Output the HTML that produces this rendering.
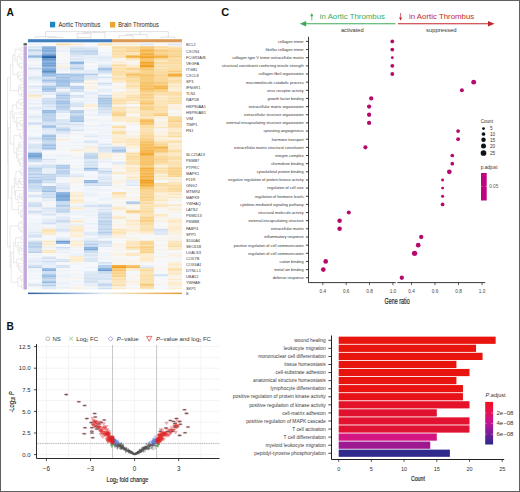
<!DOCTYPE html><html><head><meta charset="utf-8"><style>html,body{margin:0;padding:0;background:#fff;}svg{display:block;}text{font-family:"Liberation Sans",sans-serif;}</style></head><body>
<svg width="520" height="492" viewBox="0 0 520 492">
<rect x="0" y="0" width="520" height="492" fill="#fff"/>
<text x="6.6" y="15.6" font-size="10.2" text-anchor="start" fill="#111" font-weight="bold">A</text>
<rect x="50" y="21.8" width="5.2" height="5.6" fill="#1b87c6"/>
<text x="58.4" y="27.0" font-size="6.5" text-anchor="start" fill="#2a2a2a" textLength="42" lengthAdjust="spacingAndGlyphs">Aortic Thrombus</text>
<rect x="110" y="21.9" width="5.2" height="5.6" fill="#e9a530"/>
<text x="118.2" y="27.0" font-size="6.5" text-anchor="start" fill="#2a2a2a" textLength="40.6" lengthAdjust="spacingAndGlyphs">Brain Thrombus</text>
<path d="M35.0,38.6V36.8H56.3V36.8 M49.0,38.6V37.4H63.0V38.6 M56.3,36.8V37.4 M77.0,38.6V37.6H91.0V38.6 M77.0,37.6V33.4H91.0V37.6 M84.0,33.4V32.4H105.0V38.6 M119.0,38.6V35.6H133.0V38.6 M147.0,38.6V34.4H126.0V35.6 M161.0,38.6V37.1H175.0V38.6 M45.6,36.8V31.6H168.3V37.1 M94.5,32.4V31.6 M140,34.4V31.6" fill="none" stroke="#c4c4c4" stroke-width="0.5"/>
<rect x="28" y="39.2" width="84" height="3.1" fill="#3f7fbe"/>
<rect x="112" y="39.2" width="70" height="3.1" fill="#dc9a58"/>
<defs><filter id="hb" x="-2%" y="-2%" width="104%" height="104%"><feGaussianBlur stdDeviation="0.55"/></filter><clipPath id="hc"><rect x="28" y="43.2" width="154" height="246.3"/></clipPath></defs>
<g clip-path="url(#hc)"><g filter="url(#hb)"><rect x="28.0" y="43.20" width="14.3" height="2.30" fill="#ecf2f9"/><rect x="42.0" y="43.20" width="14.3" height="2.30" fill="#f6f8fc"/><rect x="56.0" y="43.20" width="14.3" height="2.30" fill="#fbe0ac"/><rect x="70.0" y="43.20" width="14.3" height="2.30" fill="#fcedd0"/><rect x="84.0" y="43.20" width="14.3" height="2.30" fill="#f5f7fc"/><rect x="98.0" y="43.20" width="14.3" height="2.30" fill="#fbe0ac"/><rect x="112.0" y="43.20" width="14.3" height="2.30" fill="#fcedd0"/><rect x="126.0" y="43.20" width="14.3" height="2.30" fill="#fcedd0"/><rect x="140.0" y="43.20" width="14.3" height="2.30" fill="#dde8f5"/><rect x="154.0" y="43.20" width="14.3" height="2.30" fill="#f7f5f2"/><rect x="168.0" y="43.20" width="14.3" height="2.30" fill="#dde8f5"/><rect x="28.0" y="46.24" width="14.3" height="1.72" fill="#d4e3f3"/><rect x="28.0" y="47.76" width="14.3" height="1.72" fill="#e6eef7"/><rect x="42.0" y="46.24" width="14.3" height="1.72" fill="#8db4df"/><rect x="42.0" y="47.76" width="14.3" height="1.72" fill="#81acdc"/><rect x="56.0" y="46.24" width="14.3" height="1.72" fill="#eaf0f9"/><rect x="56.0" y="47.76" width="14.3" height="1.72" fill="#f0f4fa"/><rect x="70.0" y="46.24" width="14.3" height="1.72" fill="#e0eaf6"/><rect x="70.0" y="47.76" width="14.3" height="1.72" fill="#d0e0f1"/><rect x="84.0" y="46.24" width="14.3" height="1.72" fill="#e6eef7"/><rect x="84.0" y="47.76" width="14.3" height="1.72" fill="#d5e3f3"/><rect x="98.0" y="46.24" width="14.3" height="1.72" fill="#f7f6f3"/><rect x="98.0" y="47.76" width="14.3" height="1.72" fill="#f6f8fb"/><rect x="112.0" y="46.24" width="14.3" height="1.72" fill="#fada9e"/><rect x="112.0" y="47.76" width="14.3" height="1.72" fill="#fbdea8"/><rect x="126.0" y="46.24" width="14.3" height="1.72" fill="#fada9e"/><rect x="126.0" y="47.76" width="14.3" height="1.72" fill="#f9d693"/><rect x="140.0" y="46.24" width="14.3" height="1.72" fill="#f7c66e"/><rect x="140.0" y="47.76" width="14.3" height="1.72" fill="#f8cc7c"/><rect x="154.0" y="46.24" width="14.3" height="1.72" fill="#fad99b"/><rect x="154.0" y="47.76" width="14.3" height="1.72" fill="#fbe2b2"/><rect x="168.0" y="46.24" width="14.3" height="1.72" fill="#fbe5bb"/><rect x="168.0" y="47.76" width="14.3" height="1.72" fill="#fadba0"/><rect x="28.0" y="49.28" width="14.3" height="1.72" fill="#b5ceea"/><rect x="28.0" y="50.80" width="14.3" height="1.72" fill="#d1e0f2"/><rect x="42.0" y="49.28" width="14.3" height="1.72" fill="#7eaada"/><rect x="42.0" y="50.80" width="14.3" height="1.72" fill="#82addd"/><rect x="56.0" y="49.28" width="14.3" height="1.72" fill="#edf2f9"/><rect x="56.0" y="50.80" width="14.3" height="1.72" fill="#eaf0f9"/><rect x="70.0" y="49.28" width="14.3" height="1.72" fill="#cfdff1"/><rect x="70.0" y="50.80" width="14.3" height="1.72" fill="#b9d1eb"/><rect x="84.0" y="49.28" width="14.3" height="1.72" fill="#ccddf0"/><rect x="84.0" y="50.80" width="14.3" height="1.72" fill="#b8d0eb"/><rect x="98.0" y="49.28" width="14.3" height="1.72" fill="#f6f8fb"/><rect x="98.0" y="50.80" width="14.3" height="1.72" fill="#f6f8fb"/><rect x="112.0" y="49.28" width="14.3" height="1.72" fill="#fbdfa9"/><rect x="112.0" y="50.80" width="14.3" height="1.72" fill="#fadca3"/><rect x="126.0" y="49.28" width="14.3" height="1.72" fill="#fad99b"/><rect x="126.0" y="50.80" width="14.3" height="1.72" fill="#f9d38e"/><rect x="140.0" y="49.28" width="14.3" height="1.72" fill="#f4b141"/><rect x="140.0" y="50.80" width="14.3" height="1.72" fill="#f6bc59"/><rect x="154.0" y="49.28" width="14.3" height="1.72" fill="#f8cc7d"/><rect x="154.0" y="50.80" width="14.3" height="1.72" fill="#f8cd7f"/><rect x="168.0" y="49.28" width="14.3" height="1.72" fill="#f9d490"/><rect x="168.0" y="50.80" width="14.3" height="1.72" fill="#f9d592"/><rect x="28.0" y="52.32" width="14.3" height="1.72" fill="#dce7f5"/><rect x="28.0" y="53.84" width="14.3" height="1.72" fill="#dae6f4"/><rect x="42.0" y="52.32" width="14.3" height="1.72" fill="#94b9e1"/><rect x="42.0" y="53.84" width="14.3" height="1.72" fill="#7aa7d8"/><rect x="56.0" y="52.32" width="14.3" height="1.72" fill="#f6f8fb"/><rect x="56.0" y="53.84" width="14.3" height="1.72" fill="#f7f7f7"/><rect x="70.0" y="52.32" width="14.3" height="1.72" fill="#cbdcf0"/><rect x="70.0" y="53.84" width="14.3" height="1.72" fill="#d3e1f2"/><rect x="84.0" y="52.32" width="14.3" height="1.72" fill="#c4d8ee"/><rect x="84.0" y="53.84" width="14.3" height="1.72" fill="#c4d8ee"/><rect x="98.0" y="52.32" width="14.3" height="1.72" fill="#edf2fa"/><rect x="98.0" y="53.84" width="14.3" height="1.72" fill="#f4f7fb"/><rect x="112.0" y="52.32" width="14.3" height="1.72" fill="#fbdfaa"/><rect x="112.0" y="53.84" width="14.3" height="1.72" fill="#fbdea7"/><rect x="126.0" y="52.32" width="14.3" height="1.72" fill="#fbe5ba"/><rect x="126.0" y="53.84" width="14.3" height="1.72" fill="#fbe5ba"/><rect x="140.0" y="52.32" width="14.3" height="1.72" fill="#f5ba53"/><rect x="140.0" y="53.84" width="14.3" height="1.72" fill="#f4af3d"/><rect x="154.0" y="52.32" width="14.3" height="1.72" fill="#f9d593"/><rect x="154.0" y="53.84" width="14.3" height="1.72" fill="#f9d189"/><rect x="168.0" y="52.32" width="14.3" height="1.72" fill="#f9d694"/><rect x="168.0" y="53.84" width="14.3" height="1.72" fill="#fad99c"/><rect x="28.0" y="55.36" width="14.3" height="1.72" fill="#90b7e0"/><rect x="28.0" y="56.88" width="14.3" height="1.72" fill="#afcae8"/><rect x="42.0" y="55.36" width="14.3" height="1.72" fill="#3770ae"/><rect x="42.0" y="56.88" width="14.3" height="1.72" fill="#2864a5"/><rect x="56.0" y="55.36" width="14.3" height="1.72" fill="#f7f7f6"/><rect x="56.0" y="56.88" width="14.3" height="1.72" fill="#f7f6f4"/><rect x="70.0" y="55.36" width="14.3" height="1.72" fill="#dae6f4"/><rect x="70.0" y="56.88" width="14.3" height="1.72" fill="#ecf1f9"/><rect x="84.0" y="55.36" width="14.3" height="1.72" fill="#ebf1f9"/><rect x="84.0" y="56.88" width="14.3" height="1.72" fill="#e0eaf6"/><rect x="98.0" y="55.36" width="14.3" height="1.72" fill="#e8eff8"/><rect x="98.0" y="56.88" width="14.3" height="1.72" fill="#dde8f5"/><rect x="112.0" y="55.36" width="14.3" height="1.72" fill="#fbe2b1"/><rect x="112.0" y="56.88" width="14.3" height="1.72" fill="#fbe4b7"/><rect x="126.0" y="55.36" width="14.3" height="1.72" fill="#f4b03f"/><rect x="126.0" y="56.88" width="14.3" height="1.72" fill="#f6bd5b"/><rect x="140.0" y="55.36" width="14.3" height="1.72" fill="#f4b03e"/><rect x="140.0" y="56.88" width="14.3" height="1.72" fill="#f2a123"/><rect x="154.0" y="55.36" width="14.3" height="1.72" fill="#f4b243"/><rect x="154.0" y="56.88" width="14.3" height="1.72" fill="#f5b74e"/><rect x="168.0" y="55.36" width="14.3" height="1.72" fill="#f8ce80"/><rect x="168.0" y="56.88" width="14.3" height="1.72" fill="#fada9e"/><rect x="28.0" y="58.40" width="14.3" height="1.72" fill="#f1f5fb"/><rect x="28.0" y="59.92" width="14.3" height="1.72" fill="#ecf2f9"/><rect x="42.0" y="58.40" width="14.3" height="1.72" fill="#6999ce"/><rect x="42.0" y="59.92" width="14.3" height="1.72" fill="#77a5d7"/><rect x="56.0" y="58.40" width="14.3" height="1.72" fill="#f6f8fb"/><rect x="56.0" y="59.92" width="14.3" height="1.72" fill="#f2f5fb"/><rect x="70.0" y="58.40" width="14.3" height="1.72" fill="#d6e3f3"/><rect x="70.0" y="59.92" width="14.3" height="1.72" fill="#ebf1f9"/><rect x="84.0" y="58.40" width="14.3" height="1.72" fill="#eaf0f9"/><rect x="84.0" y="59.92" width="14.3" height="1.72" fill="#edf2fa"/><rect x="98.0" y="58.40" width="14.3" height="1.72" fill="#e7eef8"/><rect x="98.0" y="59.92" width="14.3" height="1.72" fill="#e6eef7"/><rect x="112.0" y="58.40" width="14.3" height="1.72" fill="#f7f6f3"/><rect x="112.0" y="59.92" width="14.3" height="1.72" fill="#f8f5ef"/><rect x="126.0" y="58.40" width="14.3" height="1.72" fill="#fce8c1"/><rect x="126.0" y="59.92" width="14.3" height="1.72" fill="#fbf0da"/><rect x="140.0" y="58.40" width="14.3" height="1.72" fill="#f7c56d"/><rect x="140.0" y="59.92" width="14.3" height="1.72" fill="#f8c976"/><rect x="154.0" y="58.40" width="14.3" height="1.72" fill="#fadca2"/><rect x="154.0" y="59.92" width="14.3" height="1.72" fill="#fce8c1"/><rect x="168.0" y="58.40" width="14.3" height="1.72" fill="#fbdda5"/><rect x="168.0" y="59.92" width="14.3" height="1.72" fill="#fad99b"/><rect x="28.0" y="61.44" width="14.3" height="1.72" fill="#f5f7fc"/><rect x="28.0" y="62.96" width="14.3" height="1.72" fill="#f7f7f8"/><rect x="42.0" y="61.44" width="14.3" height="1.72" fill="#83aedd"/><rect x="42.0" y="62.96" width="14.3" height="1.72" fill="#73a2d4"/><rect x="56.0" y="61.44" width="14.3" height="1.72" fill="#f7f7f6"/><rect x="56.0" y="62.96" width="14.3" height="1.72" fill="#ecf1f9"/><rect x="70.0" y="61.44" width="14.3" height="1.72" fill="#91b7e1"/><rect x="70.0" y="62.96" width="14.3" height="1.72" fill="#91b7e1"/><rect x="84.0" y="61.44" width="14.3" height="1.72" fill="#ecf2f9"/><rect x="84.0" y="62.96" width="14.3" height="1.72" fill="#f7f7f7"/><rect x="98.0" y="61.44" width="14.3" height="1.72" fill="#f3f6fb"/><rect x="98.0" y="62.96" width="14.3" height="1.72" fill="#eff4fa"/><rect x="112.0" y="61.44" width="14.3" height="1.72" fill="#fcedd0"/><rect x="112.0" y="62.96" width="14.3" height="1.72" fill="#faf1df"/><rect x="126.0" y="61.44" width="14.3" height="1.72" fill="#f7f6f5"/><rect x="126.0" y="62.96" width="14.3" height="1.72" fill="#f8f4eb"/><rect x="140.0" y="61.44" width="14.3" height="1.72" fill="#f3a72b"/><rect x="140.0" y="62.96" width="14.3" height="1.72" fill="#f4b03f"/><rect x="154.0" y="61.44" width="14.3" height="1.72" fill="#fadda4"/><rect x="154.0" y="62.96" width="14.3" height="1.72" fill="#fada9e"/><rect x="168.0" y="61.44" width="14.3" height="1.72" fill="#fadca2"/><rect x="168.0" y="62.96" width="14.3" height="1.72" fill="#fadba1"/><rect x="28.0" y="64.48" width="14.3" height="1.72" fill="#ebf1f9"/><rect x="28.0" y="66.00" width="14.3" height="1.72" fill="#f6f8fa"/><rect x="42.0" y="64.48" width="14.3" height="1.72" fill="#6f9ed1"/><rect x="42.0" y="66.00" width="14.3" height="1.72" fill="#89b2de"/><rect x="56.0" y="64.48" width="14.3" height="1.72" fill="#f8f5ef"/><rect x="56.0" y="66.00" width="14.3" height="1.72" fill="#fbefd7"/><rect x="70.0" y="64.48" width="14.3" height="1.72" fill="#d7e4f3"/><rect x="70.0" y="66.00" width="14.3" height="1.72" fill="#cfdff1"/><rect x="84.0" y="64.48" width="14.3" height="1.72" fill="#f7f7f6"/><rect x="84.0" y="66.00" width="14.3" height="1.72" fill="#eff3fa"/><rect x="98.0" y="64.48" width="14.3" height="1.72" fill="#dde8f5"/><rect x="98.0" y="66.00" width="14.3" height="1.72" fill="#dee9f5"/><rect x="112.0" y="64.48" width="14.3" height="1.72" fill="#fad99b"/><rect x="112.0" y="66.00" width="14.3" height="1.72" fill="#fbe6bd"/><rect x="126.0" y="64.48" width="14.3" height="1.72" fill="#fcebcc"/><rect x="126.0" y="66.00" width="14.3" height="1.72" fill="#fcedd0"/><rect x="140.0" y="64.48" width="14.3" height="1.72" fill="#f2a225"/><rect x="140.0" y="66.00" width="14.3" height="1.72" fill="#f19d1e"/><rect x="154.0" y="64.48" width="14.3" height="1.72" fill="#fbe3b4"/><rect x="154.0" y="66.00" width="14.3" height="1.72" fill="#fbdda5"/><rect x="168.0" y="64.48" width="14.3" height="1.72" fill="#fbe0ab"/><rect x="168.0" y="66.00" width="14.3" height="1.72" fill="#fbdfaa"/><rect x="28.0" y="67.52" width="14.3" height="1.72" fill="#d0e0f1"/><rect x="28.0" y="69.04" width="14.3" height="1.72" fill="#e6eef8"/><rect x="42.0" y="67.52" width="14.3" height="1.72" fill="#93b9e1"/><rect x="42.0" y="69.04" width="14.3" height="1.72" fill="#78a6d7"/><rect x="56.0" y="67.52" width="14.3" height="1.72" fill="#ebf1f9"/><rect x="56.0" y="69.04" width="14.3" height="1.72" fill="#ebf1f9"/><rect x="70.0" y="67.52" width="14.3" height="1.72" fill="#b3cde9"/><rect x="70.0" y="69.04" width="14.3" height="1.72" fill="#cddef1"/><rect x="84.0" y="67.52" width="14.3" height="1.72" fill="#f4f7fc"/><rect x="84.0" y="69.04" width="14.3" height="1.72" fill="#eaf0f9"/><rect x="98.0" y="67.52" width="14.3" height="1.72" fill="#a8c6e7"/><rect x="98.0" y="69.04" width="14.3" height="1.72" fill="#a0c0e4"/><rect x="112.0" y="67.52" width="14.3" height="1.72" fill="#fbe0ab"/><rect x="112.0" y="69.04" width="14.3" height="1.72" fill="#fbe2b1"/><rect x="126.0" y="67.52" width="14.3" height="1.72" fill="#f9d591"/><rect x="126.0" y="69.04" width="14.3" height="1.72" fill="#fad797"/><rect x="140.0" y="67.52" width="14.3" height="1.72" fill="#f8cd7f"/><rect x="140.0" y="69.04" width="14.3" height="1.72" fill="#f7c770"/><rect x="154.0" y="67.52" width="14.3" height="1.72" fill="#fbe4b7"/><rect x="154.0" y="69.04" width="14.3" height="1.72" fill="#fbdda4"/><rect x="168.0" y="67.52" width="14.3" height="1.72" fill="#fadba0"/><rect x="168.0" y="69.04" width="14.3" height="1.72" fill="#fadda4"/><rect x="28.0" y="70.56" width="14.3" height="1.72" fill="#f0f4fa"/><rect x="28.0" y="72.08" width="14.3" height="1.72" fill="#f2f5fb"/><rect x="42.0" y="70.56" width="14.3" height="1.72" fill="#5b8ec5"/><rect x="42.0" y="72.08" width="14.3" height="1.72" fill="#6c9cd0"/><rect x="56.0" y="70.56" width="14.3" height="1.72" fill="#f2f6fb"/><rect x="56.0" y="72.08" width="14.3" height="1.72" fill="#f6f8fc"/><rect x="70.0" y="70.56" width="14.3" height="1.72" fill="#e9eff8"/><rect x="70.0" y="72.08" width="14.3" height="1.72" fill="#e5edf7"/><rect x="84.0" y="70.56" width="14.3" height="1.72" fill="#e1eaf6"/><rect x="84.0" y="72.08" width="14.3" height="1.72" fill="#e5edf7"/><rect x="98.0" y="70.56" width="14.3" height="1.72" fill="#c9dbef"/><rect x="98.0" y="72.08" width="14.3" height="1.72" fill="#cfdff1"/><rect x="112.0" y="70.56" width="14.3" height="1.72" fill="#fbdda5"/><rect x="112.0" y="72.08" width="14.3" height="1.72" fill="#fbdda5"/><rect x="126.0" y="70.56" width="14.3" height="1.72" fill="#fbe4b7"/><rect x="126.0" y="72.08" width="14.3" height="1.72" fill="#fad99c"/><rect x="140.0" y="70.56" width="14.3" height="1.72" fill="#f9d591"/><rect x="140.0" y="72.08" width="14.3" height="1.72" fill="#f9d189"/><rect x="154.0" y="70.56" width="14.3" height="1.72" fill="#fadba0"/><rect x="154.0" y="72.08" width="14.3" height="1.72" fill="#fad99b"/><rect x="168.0" y="70.56" width="14.3" height="1.72" fill="#f8cb7b"/><rect x="168.0" y="72.08" width="14.3" height="1.72" fill="#fadb9f"/><rect x="28.0" y="73.60" width="14.3" height="1.72" fill="#f0f4fa"/><rect x="28.0" y="75.12" width="14.3" height="1.72" fill="#ecf2f9"/><rect x="42.0" y="73.60" width="14.3" height="1.72" fill="#a4c3e6"/><rect x="42.0" y="75.12" width="14.3" height="1.72" fill="#91b7e0"/><rect x="56.0" y="73.60" width="14.3" height="1.72" fill="#9abde3"/><rect x="56.0" y="75.12" width="14.3" height="1.72" fill="#b4ceea"/><rect x="70.0" y="73.60" width="14.3" height="1.72" fill="#acc8e8"/><rect x="70.0" y="75.12" width="14.3" height="1.72" fill="#a0c1e5"/><rect x="84.0" y="73.60" width="14.3" height="1.72" fill="#b4ceea"/><rect x="84.0" y="75.12" width="14.3" height="1.72" fill="#d2e1f2"/><rect x="98.0" y="73.60" width="14.3" height="1.72" fill="#eff4fa"/><rect x="98.0" y="75.12" width="14.3" height="1.72" fill="#f5f7fc"/><rect x="112.0" y="73.60" width="14.3" height="1.72" fill="#fbdda5"/><rect x="112.0" y="75.12" width="14.3" height="1.72" fill="#fbe4b6"/><rect x="126.0" y="73.60" width="14.3" height="1.72" fill="#f6be5c"/><rect x="126.0" y="75.12" width="14.3" height="1.72" fill="#f7c975"/><rect x="140.0" y="73.60" width="14.3" height="1.72" fill="#f8ca77"/><rect x="140.0" y="75.12" width="14.3" height="1.72" fill="#f6c061"/><rect x="154.0" y="73.60" width="14.3" height="1.72" fill="#fad89a"/><rect x="154.0" y="75.12" width="14.3" height="1.72" fill="#f9d086"/><rect x="168.0" y="73.60" width="14.3" height="1.72" fill="#f4ad39"/><rect x="168.0" y="75.12" width="14.3" height="1.72" fill="#f3a62a"/><rect x="28.0" y="76.64" width="14.3" height="1.72" fill="#d6e4f3"/><rect x="28.0" y="78.16" width="14.3" height="1.72" fill="#d9e6f4"/><rect x="42.0" y="76.64" width="14.3" height="1.72" fill="#d1e0f2"/><rect x="42.0" y="78.16" width="14.3" height="1.72" fill="#c3d7ee"/><rect x="56.0" y="76.64" width="14.3" height="1.72" fill="#9fc0e4"/><rect x="56.0" y="78.16" width="14.3" height="1.72" fill="#a7c5e6"/><rect x="70.0" y="76.64" width="14.3" height="1.72" fill="#bbd2ec"/><rect x="70.0" y="78.16" width="14.3" height="1.72" fill="#b7cfea"/><rect x="84.0" y="76.64" width="14.3" height="1.72" fill="#dae6f4"/><rect x="84.0" y="78.16" width="14.3" height="1.72" fill="#d6e4f3"/><rect x="98.0" y="76.64" width="14.3" height="1.72" fill="#d4e2f2"/><rect x="98.0" y="78.16" width="14.3" height="1.72" fill="#ebf1f9"/><rect x="112.0" y="76.64" width="14.3" height="1.72" fill="#fce7c0"/><rect x="112.0" y="78.16" width="14.3" height="1.72" fill="#fadba0"/><rect x="126.0" y="76.64" width="14.3" height="1.72" fill="#fad99c"/><rect x="126.0" y="78.16" width="14.3" height="1.72" fill="#fbdda4"/><rect x="140.0" y="76.64" width="14.3" height="1.72" fill="#f8ce80"/><rect x="140.0" y="78.16" width="14.3" height="1.72" fill="#f7c66e"/><rect x="154.0" y="76.64" width="14.3" height="1.72" fill="#fada9e"/><rect x="154.0" y="78.16" width="14.3" height="1.72" fill="#f9d189"/><rect x="168.0" y="76.64" width="14.3" height="1.72" fill="#fbdda5"/><rect x="168.0" y="78.16" width="14.3" height="1.72" fill="#fbe4b7"/><rect x="28.0" y="79.68" width="14.3" height="1.72" fill="#ebf1f9"/><rect x="28.0" y="81.20" width="14.3" height="1.72" fill="#eff3fa"/><rect x="42.0" y="79.68" width="14.3" height="1.72" fill="#a0c1e5"/><rect x="42.0" y="81.20" width="14.3" height="1.72" fill="#b2cce9"/><rect x="56.0" y="79.68" width="14.3" height="1.72" fill="#9dbfe4"/><rect x="56.0" y="81.20" width="14.3" height="1.72" fill="#93b8e1"/><rect x="70.0" y="79.68" width="14.3" height="1.72" fill="#aecae8"/><rect x="70.0" y="81.20" width="14.3" height="1.72" fill="#afcbe8"/><rect x="84.0" y="79.68" width="14.3" height="1.72" fill="#faf1e0"/><rect x="84.0" y="81.20" width="14.3" height="1.72" fill="#f6f7f9"/><rect x="98.0" y="79.68" width="14.3" height="1.72" fill="#f3f6fb"/><rect x="98.0" y="81.20" width="14.3" height="1.72" fill="#edf3fa"/><rect x="112.0" y="79.68" width="14.3" height="1.72" fill="#fce8c3"/><rect x="112.0" y="81.20" width="14.3" height="1.72" fill="#fce8c1"/><rect x="126.0" y="79.68" width="14.3" height="1.72" fill="#fad99c"/><rect x="126.0" y="81.20" width="14.3" height="1.72" fill="#fada9e"/><rect x="140.0" y="79.68" width="14.3" height="1.72" fill="#f8ce80"/><rect x="140.0" y="81.20" width="14.3" height="1.72" fill="#f7c56b"/><rect x="154.0" y="79.68" width="14.3" height="1.72" fill="#fada9d"/><rect x="154.0" y="81.20" width="14.3" height="1.72" fill="#f8cd7e"/><rect x="168.0" y="79.68" width="14.3" height="1.72" fill="#fadca3"/><rect x="168.0" y="81.20" width="14.3" height="1.72" fill="#fadca2"/><rect x="28.0" y="82.72" width="14.3" height="1.72" fill="#f6f7f9"/><rect x="28.0" y="84.24" width="14.3" height="1.72" fill="#f4f7fb"/><rect x="42.0" y="82.72" width="14.3" height="1.72" fill="#e1eaf6"/><rect x="42.0" y="84.24" width="14.3" height="1.72" fill="#dce7f5"/><rect x="56.0" y="82.72" width="14.3" height="1.72" fill="#aecae8"/><rect x="56.0" y="84.24" width="14.3" height="1.72" fill="#9bbee3"/><rect x="70.0" y="82.72" width="14.3" height="1.72" fill="#eff3fa"/><rect x="70.0" y="84.24" width="14.3" height="1.72" fill="#f4f7fc"/><rect x="84.0" y="82.72" width="14.3" height="1.72" fill="#fcecce"/><rect x="84.0" y="84.24" width="14.3" height="1.72" fill="#f7f7f8"/><rect x="98.0" y="82.72" width="14.3" height="1.72" fill="#d0e0f1"/><rect x="98.0" y="84.24" width="14.3" height="1.72" fill="#dde8f5"/><rect x="112.0" y="82.72" width="14.3" height="1.72" fill="#f7f7f8"/><rect x="112.0" y="84.24" width="14.3" height="1.72" fill="#f5f7fc"/><rect x="126.0" y="82.72" width="14.3" height="1.72" fill="#fce7c0"/><rect x="126.0" y="84.24" width="14.3" height="1.72" fill="#fbe0ac"/><rect x="140.0" y="82.72" width="14.3" height="1.72" fill="#f7c367"/><rect x="140.0" y="84.24" width="14.3" height="1.72" fill="#f7c368"/><rect x="154.0" y="82.72" width="14.3" height="1.72" fill="#f8cb7b"/><rect x="154.0" y="84.24" width="14.3" height="1.72" fill="#f8cc7d"/><rect x="168.0" y="82.72" width="14.3" height="1.72" fill="#fbe6bd"/><rect x="168.0" y="84.24" width="14.3" height="1.72" fill="#fcecce"/><rect x="28.0" y="85.76" width="14.3" height="1.72" fill="#dae6f4"/><rect x="28.0" y="87.28" width="14.3" height="1.72" fill="#e3ecf7"/><rect x="42.0" y="85.76" width="14.3" height="1.72" fill="#abc8e7"/><rect x="42.0" y="87.28" width="14.3" height="1.72" fill="#a3c3e5"/><rect x="56.0" y="85.76" width="14.3" height="1.72" fill="#b3cde9"/><rect x="56.0" y="87.28" width="14.3" height="1.72" fill="#cedef1"/><rect x="70.0" y="85.76" width="14.3" height="1.72" fill="#b8d0eb"/><rect x="70.0" y="87.28" width="14.3" height="1.72" fill="#b1cce9"/><rect x="84.0" y="85.76" width="14.3" height="1.72" fill="#f9f3e9"/><rect x="84.0" y="87.28" width="14.3" height="1.72" fill="#faf1e0"/><rect x="98.0" y="85.76" width="14.3" height="1.72" fill="#f6f8fc"/><rect x="98.0" y="87.28" width="14.3" height="1.72" fill="#f2f6fb"/><rect x="112.0" y="85.76" width="14.3" height="1.72" fill="#f9f3e8"/><rect x="112.0" y="87.28" width="14.3" height="1.72" fill="#f9f2e4"/><rect x="126.0" y="85.76" width="14.3" height="1.72" fill="#fbdda5"/><rect x="126.0" y="87.28" width="14.3" height="1.72" fill="#fbe4b8"/><rect x="140.0" y="85.76" width="14.3" height="1.72" fill="#f6c163"/><rect x="140.0" y="87.28" width="14.3" height="1.72" fill="#f6bf5e"/><rect x="154.0" y="85.76" width="14.3" height="1.72" fill="#f5b64c"/><rect x="154.0" y="87.28" width="14.3" height="1.72" fill="#f4b03e"/><rect x="168.0" y="85.76" width="14.3" height="1.72" fill="#fbe6bc"/><rect x="168.0" y="87.28" width="14.3" height="1.72" fill="#fbeed6"/><rect x="28.0" y="88.80" width="14.3" height="1.72" fill="#f6f7fa"/><rect x="28.0" y="90.32" width="14.3" height="1.72" fill="#eaf0f9"/><rect x="42.0" y="88.80" width="14.3" height="1.72" fill="#9cbee3"/><rect x="42.0" y="90.32" width="14.3" height="1.72" fill="#a7c5e6"/><rect x="56.0" y="88.80" width="14.3" height="1.72" fill="#f5f7fc"/><rect x="56.0" y="90.32" width="14.3" height="1.72" fill="#ecf2f9"/><rect x="70.0" y="88.80" width="14.3" height="1.72" fill="#d1e0f2"/><rect x="70.0" y="90.32" width="14.3" height="1.72" fill="#c5d9ee"/><rect x="84.0" y="88.80" width="14.3" height="1.72" fill="#f7f6f3"/><rect x="84.0" y="90.32" width="14.3" height="1.72" fill="#f3f6fb"/><rect x="98.0" y="88.80" width="14.3" height="1.72" fill="#e5edf7"/><rect x="98.0" y="90.32" width="14.3" height="1.72" fill="#e4edf7"/><rect x="112.0" y="88.80" width="14.3" height="1.72" fill="#f5f7fc"/><rect x="112.0" y="90.32" width="14.3" height="1.72" fill="#f7f6f4"/><rect x="126.0" y="88.80" width="14.3" height="1.72" fill="#faf1e1"/><rect x="126.0" y="90.32" width="14.3" height="1.72" fill="#fcecce"/><rect x="140.0" y="88.80" width="14.3" height="1.72" fill="#f6c062"/><rect x="140.0" y="90.32" width="14.3" height="1.72" fill="#f7c873"/><rect x="154.0" y="88.80" width="14.3" height="1.72" fill="#f8cc7c"/><rect x="154.0" y="90.32" width="14.3" height="1.72" fill="#f8cd80"/><rect x="168.0" y="88.80" width="14.3" height="1.72" fill="#fbeed4"/><rect x="168.0" y="90.32" width="14.3" height="1.72" fill="#fceccd"/><rect x="28.0" y="91.84" width="14.3" height="1.72" fill="#edf2fa"/><rect x="28.0" y="93.36" width="14.3" height="1.72" fill="#ebf1f9"/><rect x="42.0" y="91.84" width="14.3" height="1.72" fill="#eaf0f9"/><rect x="42.0" y="93.36" width="14.3" height="1.72" fill="#dee8f5"/><rect x="56.0" y="91.84" width="14.3" height="1.72" fill="#d0e0f1"/><rect x="56.0" y="93.36" width="14.3" height="1.72" fill="#c4d8ee"/><rect x="70.0" y="91.84" width="14.3" height="1.72" fill="#f1f5fb"/><rect x="70.0" y="93.36" width="14.3" height="1.72" fill="#f5f7fc"/><rect x="84.0" y="91.84" width="14.3" height="1.72" fill="#e5edf7"/><rect x="84.0" y="93.36" width="14.3" height="1.72" fill="#e5edf7"/><rect x="98.0" y="91.84" width="14.3" height="1.72" fill="#f1f5fb"/><rect x="98.0" y="93.36" width="14.3" height="1.72" fill="#f0f4fa"/><rect x="112.0" y="91.84" width="14.3" height="1.72" fill="#fcedd1"/><rect x="112.0" y="93.36" width="14.3" height="1.72" fill="#faf0dc"/><rect x="126.0" y="91.84" width="14.3" height="1.72" fill="#fcecce"/><rect x="126.0" y="93.36" width="14.3" height="1.72" fill="#fceed2"/><rect x="140.0" y="91.84" width="14.3" height="1.72" fill="#fada9e"/><rect x="140.0" y="93.36" width="14.3" height="1.72" fill="#f8ce81"/><rect x="154.0" y="91.84" width="14.3" height="1.72" fill="#fbdfa9"/><rect x="154.0" y="93.36" width="14.3" height="1.72" fill="#fadba1"/><rect x="168.0" y="91.84" width="14.3" height="1.72" fill="#fadca3"/><rect x="168.0" y="93.36" width="14.3" height="1.72" fill="#fadca3"/><rect x="28.0" y="94.88" width="14.3" height="1.72" fill="#fbe5bb"/><rect x="28.0" y="96.40" width="14.3" height="1.72" fill="#fbefd7"/><rect x="42.0" y="94.88" width="14.3" height="1.72" fill="#f5f7fc"/><rect x="42.0" y="96.40" width="14.3" height="1.72" fill="#f4f7fb"/><rect x="56.0" y="94.88" width="14.3" height="1.72" fill="#a5c4e6"/><rect x="56.0" y="96.40" width="14.3" height="1.72" fill="#b6cfea"/><rect x="70.0" y="94.88" width="14.3" height="1.72" fill="#d4e2f2"/><rect x="70.0" y="96.40" width="14.3" height="1.72" fill="#d5e3f3"/><rect x="84.0" y="94.88" width="14.3" height="1.72" fill="#f2f5fb"/><rect x="84.0" y="96.40" width="14.3" height="1.72" fill="#eaf1f9"/><rect x="98.0" y="94.88" width="14.3" height="1.72" fill="#bfd5ed"/><rect x="98.0" y="96.40" width="14.3" height="1.72" fill="#cedef1"/><rect x="112.0" y="94.88" width="14.3" height="1.72" fill="#fcedd0"/><rect x="112.0" y="96.40" width="14.3" height="1.72" fill="#fceed2"/><rect x="126.0" y="94.88" width="14.3" height="1.72" fill="#fbe2b1"/><rect x="126.0" y="96.40" width="14.3" height="1.72" fill="#fbdea7"/><rect x="140.0" y="94.88" width="14.3" height="1.72" fill="#f9d189"/><rect x="140.0" y="96.40" width="14.3" height="1.72" fill="#f9d086"/><rect x="154.0" y="94.88" width="14.3" height="1.72" fill="#fce7c0"/><rect x="154.0" y="96.40" width="14.3" height="1.72" fill="#fce9c5"/><rect x="168.0" y="94.88" width="14.3" height="1.72" fill="#fbe2b1"/><rect x="168.0" y="96.40" width="14.3" height="1.72" fill="#fbe4b7"/><rect x="28.0" y="97.92" width="14.3" height="1.72" fill="#f7f6f5"/><rect x="28.0" y="99.44" width="14.3" height="1.72" fill="#edf2f9"/><rect x="42.0" y="97.92" width="14.3" height="1.72" fill="#cedff1"/><rect x="42.0" y="99.44" width="14.3" height="1.72" fill="#d0dff1"/><rect x="56.0" y="97.92" width="14.3" height="1.72" fill="#b3cde9"/><rect x="56.0" y="99.44" width="14.3" height="1.72" fill="#bcd3ec"/><rect x="70.0" y="97.92" width="14.3" height="1.72" fill="#f6f7f8"/><rect x="70.0" y="99.44" width="14.3" height="1.72" fill="#eef3fa"/><rect x="84.0" y="97.92" width="14.3" height="1.72" fill="#edf2fa"/><rect x="84.0" y="99.44" width="14.3" height="1.72" fill="#edf2fa"/><rect x="98.0" y="97.92" width="14.3" height="1.72" fill="#a2c2e5"/><rect x="98.0" y="99.44" width="14.3" height="1.72" fill="#abc8e7"/><rect x="112.0" y="97.92" width="14.3" height="1.72" fill="#fbe4b8"/><rect x="112.0" y="99.44" width="14.3" height="1.72" fill="#fbdda5"/><rect x="126.0" y="97.92" width="14.3" height="1.72" fill="#fbe3b3"/><rect x="126.0" y="99.44" width="14.3" height="1.72" fill="#fbdea6"/><rect x="140.0" y="97.92" width="14.3" height="1.72" fill="#f9d592"/><rect x="140.0" y="99.44" width="14.3" height="1.72" fill="#fad898"/><rect x="154.0" y="97.92" width="14.3" height="1.72" fill="#fbe6bc"/><rect x="154.0" y="99.44" width="14.3" height="1.72" fill="#fce7bf"/><rect x="168.0" y="97.92" width="14.3" height="1.72" fill="#fbdda5"/><rect x="168.0" y="99.44" width="14.3" height="1.72" fill="#fbe1b0"/><rect x="28.0" y="100.96" width="14.3" height="1.72" fill="#f5f7fc"/><rect x="28.0" y="102.48" width="14.3" height="1.72" fill="#eaf0f9"/><rect x="42.0" y="100.96" width="14.3" height="1.72" fill="#cbdcf0"/><rect x="42.0" y="102.48" width="14.3" height="1.72" fill="#c7daef"/><rect x="56.0" y="100.96" width="14.3" height="1.72" fill="#a0c1e4"/><rect x="56.0" y="102.48" width="14.3" height="1.72" fill="#a2c2e5"/><rect x="70.0" y="100.96" width="14.3" height="1.72" fill="#ebf1f9"/><rect x="70.0" y="102.48" width="14.3" height="1.72" fill="#d9e6f4"/><rect x="84.0" y="100.96" width="14.3" height="1.72" fill="#f0f4fa"/><rect x="84.0" y="102.48" width="14.3" height="1.72" fill="#f0f4fa"/><rect x="98.0" y="100.96" width="14.3" height="1.72" fill="#acc9e8"/><rect x="98.0" y="102.48" width="14.3" height="1.72" fill="#a8c6e6"/><rect x="112.0" y="100.96" width="14.3" height="1.72" fill="#fbe1ae"/><rect x="112.0" y="102.48" width="14.3" height="1.72" fill="#fbe0ab"/><rect x="126.0" y="100.96" width="14.3" height="1.72" fill="#faf1df"/><rect x="126.0" y="102.48" width="14.3" height="1.72" fill="#fce8c3"/><rect x="140.0" y="100.96" width="14.3" height="1.72" fill="#f8cd80"/><rect x="140.0" y="102.48" width="14.3" height="1.72" fill="#f7c368"/><rect x="154.0" y="100.96" width="14.3" height="1.72" fill="#fbe1ae"/><rect x="154.0" y="102.48" width="14.3" height="1.72" fill="#fbe4b8"/><rect x="168.0" y="100.96" width="14.3" height="1.72" fill="#fbdfa9"/><rect x="168.0" y="102.48" width="14.3" height="1.72" fill="#fbdfa9"/><rect x="28.0" y="104.00" width="14.3" height="1.72" fill="#ecf2f9"/><rect x="28.0" y="105.52" width="14.3" height="1.72" fill="#f6f7f9"/><rect x="42.0" y="104.00" width="14.3" height="1.72" fill="#d8e5f4"/><rect x="42.0" y="105.52" width="14.3" height="1.72" fill="#d8e5f4"/><rect x="56.0" y="104.00" width="14.3" height="1.72" fill="#b8d0eb"/><rect x="56.0" y="105.52" width="14.3" height="1.72" fill="#b2cce9"/><rect x="70.0" y="104.00" width="14.3" height="1.72" fill="#d4e2f2"/><rect x="70.0" y="105.52" width="14.3" height="1.72" fill="#d3e1f2"/><rect x="84.0" y="104.00" width="14.3" height="1.72" fill="#faf0db"/><rect x="84.0" y="105.52" width="14.3" height="1.72" fill="#fcedcf"/><rect x="98.0" y="104.00" width="14.3" height="1.72" fill="#b9d1eb"/><rect x="98.0" y="105.52" width="14.3" height="1.72" fill="#b4ceea"/><rect x="112.0" y="104.00" width="14.3" height="1.72" fill="#fceccf"/><rect x="112.0" y="105.52" width="14.3" height="1.72" fill="#f9f2e4"/><rect x="126.0" y="104.00" width="14.3" height="1.72" fill="#f6f8fa"/><rect x="126.0" y="105.52" width="14.3" height="1.72" fill="#f8f4eb"/><rect x="140.0" y="104.00" width="14.3" height="1.72" fill="#f9d28c"/><rect x="140.0" y="105.52" width="14.3" height="1.72" fill="#fad99c"/><rect x="154.0" y="104.00" width="14.3" height="1.72" fill="#fbe4b7"/><rect x="154.0" y="105.52" width="14.3" height="1.72" fill="#fbdea8"/><rect x="168.0" y="104.00" width="14.3" height="1.72" fill="#f9f2e5"/><rect x="168.0" y="105.52" width="14.3" height="1.72" fill="#faf1e0"/><rect x="28.0" y="107.04" width="14.3" height="1.72" fill="#dfe9f6"/><rect x="28.0" y="108.56" width="14.3" height="1.72" fill="#e7eef8"/><rect x="42.0" y="107.04" width="14.3" height="1.72" fill="#dee8f5"/><rect x="42.0" y="108.56" width="14.3" height="1.72" fill="#e2ebf6"/><rect x="56.0" y="107.04" width="14.3" height="1.72" fill="#b0cbe9"/><rect x="56.0" y="108.56" width="14.3" height="1.72" fill="#bcd3ec"/><rect x="70.0" y="107.04" width="14.3" height="1.72" fill="#f0f4fa"/><rect x="70.0" y="108.56" width="14.3" height="1.72" fill="#f6f7fa"/><rect x="84.0" y="107.04" width="14.3" height="1.72" fill="#f6f8fa"/><rect x="84.0" y="108.56" width="14.3" height="1.72" fill="#faf1e2"/><rect x="98.0" y="107.04" width="14.3" height="1.72" fill="#d0e0f1"/><rect x="98.0" y="108.56" width="14.3" height="1.72" fill="#ccddf0"/><rect x="112.0" y="107.04" width="14.3" height="1.72" fill="#fbdfa9"/><rect x="112.0" y="108.56" width="14.3" height="1.72" fill="#fbe5ba"/><rect x="126.0" y="107.04" width="14.3" height="1.72" fill="#fbe6be"/><rect x="126.0" y="108.56" width="14.3" height="1.72" fill="#f9f3e6"/><rect x="140.0" y="107.04" width="14.3" height="1.72" fill="#f8cc7c"/><rect x="140.0" y="108.56" width="14.3" height="1.72" fill="#f8cf83"/><rect x="154.0" y="107.04" width="14.3" height="1.72" fill="#fadda4"/><rect x="154.0" y="108.56" width="14.3" height="1.72" fill="#fbe0ab"/><rect x="168.0" y="107.04" width="14.3" height="1.72" fill="#faf1e2"/><rect x="168.0" y="108.56" width="14.3" height="1.72" fill="#fbefd8"/><rect x="28.0" y="110.08" width="14.3" height="1.72" fill="#f0f4fa"/><rect x="28.0" y="111.60" width="14.3" height="1.72" fill="#f6f7f9"/><rect x="42.0" y="110.08" width="14.3" height="1.72" fill="#90b6e0"/><rect x="42.0" y="111.60" width="14.3" height="1.72" fill="#99bce3"/><rect x="56.0" y="110.08" width="14.3" height="1.72" fill="#d1e0f2"/><rect x="56.0" y="111.60" width="14.3" height="1.72" fill="#d8e5f4"/><rect x="70.0" y="110.08" width="14.3" height="1.72" fill="#aecae8"/><rect x="70.0" y="111.60" width="14.3" height="1.72" fill="#acc9e8"/><rect x="84.0" y="110.08" width="14.3" height="1.72" fill="#ebf1f9"/><rect x="84.0" y="111.60" width="14.3" height="1.72" fill="#f5f7fc"/><rect x="98.0" y="110.08" width="14.3" height="1.72" fill="#dbe7f5"/><rect x="98.0" y="111.60" width="14.3" height="1.72" fill="#d5e3f3"/><rect x="112.0" y="110.08" width="14.3" height="1.72" fill="#fbe2b1"/><rect x="112.0" y="111.60" width="14.3" height="1.72" fill="#fada9e"/><rect x="126.0" y="110.08" width="14.3" height="1.72" fill="#fbeed4"/><rect x="126.0" y="111.60" width="14.3" height="1.72" fill="#fceac8"/><rect x="140.0" y="110.08" width="14.3" height="1.72" fill="#fbdea7"/><rect x="140.0" y="111.60" width="14.3" height="1.72" fill="#fbe0ad"/><rect x="154.0" y="110.08" width="14.3" height="1.72" fill="#fbdfaa"/><rect x="154.0" y="111.60" width="14.3" height="1.72" fill="#fbe2b2"/><rect x="168.0" y="110.08" width="14.3" height="1.72" fill="#f7f7f7"/><rect x="168.0" y="111.60" width="14.3" height="1.72" fill="#f7f7f6"/><rect x="28.0" y="113.12" width="14.3" height="1.72" fill="#f1f5fb"/><rect x="28.0" y="114.64" width="14.3" height="1.72" fill="#edf2f9"/><rect x="42.0" y="113.12" width="14.3" height="1.72" fill="#b1cce9"/><rect x="42.0" y="114.64" width="14.3" height="1.72" fill="#b8d0eb"/><rect x="56.0" y="113.12" width="14.3" height="1.72" fill="#f5f7fc"/><rect x="56.0" y="114.64" width="14.3" height="1.72" fill="#eef3fa"/><rect x="70.0" y="113.12" width="14.3" height="1.72" fill="#c9dbef"/><rect x="70.0" y="114.64" width="14.3" height="1.72" fill="#c2d7ed"/><rect x="84.0" y="113.12" width="14.3" height="1.72" fill="#f0f4fa"/><rect x="84.0" y="114.64" width="14.3" height="1.72" fill="#eef3fa"/><rect x="98.0" y="113.12" width="14.3" height="1.72" fill="#e0eaf6"/><rect x="98.0" y="114.64" width="14.3" height="1.72" fill="#e7eef8"/><rect x="112.0" y="113.12" width="14.3" height="1.72" fill="#f9d086"/><rect x="112.0" y="114.64" width="14.3" height="1.72" fill="#f9d38e"/><rect x="126.0" y="113.12" width="14.3" height="1.72" fill="#f9f3e6"/><rect x="126.0" y="114.64" width="14.3" height="1.72" fill="#f6f8fc"/><rect x="140.0" y="113.12" width="14.3" height="1.72" fill="#fbdda5"/><rect x="140.0" y="114.64" width="14.3" height="1.72" fill="#fadca2"/><rect x="154.0" y="113.12" width="14.3" height="1.72" fill="#f9d086"/><rect x="154.0" y="114.64" width="14.3" height="1.72" fill="#f8cc7c"/><rect x="168.0" y="113.12" width="14.3" height="1.72" fill="#faf1e2"/><rect x="168.0" y="114.64" width="14.3" height="1.72" fill="#f7f7f6"/><rect x="28.0" y="116.16" width="14.3" height="1.72" fill="#d9e6f4"/><rect x="28.0" y="117.68" width="14.3" height="1.72" fill="#ebf1f9"/><rect x="42.0" y="116.16" width="14.3" height="1.72" fill="#b6cfea"/><rect x="42.0" y="117.68" width="14.3" height="1.72" fill="#c0d5ed"/><rect x="56.0" y="116.16" width="14.3" height="1.72" fill="#eef3fa"/><rect x="56.0" y="117.68" width="14.3" height="1.72" fill="#f6f7fa"/><rect x="70.0" y="116.16" width="14.3" height="1.72" fill="#a7c5e6"/><rect x="70.0" y="117.68" width="14.3" height="1.72" fill="#acc8e8"/><rect x="84.0" y="116.16" width="14.3" height="1.72" fill="#f7f7f6"/><rect x="84.0" y="117.68" width="14.3" height="1.72" fill="#f6f7f9"/><rect x="98.0" y="116.16" width="14.3" height="1.72" fill="#f6f8fc"/><rect x="98.0" y="117.68" width="14.3" height="1.72" fill="#f2f6fb"/><rect x="112.0" y="116.16" width="14.3" height="1.72" fill="#fbe6bc"/><rect x="112.0" y="117.68" width="14.3" height="1.72" fill="#fcebc9"/><rect x="126.0" y="116.16" width="14.3" height="1.72" fill="#fceed4"/><rect x="126.0" y="117.68" width="14.3" height="1.72" fill="#fceac9"/><rect x="140.0" y="116.16" width="14.3" height="1.72" fill="#fbe3b5"/><rect x="140.0" y="117.68" width="14.3" height="1.72" fill="#fbe6bc"/><rect x="154.0" y="116.16" width="14.3" height="1.72" fill="#fbefd6"/><rect x="154.0" y="117.68" width="14.3" height="1.72" fill="#f9f2e3"/><rect x="168.0" y="116.16" width="14.3" height="1.72" fill="#fadb9f"/><rect x="168.0" y="117.68" width="14.3" height="1.72" fill="#fad99c"/><rect x="28.0" y="119.20" width="14.3" height="1.72" fill="#eaf1f9"/><rect x="28.0" y="120.72" width="14.3" height="1.72" fill="#f5f7fc"/><rect x="42.0" y="119.20" width="14.3" height="1.72" fill="#b4ceea"/><rect x="42.0" y="120.72" width="14.3" height="1.72" fill="#c4d8ee"/><rect x="56.0" y="119.20" width="14.3" height="1.72" fill="#d7e4f3"/><rect x="56.0" y="120.72" width="14.3" height="1.72" fill="#dbe7f5"/><rect x="70.0" y="119.20" width="14.3" height="1.72" fill="#abc8e7"/><rect x="70.0" y="120.72" width="14.3" height="1.72" fill="#9ec0e4"/><rect x="84.0" y="119.20" width="14.3" height="1.72" fill="#ecf1f9"/><rect x="84.0" y="120.72" width="14.3" height="1.72" fill="#f0f4fa"/><rect x="98.0" y="119.20" width="14.3" height="1.72" fill="#f7f6f4"/><rect x="98.0" y="120.72" width="14.3" height="1.72" fill="#eef3fa"/><rect x="112.0" y="119.20" width="14.3" height="1.72" fill="#fcebcb"/><rect x="112.0" y="120.72" width="14.3" height="1.72" fill="#fbefda"/><rect x="126.0" y="119.20" width="14.3" height="1.72" fill="#fceac7"/><rect x="126.0" y="120.72" width="14.3" height="1.72" fill="#fce8c1"/><rect x="140.0" y="119.20" width="14.3" height="1.72" fill="#f6be5c"/><rect x="140.0" y="120.72" width="14.3" height="1.72" fill="#f5ba54"/><rect x="154.0" y="119.20" width="14.3" height="1.72" fill="#f8f4ed"/><rect x="154.0" y="120.72" width="14.3" height="1.72" fill="#f9f3e7"/><rect x="168.0" y="119.20" width="14.3" height="1.72" fill="#fad695"/><rect x="168.0" y="120.72" width="14.3" height="1.72" fill="#f8cf82"/><rect x="28.0" y="122.24" width="14.3" height="1.72" fill="#cedef1"/><rect x="28.0" y="123.76" width="14.3" height="1.72" fill="#d8e5f4"/><rect x="42.0" y="122.24" width="14.3" height="1.72" fill="#d3e2f2"/><rect x="42.0" y="123.76" width="14.3" height="1.72" fill="#d8e5f4"/><rect x="56.0" y="122.24" width="14.3" height="1.72" fill="#d4e2f3"/><rect x="56.0" y="123.76" width="14.3" height="1.72" fill="#cfdff1"/><rect x="70.0" y="122.24" width="14.3" height="1.72" fill="#e6eef8"/><rect x="70.0" y="123.76" width="14.3" height="1.72" fill="#d3e2f2"/><rect x="84.0" y="122.24" width="14.3" height="1.72" fill="#f7f7f8"/><rect x="84.0" y="123.76" width="14.3" height="1.72" fill="#f7f7f8"/><rect x="98.0" y="122.24" width="14.3" height="1.72" fill="#f6f8fb"/><rect x="98.0" y="123.76" width="14.3" height="1.72" fill="#ebf1f9"/><rect x="112.0" y="122.24" width="14.3" height="1.72" fill="#f6f7f9"/><rect x="112.0" y="123.76" width="14.3" height="1.72" fill="#f6f7fa"/><rect x="126.0" y="122.24" width="14.3" height="1.72" fill="#f9f3e6"/><rect x="126.0" y="123.76" width="14.3" height="1.72" fill="#f9f3e9"/><rect x="140.0" y="122.24" width="14.3" height="1.72" fill="#f6c265"/><rect x="140.0" y="123.76" width="14.3" height="1.72" fill="#f8ca78"/><rect x="154.0" y="122.24" width="14.3" height="1.72" fill="#fbefd9"/><rect x="154.0" y="123.76" width="14.3" height="1.72" fill="#fbf0da"/><rect x="168.0" y="122.24" width="14.3" height="1.72" fill="#fbe1af"/><rect x="168.0" y="123.76" width="14.3" height="1.72" fill="#fada9e"/><rect x="28.0" y="125.28" width="14.3" height="1.72" fill="#f7f6f4"/><rect x="28.0" y="126.80" width="14.3" height="1.72" fill="#f7f6f6"/><rect x="42.0" y="125.28" width="14.3" height="1.72" fill="#a0c1e5"/><rect x="42.0" y="126.80" width="14.3" height="1.72" fill="#aac7e7"/><rect x="56.0" y="125.28" width="14.3" height="1.72" fill="#e6edf7"/><rect x="56.0" y="126.80" width="14.3" height="1.72" fill="#d4e2f2"/><rect x="70.0" y="125.28" width="14.3" height="1.72" fill="#e0eaf6"/><rect x="70.0" y="126.80" width="14.3" height="1.72" fill="#ebf1f9"/><rect x="84.0" y="125.28" width="14.3" height="1.72" fill="#ebf1f9"/><rect x="84.0" y="126.80" width="14.3" height="1.72" fill="#f6f8fc"/><rect x="98.0" y="125.28" width="14.3" height="1.72" fill="#ecf2f9"/><rect x="98.0" y="126.80" width="14.3" height="1.72" fill="#f3f6fb"/><rect x="112.0" y="125.28" width="14.3" height="1.72" fill="#fbe6bc"/><rect x="112.0" y="126.80" width="14.3" height="1.72" fill="#fadba1"/><rect x="126.0" y="125.28" width="14.3" height="1.72" fill="#f7f7f7"/><rect x="126.0" y="126.80" width="14.3" height="1.72" fill="#f6f8fc"/><rect x="140.0" y="125.28" width="14.3" height="1.72" fill="#fbdea7"/><rect x="140.0" y="126.80" width="14.3" height="1.72" fill="#fbdea7"/><rect x="154.0" y="125.28" width="14.3" height="1.72" fill="#f9f3e7"/><rect x="154.0" y="126.80" width="14.3" height="1.72" fill="#fbe6bd"/><rect x="168.0" y="125.28" width="14.3" height="1.72" fill="#fad99b"/><rect x="168.0" y="126.80" width="14.3" height="1.72" fill="#fbe1af"/><rect x="28.0" y="128.32" width="14.3" height="1.72" fill="#f4f7fb"/><rect x="28.0" y="129.84" width="14.3" height="1.72" fill="#f0f4fa"/><rect x="42.0" y="128.32" width="14.3" height="1.72" fill="#dbe7f5"/><rect x="42.0" y="129.84" width="14.3" height="1.72" fill="#e4edf7"/><rect x="56.0" y="128.32" width="14.3" height="1.72" fill="#b7d0eb"/><rect x="56.0" y="129.84" width="14.3" height="1.72" fill="#bcd3ec"/><rect x="70.0" y="128.32" width="14.3" height="1.72" fill="#e5edf7"/><rect x="70.0" y="129.84" width="14.3" height="1.72" fill="#d5e3f3"/><rect x="84.0" y="128.32" width="14.3" height="1.72" fill="#ecf2f9"/><rect x="84.0" y="129.84" width="14.3" height="1.72" fill="#f1f5fb"/><rect x="98.0" y="128.32" width="14.3" height="1.72" fill="#f0f4fa"/><rect x="98.0" y="129.84" width="14.3" height="1.72" fill="#f3f6fb"/><rect x="112.0" y="128.32" width="14.3" height="1.72" fill="#f9f2e4"/><rect x="112.0" y="129.84" width="14.3" height="1.72" fill="#fceccf"/><rect x="126.0" y="128.32" width="14.3" height="1.72" fill="#f6f8fa"/><rect x="126.0" y="129.84" width="14.3" height="1.72" fill="#f6f7f9"/><rect x="140.0" y="128.32" width="14.3" height="1.72" fill="#fbe2b3"/><rect x="140.0" y="129.84" width="14.3" height="1.72" fill="#fbe3b5"/><rect x="154.0" y="128.32" width="14.3" height="1.72" fill="#f7f5f2"/><rect x="154.0" y="129.84" width="14.3" height="1.72" fill="#f9f3e9"/><rect x="168.0" y="128.32" width="14.3" height="1.72" fill="#fceac8"/><rect x="168.0" y="129.84" width="14.3" height="1.72" fill="#fbefda"/><rect x="28.0" y="131.36" width="14.3" height="1.72" fill="#f3f6fb"/><rect x="28.0" y="132.88" width="14.3" height="1.72" fill="#f6f8fb"/><rect x="42.0" y="131.36" width="14.3" height="1.72" fill="#e1ebf6"/><rect x="42.0" y="132.88" width="14.3" height="1.72" fill="#eaf0f9"/><rect x="56.0" y="131.36" width="14.3" height="1.72" fill="#d6e3f3"/><rect x="56.0" y="132.88" width="14.3" height="1.72" fill="#e2ebf6"/><rect x="70.0" y="131.36" width="14.3" height="1.72" fill="#f7f7f6"/><rect x="70.0" y="132.88" width="14.3" height="1.72" fill="#ebf1f9"/><rect x="84.0" y="131.36" width="14.3" height="1.72" fill="#f6f8fb"/><rect x="84.0" y="132.88" width="14.3" height="1.72" fill="#f1f5fb"/><rect x="98.0" y="131.36" width="14.3" height="1.72" fill="#eef3fa"/><rect x="98.0" y="132.88" width="14.3" height="1.72" fill="#f7f7f7"/><rect x="112.0" y="131.36" width="14.3" height="1.72" fill="#fbdea7"/><rect x="112.0" y="132.88" width="14.3" height="1.72" fill="#fbdea7"/><rect x="126.0" y="131.36" width="14.3" height="1.72" fill="#f9f2e3"/><rect x="126.0" y="132.88" width="14.3" height="1.72" fill="#f6f8fa"/><rect x="140.0" y="131.36" width="14.3" height="1.72" fill="#fbdfab"/><rect x="140.0" y="132.88" width="14.3" height="1.72" fill="#fbdda5"/><rect x="154.0" y="131.36" width="14.3" height="1.72" fill="#f9f2e3"/><rect x="154.0" y="132.88" width="14.3" height="1.72" fill="#f9f3e8"/><rect x="168.0" y="131.36" width="14.3" height="1.72" fill="#fbe4b7"/><rect x="168.0" y="132.88" width="14.3" height="1.72" fill="#fbe1af"/><rect x="28.0" y="134.40" width="14.3" height="1.72" fill="#f5f8fc"/><rect x="28.0" y="135.92" width="14.3" height="1.72" fill="#eef3fa"/><rect x="42.0" y="134.40" width="14.3" height="1.72" fill="#aac7e7"/><rect x="42.0" y="135.92" width="14.3" height="1.72" fill="#9fc0e4"/><rect x="56.0" y="134.40" width="14.3" height="1.72" fill="#f0f4fa"/><rect x="56.0" y="135.92" width="14.3" height="1.72" fill="#edf2f9"/><rect x="70.0" y="134.40" width="14.3" height="1.72" fill="#f7f6f5"/><rect x="70.0" y="135.92" width="14.3" height="1.72" fill="#f5f7fc"/><rect x="84.0" y="134.40" width="14.3" height="1.72" fill="#e8eff8"/><rect x="84.0" y="135.92" width="14.3" height="1.72" fill="#dde8f5"/><rect x="98.0" y="134.40" width="14.3" height="1.72" fill="#ebf1f9"/><rect x="98.0" y="135.92" width="14.3" height="1.72" fill="#f0f4fa"/><rect x="112.0" y="134.40" width="14.3" height="1.72" fill="#fbefd7"/><rect x="112.0" y="135.92" width="14.3" height="1.72" fill="#fbefd8"/><rect x="126.0" y="134.40" width="14.3" height="1.72" fill="#f8f4eb"/><rect x="126.0" y="135.92" width="14.3" height="1.72" fill="#f9f2e3"/><rect x="140.0" y="134.40" width="14.3" height="1.72" fill="#fad797"/><rect x="140.0" y="135.92" width="14.3" height="1.72" fill="#fad899"/><rect x="154.0" y="134.40" width="14.3" height="1.72" fill="#fbefd9"/><rect x="154.0" y="135.92" width="14.3" height="1.72" fill="#fce8c3"/><rect x="168.0" y="134.40" width="14.3" height="1.72" fill="#fbe4b8"/><rect x="168.0" y="135.92" width="14.3" height="1.72" fill="#fadca2"/><rect x="28.0" y="137.44" width="14.3" height="1.72" fill="#d3e2f2"/><rect x="28.0" y="138.96" width="14.3" height="1.72" fill="#e0eaf6"/><rect x="42.0" y="137.44" width="14.3" height="1.72" fill="#abc8e7"/><rect x="42.0" y="138.96" width="14.3" height="1.72" fill="#a9c7e7"/><rect x="56.0" y="137.44" width="14.3" height="1.72" fill="#f7f7f8"/><rect x="56.0" y="138.96" width="14.3" height="1.72" fill="#fcebcb"/><rect x="70.0" y="137.44" width="14.3" height="1.72" fill="#f7f7f8"/><rect x="70.0" y="138.96" width="14.3" height="1.72" fill="#f4f7fb"/><rect x="84.0" y="137.44" width="14.3" height="1.72" fill="#f6f7f9"/><rect x="84.0" y="138.96" width="14.3" height="1.72" fill="#f2f5fb"/><rect x="98.0" y="137.44" width="14.3" height="1.72" fill="#edf2f9"/><rect x="98.0" y="138.96" width="14.3" height="1.72" fill="#f4f7fb"/><rect x="112.0" y="137.44" width="14.3" height="1.72" fill="#fcebca"/><rect x="112.0" y="138.96" width="14.3" height="1.72" fill="#fceed3"/><rect x="126.0" y="137.44" width="14.3" height="1.72" fill="#fbeed5"/><rect x="126.0" y="138.96" width="14.3" height="1.72" fill="#fbe6bc"/><rect x="140.0" y="137.44" width="14.3" height="1.72" fill="#f9d593"/><rect x="140.0" y="138.96" width="14.3" height="1.72" fill="#f9d087"/><rect x="154.0" y="137.44" width="14.3" height="1.72" fill="#faf1e0"/><rect x="154.0" y="138.96" width="14.3" height="1.72" fill="#fcedcf"/><rect x="168.0" y="137.44" width="14.3" height="1.72" fill="#faf1e1"/><rect x="168.0" y="138.96" width="14.3" height="1.72" fill="#f9f2e4"/><rect x="28.0" y="140.48" width="14.3" height="1.72" fill="#f0f4fa"/><rect x="28.0" y="142.00" width="14.3" height="1.72" fill="#f5f7fc"/><rect x="42.0" y="140.48" width="14.3" height="1.72" fill="#c5d9ee"/><rect x="42.0" y="142.00" width="14.3" height="1.72" fill="#cddef0"/><rect x="56.0" y="140.48" width="14.3" height="1.72" fill="#f6f8fc"/><rect x="56.0" y="142.00" width="14.3" height="1.72" fill="#f1f5fa"/><rect x="70.0" y="140.48" width="14.3" height="1.72" fill="#f3f6fb"/><rect x="70.0" y="142.00" width="14.3" height="1.72" fill="#eef3fa"/><rect x="84.0" y="140.48" width="14.3" height="1.72" fill="#d9e5f4"/><rect x="84.0" y="142.00" width="14.3" height="1.72" fill="#dde8f5"/><rect x="98.0" y="140.48" width="14.3" height="1.72" fill="#f0f4fa"/><rect x="98.0" y="142.00" width="14.3" height="1.72" fill="#f5f7fc"/><rect x="112.0" y="140.48" width="14.3" height="1.72" fill="#fce8c2"/><rect x="112.0" y="142.00" width="14.3" height="1.72" fill="#fce9c5"/><rect x="126.0" y="140.48" width="14.3" height="1.72" fill="#fce7bf"/><rect x="126.0" y="142.00" width="14.3" height="1.72" fill="#fce8c3"/><rect x="140.0" y="140.48" width="14.3" height="1.72" fill="#f7c771"/><rect x="140.0" y="142.00" width="14.3" height="1.72" fill="#f7c368"/><rect x="154.0" y="140.48" width="14.3" height="1.72" fill="#fce7bf"/><rect x="154.0" y="142.00" width="14.3" height="1.72" fill="#fadba1"/><rect x="168.0" y="140.48" width="14.3" height="1.72" fill="#fbdda4"/><rect x="168.0" y="142.00" width="14.3" height="1.72" fill="#fbe4b6"/><rect x="28.0" y="143.52" width="14.3" height="1.72" fill="#dce7f5"/><rect x="28.0" y="145.04" width="14.3" height="1.72" fill="#d6e4f3"/><rect x="42.0" y="143.52" width="14.3" height="1.72" fill="#aecae8"/><rect x="42.0" y="145.04" width="14.3" height="1.72" fill="#9fc0e4"/><rect x="56.0" y="143.52" width="14.3" height="1.72" fill="#f6f8fa"/><rect x="56.0" y="145.04" width="14.3" height="1.72" fill="#f0f4fa"/><rect x="70.0" y="143.52" width="14.3" height="1.72" fill="#f7f7f6"/><rect x="70.0" y="145.04" width="14.3" height="1.72" fill="#edf2f9"/><rect x="84.0" y="143.52" width="14.3" height="1.72" fill="#f6f8fb"/><rect x="84.0" y="145.04" width="14.3" height="1.72" fill="#eef3fa"/><rect x="98.0" y="143.52" width="14.3" height="1.72" fill="#dbe7f5"/><rect x="98.0" y="145.04" width="14.3" height="1.72" fill="#ebf1f9"/><rect x="112.0" y="143.52" width="14.3" height="1.72" fill="#f8f4ec"/><rect x="112.0" y="145.04" width="14.3" height="1.72" fill="#f9f2e4"/><rect x="126.0" y="143.52" width="14.3" height="1.72" fill="#fbe6bd"/><rect x="126.0" y="145.04" width="14.3" height="1.72" fill="#fcedd2"/><rect x="140.0" y="143.52" width="14.3" height="1.72" fill="#f6c163"/><rect x="140.0" y="145.04" width="14.3" height="1.72" fill="#f6bd5c"/><rect x="154.0" y="143.52" width="14.3" height="1.72" fill="#f9d693"/><rect x="154.0" y="145.04" width="14.3" height="1.72" fill="#fad797"/><rect x="168.0" y="143.52" width="14.3" height="1.72" fill="#faf0dd"/><rect x="168.0" y="145.04" width="14.3" height="1.72" fill="#fce9c4"/><rect x="28.0" y="146.56" width="14.3" height="1.72" fill="#d2e1f2"/><rect x="28.0" y="148.08" width="14.3" height="1.72" fill="#dee9f5"/><rect x="42.0" y="146.56" width="14.3" height="1.72" fill="#b4cdea"/><rect x="42.0" y="148.08" width="14.3" height="1.72" fill="#96bae2"/><rect x="56.0" y="146.56" width="14.3" height="1.72" fill="#f7f6f4"/><rect x="56.0" y="148.08" width="14.3" height="1.72" fill="#f2f6fb"/><rect x="70.0" y="146.56" width="14.3" height="1.72" fill="#f6f8fb"/><rect x="70.0" y="148.08" width="14.3" height="1.72" fill="#ecf2f9"/><rect x="84.0" y="146.56" width="14.3" height="1.72" fill="#fcedd2"/><rect x="84.0" y="148.08" width="14.3" height="1.72" fill="#f9f3e7"/><rect x="98.0" y="146.56" width="14.3" height="1.72" fill="#d2e1f2"/><rect x="98.0" y="148.08" width="14.3" height="1.72" fill="#d2e1f2"/><rect x="112.0" y="146.56" width="14.3" height="1.72" fill="#c4d8ee"/><rect x="112.0" y="148.08" width="14.3" height="1.72" fill="#c1d6ed"/><rect x="126.0" y="146.56" width="14.3" height="1.72" fill="#faf1de"/><rect x="126.0" y="148.08" width="14.3" height="1.72" fill="#faf0dc"/><rect x="140.0" y="146.56" width="14.3" height="1.72" fill="#f6bc59"/><rect x="140.0" y="148.08" width="14.3" height="1.72" fill="#f6bd5a"/><rect x="154.0" y="146.56" width="14.3" height="1.72" fill="#f4b345"/><rect x="154.0" y="148.08" width="14.3" height="1.72" fill="#f6bf5f"/><rect x="168.0" y="146.56" width="14.3" height="1.72" fill="#fcebcc"/><rect x="168.0" y="148.08" width="14.3" height="1.72" fill="#fcebcc"/><rect x="28.0" y="149.60" width="14.3" height="1.72" fill="#e4edf7"/><rect x="28.0" y="151.12" width="14.3" height="1.72" fill="#dfe9f6"/><rect x="42.0" y="149.60" width="14.3" height="1.72" fill="#ebf1f9"/><rect x="42.0" y="151.12" width="14.3" height="1.72" fill="#f4f7fb"/><rect x="56.0" y="149.60" width="14.3" height="1.72" fill="#f7f6f6"/><rect x="56.0" y="151.12" width="14.3" height="1.72" fill="#f6f8fc"/><rect x="70.0" y="149.60" width="14.3" height="1.72" fill="#fcedd0"/><rect x="70.0" y="151.12" width="14.3" height="1.72" fill="#f8f5ef"/><rect x="84.0" y="149.60" width="14.3" height="1.72" fill="#f9f2e2"/><rect x="84.0" y="151.12" width="14.3" height="1.72" fill="#f9f3e8"/><rect x="98.0" y="149.60" width="14.3" height="1.72" fill="#d8e5f4"/><rect x="98.0" y="151.12" width="14.3" height="1.72" fill="#d9e6f4"/><rect x="112.0" y="149.60" width="14.3" height="1.72" fill="#a1c1e5"/><rect x="112.0" y="151.12" width="14.3" height="1.72" fill="#a8c6e7"/><rect x="126.0" y="149.60" width="14.3" height="1.72" fill="#f6f8fc"/><rect x="126.0" y="151.12" width="14.3" height="1.72" fill="#f9f2e3"/><rect x="140.0" y="149.60" width="14.3" height="1.72" fill="#f5b64b"/><rect x="140.0" y="151.12" width="14.3" height="1.72" fill="#f5b54a"/><rect x="154.0" y="149.60" width="14.3" height="1.72" fill="#f7c975"/><rect x="154.0" y="151.12" width="14.3" height="1.72" fill="#f7c266"/><rect x="168.0" y="149.60" width="14.3" height="1.72" fill="#fadda4"/><rect x="168.0" y="151.12" width="14.3" height="1.72" fill="#fada9d"/><rect x="28.0" y="152.64" width="14.3" height="1.72" fill="#83aedd"/><rect x="28.0" y="154.16" width="14.3" height="1.72" fill="#74a2d4"/><rect x="42.0" y="152.64" width="14.3" height="1.72" fill="#f6f8fb"/><rect x="42.0" y="154.16" width="14.3" height="1.72" fill="#eff3fa"/><rect x="56.0" y="152.64" width="14.3" height="1.72" fill="#f4f7fb"/><rect x="56.0" y="154.16" width="14.3" height="1.72" fill="#ecf2f9"/><rect x="70.0" y="152.64" width="14.3" height="1.72" fill="#f6f8fa"/><rect x="70.0" y="154.16" width="14.3" height="1.72" fill="#f8f5ee"/><rect x="84.0" y="152.64" width="14.3" height="1.72" fill="#cedff1"/><rect x="84.0" y="154.16" width="14.3" height="1.72" fill="#bfd5ed"/><rect x="98.0" y="152.64" width="14.3" height="1.72" fill="#faf1e0"/><rect x="98.0" y="154.16" width="14.3" height="1.72" fill="#fceed2"/><rect x="112.0" y="152.64" width="14.3" height="1.72" fill="#f8f4eb"/><rect x="112.0" y="154.16" width="14.3" height="1.72" fill="#f9f3e8"/><rect x="126.0" y="152.64" width="14.3" height="1.72" fill="#fadba1"/><rect x="126.0" y="154.16" width="14.3" height="1.72" fill="#fbe2b3"/><rect x="140.0" y="152.64" width="14.3" height="1.72" fill="#f3a82e"/><rect x="140.0" y="154.16" width="14.3" height="1.72" fill="#f2a124"/><rect x="154.0" y="152.64" width="14.3" height="1.72" fill="#fbe4b7"/><rect x="154.0" y="154.16" width="14.3" height="1.72" fill="#fbe0ad"/><rect x="168.0" y="152.64" width="14.3" height="1.72" fill="#fcebca"/><rect x="168.0" y="154.16" width="14.3" height="1.72" fill="#fce8c1"/><rect x="28.0" y="155.68" width="14.3" height="1.72" fill="#72a1d4"/><rect x="28.0" y="157.20" width="14.3" height="1.72" fill="#87b0de"/><rect x="42.0" y="155.68" width="14.3" height="1.72" fill="#f2f5fb"/><rect x="42.0" y="157.20" width="14.3" height="1.72" fill="#f5f7fc"/><rect x="56.0" y="155.68" width="14.3" height="1.72" fill="#ecf2f9"/><rect x="56.0" y="157.20" width="14.3" height="1.72" fill="#f3f6fb"/><rect x="70.0" y="155.68" width="14.3" height="1.72" fill="#f7f6f6"/><rect x="70.0" y="157.20" width="14.3" height="1.72" fill="#ecf2f9"/><rect x="84.0" y="155.68" width="14.3" height="1.72" fill="#bad2eb"/><rect x="84.0" y="157.20" width="14.3" height="1.72" fill="#b1cce9"/><rect x="98.0" y="155.68" width="14.3" height="1.72" fill="#fbf0da"/><rect x="98.0" y="157.20" width="14.3" height="1.72" fill="#fbefd9"/><rect x="112.0" y="155.68" width="14.3" height="1.72" fill="#f8f4ed"/><rect x="112.0" y="157.20" width="14.3" height="1.72" fill="#f6f8fa"/><rect x="126.0" y="155.68" width="14.3" height="1.72" fill="#fad99c"/><rect x="126.0" y="157.20" width="14.3" height="1.72" fill="#fada9f"/><rect x="140.0" y="155.68" width="14.3" height="1.72" fill="#f7c975"/><rect x="140.0" y="157.20" width="14.3" height="1.72" fill="#f6bf60"/><rect x="154.0" y="155.68" width="14.3" height="1.72" fill="#fad99b"/><rect x="154.0" y="157.20" width="14.3" height="1.72" fill="#f9d593"/><rect x="168.0" y="155.68" width="14.3" height="1.72" fill="#fbe1b0"/><rect x="168.0" y="157.20" width="14.3" height="1.72" fill="#fad99b"/><rect x="28.0" y="158.72" width="14.3" height="1.72" fill="#bcd3ec"/><rect x="28.0" y="160.24" width="14.3" height="1.72" fill="#bfd5ed"/><rect x="42.0" y="158.72" width="14.3" height="1.72" fill="#d4e2f3"/><rect x="42.0" y="160.24" width="14.3" height="1.72" fill="#e7eef8"/><rect x="56.0" y="158.72" width="14.3" height="1.72" fill="#eff4fa"/><rect x="56.0" y="160.24" width="14.3" height="1.72" fill="#f3f6fb"/><rect x="70.0" y="158.72" width="14.3" height="1.72" fill="#f3f6fb"/><rect x="70.0" y="160.24" width="14.3" height="1.72" fill="#f5f7fc"/><rect x="84.0" y="158.72" width="14.3" height="1.72" fill="#dfe9f6"/><rect x="84.0" y="160.24" width="14.3" height="1.72" fill="#dae6f4"/><rect x="98.0" y="158.72" width="14.3" height="1.72" fill="#ecf2f9"/><rect x="98.0" y="160.24" width="14.3" height="1.72" fill="#eaf0f9"/><rect x="112.0" y="158.72" width="14.3" height="1.72" fill="#f9f3e8"/><rect x="112.0" y="160.24" width="14.3" height="1.72" fill="#f6f8fc"/><rect x="126.0" y="158.72" width="14.3" height="1.72" fill="#fbdda6"/><rect x="126.0" y="160.24" width="14.3" height="1.72" fill="#fbe1ae"/><rect x="140.0" y="158.72" width="14.3" height="1.72" fill="#f7c66d"/><rect x="140.0" y="160.24" width="14.3" height="1.72" fill="#f6c061"/><rect x="154.0" y="158.72" width="14.3" height="1.72" fill="#f9d38c"/><rect x="154.0" y="160.24" width="14.3" height="1.72" fill="#f9d48f"/><rect x="168.0" y="158.72" width="14.3" height="1.72" fill="#fbdea7"/><rect x="168.0" y="160.24" width="14.3" height="1.72" fill="#fbe5bb"/><rect x="28.0" y="161.76" width="14.3" height="1.72" fill="#eaf0f9"/><rect x="28.0" y="163.28" width="14.3" height="1.72" fill="#f2f5fb"/><rect x="42.0" y="161.76" width="14.3" height="1.72" fill="#eaf1f9"/><rect x="42.0" y="163.28" width="14.3" height="1.72" fill="#ebf1f9"/><rect x="56.0" y="161.76" width="14.3" height="1.72" fill="#f7f6f5"/><rect x="56.0" y="163.28" width="14.3" height="1.72" fill="#eef3fa"/><rect x="70.0" y="161.76" width="14.3" height="1.72" fill="#f2f5fb"/><rect x="70.0" y="163.28" width="14.3" height="1.72" fill="#f5f8fc"/><rect x="84.0" y="161.76" width="14.3" height="1.72" fill="#d0e0f1"/><rect x="84.0" y="163.28" width="14.3" height="1.72" fill="#d8e5f4"/><rect x="98.0" y="161.76" width="14.3" height="1.72" fill="#edf2f9"/><rect x="98.0" y="163.28" width="14.3" height="1.72" fill="#f6f8fc"/><rect x="112.0" y="161.76" width="14.3" height="1.72" fill="#dbe7f4"/><rect x="112.0" y="163.28" width="14.3" height="1.72" fill="#e3ecf7"/><rect x="126.0" y="161.76" width="14.3" height="1.72" fill="#fbe0ad"/><rect x="126.0" y="163.28" width="14.3" height="1.72" fill="#fadba0"/><rect x="140.0" y="161.76" width="14.3" height="1.72" fill="#f7c66e"/><rect x="140.0" y="163.28" width="14.3" height="1.72" fill="#f6bd5b"/><rect x="154.0" y="161.76" width="14.3" height="1.72" fill="#fadba0"/><rect x="154.0" y="163.28" width="14.3" height="1.72" fill="#fadda4"/><rect x="168.0" y="161.76" width="14.3" height="1.72" fill="#fbe0ac"/><rect x="168.0" y="163.28" width="14.3" height="1.72" fill="#fbdea8"/><rect x="28.0" y="164.80" width="14.3" height="1.72" fill="#d9e6f4"/><rect x="28.0" y="166.32" width="14.3" height="1.72" fill="#d0e0f1"/><rect x="42.0" y="164.80" width="14.3" height="1.72" fill="#d0dff1"/><rect x="42.0" y="166.32" width="14.3" height="1.72" fill="#cddef1"/><rect x="56.0" y="164.80" width="14.3" height="1.72" fill="#adc9e8"/><rect x="56.0" y="166.32" width="14.3" height="1.72" fill="#b1cbe9"/><rect x="70.0" y="164.80" width="14.3" height="1.72" fill="#f2f5fb"/><rect x="70.0" y="166.32" width="14.3" height="1.72" fill="#f7f6f4"/><rect x="84.0" y="164.80" width="14.3" height="1.72" fill="#d0e0f1"/><rect x="84.0" y="166.32" width="14.3" height="1.72" fill="#d9e6f4"/><rect x="98.0" y="164.80" width="14.3" height="1.72" fill="#f3f6fb"/><rect x="98.0" y="166.32" width="14.3" height="1.72" fill="#f6f7fa"/><rect x="112.0" y="164.80" width="14.3" height="1.72" fill="#f9f3e8"/><rect x="112.0" y="166.32" width="14.3" height="1.72" fill="#f8f4ee"/><rect x="126.0" y="164.80" width="14.3" height="1.72" fill="#f9f3e9"/><rect x="126.0" y="166.32" width="14.3" height="1.72" fill="#fcebc9"/><rect x="140.0" y="164.80" width="14.3" height="1.72" fill="#f8ce81"/><rect x="140.0" y="166.32" width="14.3" height="1.72" fill="#f7c975"/><rect x="154.0" y="164.80" width="14.3" height="1.72" fill="#f9f2e4"/><rect x="154.0" y="166.32" width="14.3" height="1.72" fill="#fce9c5"/><rect x="168.0" y="164.80" width="14.3" height="1.72" fill="#fbe5ba"/><rect x="168.0" y="166.32" width="14.3" height="1.72" fill="#fadda4"/><rect x="28.0" y="167.84" width="14.3" height="1.72" fill="#b3cde9"/><rect x="28.0" y="169.36" width="14.3" height="1.72" fill="#b8d0eb"/><rect x="42.0" y="167.84" width="14.3" height="1.72" fill="#e3ecf7"/><rect x="42.0" y="169.36" width="14.3" height="1.72" fill="#eaf0f9"/><rect x="56.0" y="167.84" width="14.3" height="1.72" fill="#b3cde9"/><rect x="56.0" y="169.36" width="14.3" height="1.72" fill="#c7daef"/><rect x="70.0" y="167.84" width="14.3" height="1.72" fill="#ebf1f9"/><rect x="70.0" y="169.36" width="14.3" height="1.72" fill="#eaf0f9"/><rect x="84.0" y="167.84" width="14.3" height="1.72" fill="#91b7e0"/><rect x="84.0" y="169.36" width="14.3" height="1.72" fill="#b2cce9"/><rect x="98.0" y="167.84" width="14.3" height="1.72" fill="#dde8f5"/><rect x="98.0" y="169.36" width="14.3" height="1.72" fill="#e0eaf6"/><rect x="112.0" y="167.84" width="14.3" height="1.72" fill="#f9f2e5"/><rect x="112.0" y="169.36" width="14.3" height="1.72" fill="#f6f8fa"/><rect x="126.0" y="167.84" width="14.3" height="1.72" fill="#fce9c4"/><rect x="126.0" y="169.36" width="14.3" height="1.72" fill="#fce8c1"/><rect x="140.0" y="167.84" width="14.3" height="1.72" fill="#f4ae3a"/><rect x="140.0" y="169.36" width="14.3" height="1.72" fill="#f5b64b"/><rect x="154.0" y="167.84" width="14.3" height="1.72" fill="#fbdea7"/><rect x="154.0" y="169.36" width="14.3" height="1.72" fill="#fbe2b3"/><rect x="168.0" y="167.84" width="14.3" height="1.72" fill="#f8cf83"/><rect x="168.0" y="169.36" width="14.3" height="1.72" fill="#f9d694"/><rect x="28.0" y="170.88" width="14.3" height="1.72" fill="#c8daef"/><rect x="28.0" y="172.40" width="14.3" height="1.72" fill="#c8daef"/><rect x="42.0" y="170.88" width="14.3" height="1.72" fill="#ecf1f9"/><rect x="42.0" y="172.40" width="14.3" height="1.72" fill="#e6eef7"/><rect x="56.0" y="170.88" width="14.3" height="1.72" fill="#b4cdea"/><rect x="56.0" y="172.40" width="14.3" height="1.72" fill="#b7cfeb"/><rect x="70.0" y="170.88" width="14.3" height="1.72" fill="#f6f8fc"/><rect x="70.0" y="172.40" width="14.3" height="1.72" fill="#eef3fa"/><rect x="84.0" y="170.88" width="14.3" height="1.72" fill="#eff3fa"/><rect x="84.0" y="172.40" width="14.3" height="1.72" fill="#f5f7fc"/><rect x="98.0" y="170.88" width="14.3" height="1.72" fill="#c1d6ed"/><rect x="98.0" y="172.40" width="14.3" height="1.72" fill="#d2e1f2"/><rect x="112.0" y="170.88" width="14.3" height="1.72" fill="#f9f2e4"/><rect x="112.0" y="172.40" width="14.3" height="1.72" fill="#fce7bf"/><rect x="126.0" y="170.88" width="14.3" height="1.72" fill="#fcebca"/><rect x="126.0" y="172.40" width="14.3" height="1.72" fill="#fceed2"/><rect x="140.0" y="170.88" width="14.3" height="1.72" fill="#f6bf5e"/><rect x="140.0" y="172.40" width="14.3" height="1.72" fill="#f5b448"/><rect x="154.0" y="170.88" width="14.3" height="1.72" fill="#fadba1"/><rect x="154.0" y="172.40" width="14.3" height="1.72" fill="#fbe2b2"/><rect x="168.0" y="170.88" width="14.3" height="1.72" fill="#f8d085"/><rect x="168.0" y="172.40" width="14.3" height="1.72" fill="#f9d38c"/><rect x="28.0" y="173.92" width="14.3" height="1.72" fill="#b3cdea"/><rect x="28.0" y="175.44" width="14.3" height="1.72" fill="#cfdff1"/><rect x="42.0" y="173.92" width="14.3" height="1.72" fill="#bcd3ec"/><rect x="42.0" y="175.44" width="14.3" height="1.72" fill="#c3d7ee"/><rect x="56.0" y="173.92" width="14.3" height="1.72" fill="#ccddf0"/><rect x="56.0" y="175.44" width="14.3" height="1.72" fill="#cfdff1"/><rect x="70.0" y="173.92" width="14.3" height="1.72" fill="#e8eff8"/><rect x="70.0" y="175.44" width="14.3" height="1.72" fill="#d9e5f4"/><rect x="84.0" y="173.92" width="14.3" height="1.72" fill="#f3f6fb"/><rect x="84.0" y="175.44" width="14.3" height="1.72" fill="#f1f5fb"/><rect x="98.0" y="173.92" width="14.3" height="1.72" fill="#e8eff8"/><rect x="98.0" y="175.44" width="14.3" height="1.72" fill="#e4ecf7"/><rect x="112.0" y="173.92" width="14.3" height="1.72" fill="#f7f6f6"/><rect x="112.0" y="175.44" width="14.3" height="1.72" fill="#f7f6f3"/><rect x="126.0" y="173.92" width="14.3" height="1.72" fill="#f9f2e5"/><rect x="126.0" y="175.44" width="14.3" height="1.72" fill="#fbefd8"/><rect x="140.0" y="173.92" width="14.3" height="1.72" fill="#f6bc59"/><rect x="140.0" y="175.44" width="14.3" height="1.72" fill="#f4b344"/><rect x="154.0" y="173.92" width="14.3" height="1.72" fill="#f9f2e4"/><rect x="154.0" y="175.44" width="14.3" height="1.72" fill="#fce7be"/><rect x="168.0" y="173.92" width="14.3" height="1.72" fill="#f9d189"/><rect x="168.0" y="175.44" width="14.3" height="1.72" fill="#f9d48f"/><rect x="28.0" y="176.96" width="14.3" height="1.72" fill="#b4ceea"/><rect x="28.0" y="178.48" width="14.3" height="1.72" fill="#c2d7ed"/><rect x="42.0" y="176.96" width="14.3" height="1.72" fill="#c6d9ef"/><rect x="42.0" y="178.48" width="14.3" height="1.72" fill="#b5cfea"/><rect x="56.0" y="176.96" width="14.3" height="1.72" fill="#f1f5fb"/><rect x="56.0" y="178.48" width="14.3" height="1.72" fill="#eef3fa"/><rect x="70.0" y="176.96" width="14.3" height="1.72" fill="#f9f3e8"/><rect x="70.0" y="178.48" width="14.3" height="1.72" fill="#f8f4ed"/><rect x="84.0" y="176.96" width="14.3" height="1.72" fill="#f0f4fa"/><rect x="84.0" y="178.48" width="14.3" height="1.72" fill="#f4f7fb"/><rect x="98.0" y="176.96" width="14.3" height="1.72" fill="#dce8f5"/><rect x="98.0" y="178.48" width="14.3" height="1.72" fill="#d8e5f4"/><rect x="112.0" y="176.96" width="14.3" height="1.72" fill="#f7f7f7"/><rect x="112.0" y="178.48" width="14.3" height="1.72" fill="#f7f6f3"/><rect x="126.0" y="176.96" width="14.3" height="1.72" fill="#fce9c4"/><rect x="126.0" y="178.48" width="14.3" height="1.72" fill="#fbeed4"/><rect x="140.0" y="176.96" width="14.3" height="1.72" fill="#f5b951"/><rect x="140.0" y="178.48" width="14.3" height="1.72" fill="#f5b447"/><rect x="154.0" y="176.96" width="14.3" height="1.72" fill="#faf0dc"/><rect x="154.0" y="178.48" width="14.3" height="1.72" fill="#fcecce"/><rect x="168.0" y="176.96" width="14.3" height="1.72" fill="#faf1e0"/><rect x="168.0" y="178.48" width="14.3" height="1.72" fill="#fcebcb"/><rect x="28.0" y="180.00" width="14.3" height="1.72" fill="#a4c3e5"/><rect x="28.0" y="181.52" width="14.3" height="1.72" fill="#a8c6e7"/><rect x="42.0" y="180.00" width="14.3" height="1.72" fill="#cfdff1"/><rect x="42.0" y="181.52" width="14.3" height="1.72" fill="#cddef0"/><rect x="56.0" y="180.00" width="14.3" height="1.72" fill="#f7f6f5"/><rect x="56.0" y="181.52" width="14.3" height="1.72" fill="#f1f5fb"/><rect x="70.0" y="180.00" width="14.3" height="1.72" fill="#f9f3e9"/><rect x="70.0" y="181.52" width="14.3" height="1.72" fill="#f9f2e4"/><rect x="84.0" y="180.00" width="14.3" height="1.72" fill="#91b7e1"/><rect x="84.0" y="181.52" width="14.3" height="1.72" fill="#93b8e1"/><rect x="98.0" y="180.00" width="14.3" height="1.72" fill="#e6eef8"/><rect x="98.0" y="181.52" width="14.3" height="1.72" fill="#d7e4f3"/><rect x="112.0" y="180.00" width="14.3" height="1.72" fill="#f9f2e4"/><rect x="112.0" y="181.52" width="14.3" height="1.72" fill="#faf1e0"/><rect x="126.0" y="180.00" width="14.3" height="1.72" fill="#e2ebf6"/><rect x="126.0" y="181.52" width="14.3" height="1.72" fill="#e3ecf7"/><rect x="140.0" y="180.00" width="14.3" height="1.72" fill="#f19e20"/><rect x="140.0" y="181.52" width="14.3" height="1.72" fill="#f1a022"/><rect x="154.0" y="180.00" width="14.3" height="1.72" fill="#f4f7fc"/><rect x="154.0" y="181.52" width="14.3" height="1.72" fill="#f7f6f2"/><rect x="168.0" y="180.00" width="14.3" height="1.72" fill="#f9f2e5"/><rect x="168.0" y="181.52" width="14.3" height="1.72" fill="#fce8c2"/><rect x="28.0" y="183.04" width="14.3" height="1.72" fill="#c5d9ee"/><rect x="28.0" y="184.56" width="14.3" height="1.72" fill="#c7daef"/><rect x="42.0" y="183.04" width="14.3" height="1.72" fill="#edf2fa"/><rect x="42.0" y="184.56" width="14.3" height="1.72" fill="#f6f7fa"/><rect x="56.0" y="183.04" width="14.3" height="1.72" fill="#e0eaf6"/><rect x="56.0" y="184.56" width="14.3" height="1.72" fill="#dbe7f4"/><rect x="70.0" y="183.04" width="14.3" height="1.72" fill="#f7f6f5"/><rect x="70.0" y="184.56" width="14.3" height="1.72" fill="#f7f6f5"/><rect x="84.0" y="183.04" width="14.3" height="1.72" fill="#d1e0f2"/><rect x="84.0" y="184.56" width="14.3" height="1.72" fill="#d2e1f2"/><rect x="98.0" y="183.04" width="14.3" height="1.72" fill="#d2e1f2"/><rect x="98.0" y="184.56" width="14.3" height="1.72" fill="#cfdff1"/><rect x="112.0" y="183.04" width="14.3" height="1.72" fill="#f8f5f0"/><rect x="112.0" y="184.56" width="14.3" height="1.72" fill="#f7f5f2"/><rect x="126.0" y="183.04" width="14.3" height="1.72" fill="#ebf1f9"/><rect x="126.0" y="184.56" width="14.3" height="1.72" fill="#dbe7f5"/><rect x="140.0" y="183.04" width="14.3" height="1.72" fill="#f4af3b"/><rect x="140.0" y="184.56" width="14.3" height="1.72" fill="#f4ad39"/><rect x="154.0" y="183.04" width="14.3" height="1.72" fill="#fada9d"/><rect x="154.0" y="184.56" width="14.3" height="1.72" fill="#fadba0"/><rect x="168.0" y="183.04" width="14.3" height="1.72" fill="#fbe6bc"/><rect x="168.0" y="184.56" width="14.3" height="1.72" fill="#fad99b"/><rect x="28.0" y="186.08" width="14.3" height="1.72" fill="#bfd5ed"/><rect x="28.0" y="187.60" width="14.3" height="1.72" fill="#cbdcf0"/><rect x="42.0" y="186.08" width="14.3" height="1.72" fill="#a5c4e6"/><rect x="42.0" y="187.60" width="14.3" height="1.72" fill="#b1cbe9"/><rect x="56.0" y="186.08" width="14.3" height="1.72" fill="#dde8f5"/><rect x="56.0" y="187.60" width="14.3" height="1.72" fill="#cfdff1"/><rect x="70.0" y="186.08" width="14.3" height="1.72" fill="#f1f5fb"/><rect x="70.0" y="187.60" width="14.3" height="1.72" fill="#f6f7f9"/><rect x="84.0" y="186.08" width="14.3" height="1.72" fill="#f0f4fa"/><rect x="84.0" y="187.60" width="14.3" height="1.72" fill="#edf3fa"/><rect x="98.0" y="186.08" width="14.3" height="1.72" fill="#f4f7fb"/><rect x="98.0" y="187.60" width="14.3" height="1.72" fill="#f6f8fa"/><rect x="112.0" y="186.08" width="14.3" height="1.72" fill="#f8f5ef"/><rect x="112.0" y="187.60" width="14.3" height="1.72" fill="#f7f6f5"/><rect x="126.0" y="186.08" width="14.3" height="1.72" fill="#f6f8fc"/><rect x="126.0" y="187.60" width="14.3" height="1.72" fill="#f8f4ec"/><rect x="140.0" y="186.08" width="14.3" height="1.72" fill="#f6bd5b"/><rect x="140.0" y="187.60" width="14.3" height="1.72" fill="#f8c976"/><rect x="154.0" y="186.08" width="14.3" height="1.72" fill="#fbe4b6"/><rect x="154.0" y="187.60" width="14.3" height="1.72" fill="#fbe3b3"/><rect x="168.0" y="186.08" width="14.3" height="1.72" fill="#fbdfaa"/><rect x="168.0" y="187.60" width="14.3" height="1.72" fill="#fad99a"/><rect x="28.0" y="189.12" width="14.3" height="1.72" fill="#d2e1f2"/><rect x="28.0" y="190.64" width="14.3" height="1.72" fill="#d5e3f3"/><rect x="42.0" y="189.12" width="14.3" height="1.72" fill="#b2cce9"/><rect x="42.0" y="190.64" width="14.3" height="1.72" fill="#99bce3"/><rect x="56.0" y="189.12" width="14.3" height="1.72" fill="#e2ebf6"/><rect x="56.0" y="190.64" width="14.3" height="1.72" fill="#e4ecf7"/><rect x="70.0" y="189.12" width="14.3" height="1.72" fill="#f6f8fb"/><rect x="70.0" y="190.64" width="14.3" height="1.72" fill="#f7f6f6"/><rect x="84.0" y="189.12" width="14.3" height="1.72" fill="#ebf1f9"/><rect x="84.0" y="190.64" width="14.3" height="1.72" fill="#f3f6fb"/><rect x="98.0" y="189.12" width="14.3" height="1.72" fill="#eaf0f9"/><rect x="98.0" y="190.64" width="14.3" height="1.72" fill="#f3f6fb"/><rect x="112.0" y="189.12" width="14.3" height="1.72" fill="#f6f7fa"/><rect x="112.0" y="190.64" width="14.3" height="1.72" fill="#f5f7fc"/><rect x="126.0" y="189.12" width="14.3" height="1.72" fill="#faf2e2"/><rect x="126.0" y="190.64" width="14.3" height="1.72" fill="#f4f7fb"/><rect x="140.0" y="189.12" width="14.3" height="1.72" fill="#f8d085"/><rect x="140.0" y="190.64" width="14.3" height="1.72" fill="#f9d48f"/><rect x="154.0" y="189.12" width="14.3" height="1.72" fill="#fbdfa9"/><rect x="154.0" y="190.64" width="14.3" height="1.72" fill="#fbe3b4"/><rect x="168.0" y="189.12" width="14.3" height="1.72" fill="#fad89a"/><rect x="168.0" y="190.64" width="14.3" height="1.72" fill="#fadba1"/><rect x="28.0" y="192.16" width="14.3" height="1.72" fill="#f7f6f6"/><rect x="28.0" y="193.68" width="14.3" height="1.72" fill="#ecf2f9"/><rect x="42.0" y="192.16" width="14.3" height="1.72" fill="#cfdff1"/><rect x="42.0" y="193.68" width="14.3" height="1.72" fill="#c8daef"/><rect x="56.0" y="192.16" width="14.3" height="1.72" fill="#83aedd"/><rect x="56.0" y="193.68" width="14.3" height="1.72" fill="#81addc"/><rect x="70.0" y="192.16" width="14.3" height="1.72" fill="#fceccc"/><rect x="70.0" y="193.68" width="14.3" height="1.72" fill="#f9f2e6"/><rect x="84.0" y="192.16" width="14.3" height="1.72" fill="#edf2fa"/><rect x="84.0" y="193.68" width="14.3" height="1.72" fill="#ebf1f9"/><rect x="98.0" y="192.16" width="14.3" height="1.72" fill="#f6f8fb"/><rect x="98.0" y="193.68" width="14.3" height="1.72" fill="#f0f4fa"/><rect x="112.0" y="192.16" width="14.3" height="1.72" fill="#fad99c"/><rect x="112.0" y="193.68" width="14.3" height="1.72" fill="#fbe4b7"/><rect x="126.0" y="192.16" width="14.3" height="1.72" fill="#f9f3e8"/><rect x="126.0" y="193.68" width="14.3" height="1.72" fill="#f6f8fc"/><rect x="140.0" y="192.16" width="14.3" height="1.72" fill="#f9d28b"/><rect x="140.0" y="193.68" width="14.3" height="1.72" fill="#f9d48f"/><rect x="154.0" y="192.16" width="14.3" height="1.72" fill="#fcebcb"/><rect x="154.0" y="193.68" width="14.3" height="1.72" fill="#faf1de"/><rect x="168.0" y="192.16" width="14.3" height="1.72" fill="#fcecce"/><rect x="168.0" y="193.68" width="14.3" height="1.72" fill="#fbe5bb"/><rect x="28.0" y="195.20" width="14.3" height="1.72" fill="#d1e0f2"/><rect x="28.0" y="196.72" width="14.3" height="1.72" fill="#ebf1f9"/><rect x="42.0" y="195.20" width="14.3" height="1.72" fill="#d2e1f2"/><rect x="42.0" y="196.72" width="14.3" height="1.72" fill="#c2d7ed"/><rect x="56.0" y="195.20" width="14.3" height="1.72" fill="#6a9ace"/><rect x="56.0" y="196.72" width="14.3" height="1.72" fill="#80acdc"/><rect x="70.0" y="195.20" width="14.3" height="1.72" fill="#fbe6bc"/><rect x="70.0" y="196.72" width="14.3" height="1.72" fill="#f8f4ea"/><rect x="84.0" y="195.20" width="14.3" height="1.72" fill="#ecf1f9"/><rect x="84.0" y="196.72" width="14.3" height="1.72" fill="#f4f7fb"/><rect x="98.0" y="195.20" width="14.3" height="1.72" fill="#f3f6fb"/><rect x="98.0" y="196.72" width="14.3" height="1.72" fill="#eff3fa"/><rect x="112.0" y="195.20" width="14.3" height="1.72" fill="#fcebc9"/><rect x="112.0" y="196.72" width="14.3" height="1.72" fill="#fcedcf"/><rect x="126.0" y="195.20" width="14.3" height="1.72" fill="#f4f6fb"/><rect x="126.0" y="196.72" width="14.3" height="1.72" fill="#f9f3e8"/><rect x="140.0" y="195.20" width="14.3" height="1.72" fill="#fad695"/><rect x="140.0" y="196.72" width="14.3" height="1.72" fill="#f8cd7e"/><rect x="154.0" y="195.20" width="14.3" height="1.72" fill="#fcebcb"/><rect x="154.0" y="196.72" width="14.3" height="1.72" fill="#fceed2"/><rect x="168.0" y="195.20" width="14.3" height="1.72" fill="#faf1df"/><rect x="168.0" y="196.72" width="14.3" height="1.72" fill="#fce7c1"/><rect x="28.0" y="198.24" width="14.3" height="1.72" fill="#f4f7fb"/><rect x="28.0" y="199.76" width="14.3" height="1.72" fill="#f7f6f6"/><rect x="42.0" y="198.24" width="14.3" height="1.72" fill="#e9f0f8"/><rect x="42.0" y="199.76" width="14.3" height="1.72" fill="#e2ebf6"/><rect x="56.0" y="198.24" width="14.3" height="1.72" fill="#77a5d7"/><rect x="56.0" y="199.76" width="14.3" height="1.72" fill="#84afdd"/><rect x="70.0" y="198.24" width="14.3" height="1.72" fill="#fbefd8"/><rect x="70.0" y="199.76" width="14.3" height="1.72" fill="#fce8c2"/><rect x="84.0" y="198.24" width="14.3" height="1.72" fill="#f7f7f7"/><rect x="84.0" y="199.76" width="14.3" height="1.72" fill="#f6f8fb"/><rect x="98.0" y="198.24" width="14.3" height="1.72" fill="#ebf1f9"/><rect x="98.0" y="199.76" width="14.3" height="1.72" fill="#eff4fa"/><rect x="112.0" y="198.24" width="14.3" height="1.72" fill="#f9f3e8"/><rect x="112.0" y="199.76" width="14.3" height="1.72" fill="#f6f8fc"/><rect x="126.0" y="198.24" width="14.3" height="1.72" fill="#f9f3e9"/><rect x="126.0" y="199.76" width="14.3" height="1.72" fill="#f6f7f9"/><rect x="140.0" y="198.24" width="14.3" height="1.72" fill="#fad695"/><rect x="140.0" y="199.76" width="14.3" height="1.72" fill="#f9d48f"/><rect x="154.0" y="198.24" width="14.3" height="1.72" fill="#fcebcb"/><rect x="154.0" y="199.76" width="14.3" height="1.72" fill="#fbe6be"/><rect x="168.0" y="198.24" width="14.3" height="1.72" fill="#f9f3e9"/><rect x="168.0" y="199.76" width="14.3" height="1.72" fill="#f9f2e6"/><rect x="28.0" y="201.28" width="14.3" height="1.72" fill="#e7eef8"/><rect x="28.0" y="202.80" width="14.3" height="1.72" fill="#cfdff1"/><rect x="42.0" y="201.28" width="14.3" height="1.72" fill="#f7f6f4"/><rect x="42.0" y="202.80" width="14.3" height="1.72" fill="#f2f5fb"/><rect x="56.0" y="201.28" width="14.3" height="1.72" fill="#c7daef"/><rect x="56.0" y="202.80" width="14.3" height="1.72" fill="#cedef1"/><rect x="70.0" y="201.28" width="14.3" height="1.72" fill="#fcedd1"/><rect x="70.0" y="202.80" width="14.3" height="1.72" fill="#f9f3e6"/><rect x="84.0" y="201.28" width="14.3" height="1.72" fill="#eef3fa"/><rect x="84.0" y="202.80" width="14.3" height="1.72" fill="#eff3fa"/><rect x="98.0" y="201.28" width="14.3" height="1.72" fill="#f6f7f9"/><rect x="98.0" y="202.80" width="14.3" height="1.72" fill="#f0f4fa"/><rect x="112.0" y="201.28" width="14.3" height="1.72" fill="#f9f3e7"/><rect x="112.0" y="202.80" width="14.3" height="1.72" fill="#f4f7fc"/><rect x="126.0" y="201.28" width="14.3" height="1.72" fill="#b7d0eb"/><rect x="126.0" y="202.80" width="14.3" height="1.72" fill="#b1cbe9"/><rect x="140.0" y="201.28" width="14.3" height="1.72" fill="#fbe1ae"/><rect x="140.0" y="202.80" width="14.3" height="1.72" fill="#fad89a"/><rect x="154.0" y="201.28" width="14.3" height="1.72" fill="#f9f3e7"/><rect x="154.0" y="202.80" width="14.3" height="1.72" fill="#faf0dd"/><rect x="168.0" y="201.28" width="14.3" height="1.72" fill="#f7f6f5"/><rect x="168.0" y="202.80" width="14.3" height="1.72" fill="#f6f8fb"/><rect x="28.0" y="204.32" width="14.3" height="1.72" fill="#cadcf0"/><rect x="28.0" y="205.84" width="14.3" height="1.72" fill="#d0e0f1"/><rect x="42.0" y="204.32" width="14.3" height="1.72" fill="#f1f5fa"/><rect x="42.0" y="205.84" width="14.3" height="1.72" fill="#f7f6f5"/><rect x="56.0" y="204.32" width="14.3" height="1.72" fill="#b2cce9"/><rect x="56.0" y="205.84" width="14.3" height="1.72" fill="#b5ceea"/><rect x="70.0" y="204.32" width="14.3" height="1.72" fill="#f1f5fb"/><rect x="70.0" y="205.84" width="14.3" height="1.72" fill="#eaf1f9"/><rect x="84.0" y="204.32" width="14.3" height="1.72" fill="#dfe9f5"/><rect x="84.0" y="205.84" width="14.3" height="1.72" fill="#d1e0f2"/><rect x="98.0" y="204.32" width="14.3" height="1.72" fill="#d0e0f1"/><rect x="98.0" y="205.84" width="14.3" height="1.72" fill="#d0dff1"/><rect x="112.0" y="204.32" width="14.3" height="1.72" fill="#f7f5f2"/><rect x="112.0" y="205.84" width="14.3" height="1.72" fill="#f9f3e7"/><rect x="126.0" y="204.32" width="14.3" height="1.72" fill="#f9f3e8"/><rect x="126.0" y="205.84" width="14.3" height="1.72" fill="#f8f5ef"/><rect x="140.0" y="204.32" width="14.3" height="1.72" fill="#fbe5b9"/><rect x="140.0" y="205.84" width="14.3" height="1.72" fill="#fbdfab"/><rect x="154.0" y="204.32" width="14.3" height="1.72" fill="#fbe5bb"/><rect x="154.0" y="205.84" width="14.3" height="1.72" fill="#fce8c2"/><rect x="168.0" y="204.32" width="14.3" height="1.72" fill="#fbe6bc"/><rect x="168.0" y="205.84" width="14.3" height="1.72" fill="#f9f3e9"/><rect x="28.0" y="207.36" width="14.3" height="1.72" fill="#eaf0f9"/><rect x="28.0" y="208.88" width="14.3" height="1.72" fill="#f7f6f4"/><rect x="42.0" y="207.36" width="14.3" height="1.72" fill="#d7e4f3"/><rect x="42.0" y="208.88" width="14.3" height="1.72" fill="#dee9f5"/><rect x="56.0" y="207.36" width="14.3" height="1.72" fill="#cfdff1"/><rect x="56.0" y="208.88" width="14.3" height="1.72" fill="#c1d6ed"/><rect x="70.0" y="207.36" width="14.3" height="1.72" fill="#fce9c5"/><rect x="70.0" y="208.88" width="14.3" height="1.72" fill="#faf2e2"/><rect x="84.0" y="207.36" width="14.3" height="1.72" fill="#f2f5fb"/><rect x="84.0" y="208.88" width="14.3" height="1.72" fill="#edf2f9"/><rect x="98.0" y="207.36" width="14.3" height="1.72" fill="#e8eff8"/><rect x="98.0" y="208.88" width="14.3" height="1.72" fill="#d9e5f4"/><rect x="112.0" y="207.36" width="14.3" height="1.72" fill="#fce7be"/><rect x="112.0" y="208.88" width="14.3" height="1.72" fill="#fbefda"/><rect x="126.0" y="207.36" width="14.3" height="1.72" fill="#f8f4ec"/><rect x="126.0" y="208.88" width="14.3" height="1.72" fill="#f9f2e3"/><rect x="140.0" y="207.36" width="14.3" height="1.72" fill="#fbdea7"/><rect x="140.0" y="208.88" width="14.3" height="1.72" fill="#fbe1b0"/><rect x="154.0" y="207.36" width="14.3" height="1.72" fill="#f9f3e7"/><rect x="154.0" y="208.88" width="14.3" height="1.72" fill="#f6f7fa"/><rect x="168.0" y="207.36" width="14.3" height="1.72" fill="#f9f2e6"/><rect x="168.0" y="208.88" width="14.3" height="1.72" fill="#fcebcb"/><rect x="28.0" y="210.40" width="14.3" height="1.72" fill="#d2e1f2"/><rect x="28.0" y="211.92" width="14.3" height="1.72" fill="#d0e0f1"/><rect x="42.0" y="210.40" width="14.3" height="1.72" fill="#dfe9f5"/><rect x="42.0" y="211.92" width="14.3" height="1.72" fill="#eaf1f9"/><rect x="56.0" y="210.40" width="14.3" height="1.72" fill="#bbd2ec"/><rect x="56.0" y="211.92" width="14.3" height="1.72" fill="#cedef1"/><rect x="70.0" y="210.40" width="14.3" height="1.72" fill="#ebf1f9"/><rect x="70.0" y="211.92" width="14.3" height="1.72" fill="#ecf2f9"/><rect x="84.0" y="210.40" width="14.3" height="1.72" fill="#edf2f9"/><rect x="84.0" y="211.92" width="14.3" height="1.72" fill="#edf2f9"/><rect x="98.0" y="210.40" width="14.3" height="1.72" fill="#e3ecf7"/><rect x="98.0" y="211.92" width="14.3" height="1.72" fill="#d1e0f2"/><rect x="112.0" y="210.40" width="14.3" height="1.72" fill="#f8f5ef"/><rect x="112.0" y="211.92" width="14.3" height="1.72" fill="#f7f6f5"/><rect x="126.0" y="210.40" width="14.3" height="1.72" fill="#f8ce80"/><rect x="126.0" y="211.92" width="14.3" height="1.72" fill="#fad89a"/><rect x="140.0" y="210.40" width="14.3" height="1.72" fill="#fada9d"/><rect x="140.0" y="211.92" width="14.3" height="1.72" fill="#fadca1"/><rect x="154.0" y="210.40" width="14.3" height="1.72" fill="#f8f4ec"/><rect x="154.0" y="211.92" width="14.3" height="1.72" fill="#f6f8fc"/><rect x="168.0" y="210.40" width="14.3" height="1.72" fill="#f8f5f1"/><rect x="168.0" y="211.92" width="14.3" height="1.72" fill="#f9f3e6"/><rect x="28.0" y="213.44" width="14.3" height="1.72" fill="#eaf0f9"/><rect x="28.0" y="214.96" width="14.3" height="1.72" fill="#f6f8fb"/><rect x="42.0" y="213.44" width="14.3" height="1.72" fill="#d5e3f3"/><rect x="42.0" y="214.96" width="14.3" height="1.72" fill="#e4ecf7"/><rect x="56.0" y="213.44" width="14.3" height="1.72" fill="#edf2f9"/><rect x="56.0" y="214.96" width="14.3" height="1.72" fill="#f1f5fb"/><rect x="70.0" y="213.44" width="14.3" height="1.72" fill="#edf2f9"/><rect x="70.0" y="214.96" width="14.3" height="1.72" fill="#f5f8fc"/><rect x="84.0" y="213.44" width="14.3" height="1.72" fill="#f0f4fa"/><rect x="84.0" y="214.96" width="14.3" height="1.72" fill="#ecf1f9"/><rect x="98.0" y="213.44" width="14.3" height="1.72" fill="#c0d6ed"/><rect x="98.0" y="214.96" width="14.3" height="1.72" fill="#cedff1"/><rect x="112.0" y="213.44" width="14.3" height="1.72" fill="#f7f6f5"/><rect x="112.0" y="214.96" width="14.3" height="1.72" fill="#f7f5f2"/><rect x="126.0" y="213.44" width="14.3" height="1.72" fill="#f9f3e6"/><rect x="126.0" y="214.96" width="14.3" height="1.72" fill="#f7f6f3"/><rect x="140.0" y="213.44" width="14.3" height="1.72" fill="#fbe1ae"/><rect x="140.0" y="214.96" width="14.3" height="1.72" fill="#fbe6bc"/><rect x="154.0" y="213.44" width="14.3" height="1.72" fill="#fcecce"/><rect x="154.0" y="214.96" width="14.3" height="1.72" fill="#fce8c2"/><rect x="168.0" y="213.44" width="14.3" height="1.72" fill="#f5f7fc"/><rect x="168.0" y="214.96" width="14.3" height="1.72" fill="#f7f6f2"/><rect x="28.0" y="216.48" width="14.3" height="1.72" fill="#f5f8fc"/><rect x="28.0" y="218.00" width="14.3" height="1.72" fill="#f7f6f6"/><rect x="42.0" y="216.48" width="14.3" height="1.72" fill="#f6f8fc"/><rect x="42.0" y="218.00" width="14.3" height="1.72" fill="#ebf1f9"/><rect x="56.0" y="216.48" width="14.3" height="1.72" fill="#dfe9f6"/><rect x="56.0" y="218.00" width="14.3" height="1.72" fill="#e1eaf6"/><rect x="70.0" y="216.48" width="14.3" height="1.72" fill="#f6f7fa"/><rect x="70.0" y="218.00" width="14.3" height="1.72" fill="#ecf2f9"/><rect x="84.0" y="216.48" width="14.3" height="1.72" fill="#f0f4fa"/><rect x="84.0" y="218.00" width="14.3" height="1.72" fill="#f7f7f7"/><rect x="98.0" y="216.48" width="14.3" height="1.72" fill="#c0d5ed"/><rect x="98.0" y="218.00" width="14.3" height="1.72" fill="#cfdff1"/><rect x="112.0" y="216.48" width="14.3" height="1.72" fill="#fce8c2"/><rect x="112.0" y="218.00" width="14.3" height="1.72" fill="#fcecce"/><rect x="126.0" y="216.48" width="14.3" height="1.72" fill="#f9f2e3"/><rect x="126.0" y="218.00" width="14.3" height="1.72" fill="#f7f7f8"/><rect x="140.0" y="216.48" width="14.3" height="1.72" fill="#f9d28a"/><rect x="140.0" y="218.00" width="14.3" height="1.72" fill="#fad898"/><rect x="154.0" y="216.48" width="14.3" height="1.72" fill="#f9f2e5"/><rect x="154.0" y="218.00" width="14.3" height="1.72" fill="#f8f5ee"/><rect x="168.0" y="216.48" width="14.3" height="1.72" fill="#f8f5ef"/><rect x="168.0" y="218.00" width="14.3" height="1.72" fill="#f9f2e3"/><rect x="28.0" y="219.52" width="14.3" height="1.72" fill="#f1f5fb"/><rect x="28.0" y="221.04" width="14.3" height="1.72" fill="#f3f6fb"/><rect x="42.0" y="219.52" width="14.3" height="1.72" fill="#e3ecf7"/><rect x="42.0" y="221.04" width="14.3" height="1.72" fill="#e1ebf6"/><rect x="56.0" y="219.52" width="14.3" height="1.72" fill="#cfdff1"/><rect x="56.0" y="221.04" width="14.3" height="1.72" fill="#c5d9ee"/><rect x="70.0" y="219.52" width="14.3" height="1.72" fill="#faf1e0"/><rect x="70.0" y="221.04" width="14.3" height="1.72" fill="#fce7c0"/><rect x="84.0" y="219.52" width="14.3" height="1.72" fill="#f2f5fb"/><rect x="84.0" y="221.04" width="14.3" height="1.72" fill="#f7f7f8"/><rect x="98.0" y="219.52" width="14.3" height="1.72" fill="#c6d9ef"/><rect x="98.0" y="221.04" width="14.3" height="1.72" fill="#b5ceea"/><rect x="112.0" y="219.52" width="14.3" height="1.72" fill="#f6f8fa"/><rect x="112.0" y="221.04" width="14.3" height="1.72" fill="#f8f4eb"/><rect x="126.0" y="219.52" width="14.3" height="1.72" fill="#fce7c0"/><rect x="126.0" y="221.04" width="14.3" height="1.72" fill="#fceccd"/><rect x="140.0" y="219.52" width="14.3" height="1.72" fill="#f8cc7c"/><rect x="140.0" y="221.04" width="14.3" height="1.72" fill="#f9d28c"/><rect x="154.0" y="219.52" width="14.3" height="1.72" fill="#f9f3e7"/><rect x="154.0" y="221.04" width="14.3" height="1.72" fill="#f9f2e4"/><rect x="168.0" y="219.52" width="14.3" height="1.72" fill="#fce9c5"/><rect x="168.0" y="221.04" width="14.3" height="1.72" fill="#fbe6bd"/><rect x="28.0" y="222.56" width="14.3" height="1.72" fill="#ebf1f9"/><rect x="28.0" y="224.08" width="14.3" height="1.72" fill="#ecf2f9"/><rect x="42.0" y="222.56" width="14.3" height="1.72" fill="#cfdff1"/><rect x="42.0" y="224.08" width="14.3" height="1.72" fill="#eaf0f9"/><rect x="56.0" y="222.56" width="14.3" height="1.72" fill="#e6eef8"/><rect x="56.0" y="224.08" width="14.3" height="1.72" fill="#e9f0f8"/><rect x="70.0" y="222.56" width="14.3" height="1.72" fill="#f3f6fb"/><rect x="70.0" y="224.08" width="14.3" height="1.72" fill="#eaf0f9"/><rect x="84.0" y="222.56" width="14.3" height="1.72" fill="#eaf1f9"/><rect x="84.0" y="224.08" width="14.3" height="1.72" fill="#eff4fa"/><rect x="98.0" y="222.56" width="14.3" height="1.72" fill="#c5d8ee"/><rect x="98.0" y="224.08" width="14.3" height="1.72" fill="#b6cfea"/><rect x="112.0" y="222.56" width="14.3" height="1.72" fill="#f7f6f2"/><rect x="112.0" y="224.08" width="14.3" height="1.72" fill="#f9f3e7"/><rect x="126.0" y="222.56" width="14.3" height="1.72" fill="#fceed3"/><rect x="126.0" y="224.08" width="14.3" height="1.72" fill="#fceac7"/><rect x="140.0" y="222.56" width="14.3" height="1.72" fill="#fadda4"/><rect x="140.0" y="224.08" width="14.3" height="1.72" fill="#fadba1"/><rect x="154.0" y="222.56" width="14.3" height="1.72" fill="#f4f7fc"/><rect x="154.0" y="224.08" width="14.3" height="1.72" fill="#f6f8fb"/><rect x="168.0" y="222.56" width="14.3" height="1.72" fill="#faf0dc"/><rect x="168.0" y="224.08" width="14.3" height="1.72" fill="#fbefd9"/><rect x="28.0" y="225.60" width="14.3" height="1.72" fill="#eff3fa"/><rect x="28.0" y="227.12" width="14.3" height="1.72" fill="#ecf2f9"/><rect x="42.0" y="225.60" width="14.3" height="1.72" fill="#f6f8fc"/><rect x="42.0" y="227.12" width="14.3" height="1.72" fill="#ecf2f9"/><rect x="56.0" y="225.60" width="14.3" height="1.72" fill="#e3ecf7"/><rect x="56.0" y="227.12" width="14.3" height="1.72" fill="#e6eef8"/><rect x="70.0" y="225.60" width="14.3" height="1.72" fill="#fcecce"/><rect x="70.0" y="227.12" width="14.3" height="1.72" fill="#fcebca"/><rect x="84.0" y="225.60" width="14.3" height="1.72" fill="#f6f8fc"/><rect x="84.0" y="227.12" width="14.3" height="1.72" fill="#ecf2f9"/><rect x="98.0" y="225.60" width="14.3" height="1.72" fill="#cedef1"/><rect x="98.0" y="227.12" width="14.3" height="1.72" fill="#c6d9ef"/><rect x="112.0" y="225.60" width="14.3" height="1.72" fill="#f9f3e7"/><rect x="112.0" y="227.12" width="14.3" height="1.72" fill="#f7f6f3"/><rect x="126.0" y="225.60" width="14.3" height="1.72" fill="#faf1e2"/><rect x="126.0" y="227.12" width="14.3" height="1.72" fill="#f9f2e3"/><rect x="140.0" y="225.60" width="14.3" height="1.72" fill="#fbe3b4"/><rect x="140.0" y="227.12" width="14.3" height="1.72" fill="#fbe0ad"/><rect x="154.0" y="225.60" width="14.3" height="1.72" fill="#f8f5f0"/><rect x="154.0" y="227.12" width="14.3" height="1.72" fill="#f7f7f8"/><rect x="168.0" y="225.60" width="14.3" height="1.72" fill="#fcedd1"/><rect x="168.0" y="227.12" width="14.3" height="1.72" fill="#fce8c2"/><rect x="28.0" y="228.64" width="14.3" height="1.72" fill="#edf2f9"/><rect x="28.0" y="230.16" width="14.3" height="1.72" fill="#edf2f9"/><rect x="42.0" y="228.64" width="14.3" height="1.72" fill="#fce7bf"/><rect x="42.0" y="230.16" width="14.3" height="1.72" fill="#fbdda4"/><rect x="56.0" y="228.64" width="14.3" height="1.72" fill="#d7e4f3"/><rect x="56.0" y="230.16" width="14.3" height="1.72" fill="#d5e3f3"/><rect x="70.0" y="228.64" width="14.3" height="1.72" fill="#fcebca"/><rect x="70.0" y="230.16" width="14.3" height="1.72" fill="#fbe5bb"/><rect x="84.0" y="228.64" width="14.3" height="1.72" fill="#f7f6f5"/><rect x="84.0" y="230.16" width="14.3" height="1.72" fill="#f3f6fb"/><rect x="98.0" y="228.64" width="14.3" height="1.72" fill="#b9d1eb"/><rect x="98.0" y="230.16" width="14.3" height="1.72" fill="#ccddf0"/><rect x="112.0" y="228.64" width="14.3" height="1.72" fill="#fbe4b8"/><rect x="112.0" y="230.16" width="14.3" height="1.72" fill="#fce7bf"/><rect x="126.0" y="228.64" width="14.3" height="1.72" fill="#fbefd7"/><rect x="126.0" y="230.16" width="14.3" height="1.72" fill="#fce9c6"/><rect x="140.0" y="228.64" width="14.3" height="1.72" fill="#fbdea7"/><rect x="140.0" y="230.16" width="14.3" height="1.72" fill="#fbe1b0"/><rect x="154.0" y="228.64" width="14.3" height="1.72" fill="#d2e1f2"/><rect x="154.0" y="230.16" width="14.3" height="1.72" fill="#d3e2f2"/><rect x="168.0" y="228.64" width="14.3" height="1.72" fill="#fcebcc"/><rect x="168.0" y="230.16" width="14.3" height="1.72" fill="#fcedd0"/><rect x="28.0" y="231.68" width="14.3" height="1.72" fill="#dee9f5"/><rect x="28.0" y="233.20" width="14.3" height="1.72" fill="#e4edf7"/><rect x="42.0" y="231.68" width="14.3" height="1.72" fill="#fceccd"/><rect x="42.0" y="233.20" width="14.3" height="1.72" fill="#fce7c0"/><rect x="56.0" y="231.68" width="14.3" height="1.72" fill="#f0f4fa"/><rect x="56.0" y="233.20" width="14.3" height="1.72" fill="#f2f6fb"/><rect x="70.0" y="231.68" width="14.3" height="1.72" fill="#faf0dd"/><rect x="70.0" y="233.20" width="14.3" height="1.72" fill="#faf1e1"/><rect x="84.0" y="231.68" width="14.3" height="1.72" fill="#e4ecf7"/><rect x="84.0" y="233.20" width="14.3" height="1.72" fill="#dbe7f5"/><rect x="98.0" y="231.68" width="14.3" height="1.72" fill="#b1cbe9"/><rect x="98.0" y="233.20" width="14.3" height="1.72" fill="#c0d5ed"/><rect x="112.0" y="231.68" width="14.3" height="1.72" fill="#fbe3b4"/><rect x="112.0" y="233.20" width="14.3" height="1.72" fill="#fce7bf"/><rect x="126.0" y="231.68" width="14.3" height="1.72" fill="#f9f3e8"/><rect x="126.0" y="233.20" width="14.3" height="1.72" fill="#f9f3e7"/><rect x="140.0" y="231.68" width="14.3" height="1.72" fill="#fcebcc"/><rect x="140.0" y="233.20" width="14.3" height="1.72" fill="#faf1de"/><rect x="154.0" y="231.68" width="14.3" height="1.72" fill="#e1ebf6"/><rect x="154.0" y="233.20" width="14.3" height="1.72" fill="#d6e4f3"/><rect x="168.0" y="231.68" width="14.3" height="1.72" fill="#faf1de"/><rect x="168.0" y="233.20" width="14.3" height="1.72" fill="#fbefd9"/><rect x="28.0" y="234.72" width="14.3" height="1.72" fill="#d2e1f2"/><rect x="28.0" y="236.24" width="14.3" height="1.72" fill="#d1e1f2"/><rect x="42.0" y="234.72" width="14.3" height="1.72" fill="#f7f6f4"/><rect x="42.0" y="236.24" width="14.3" height="1.72" fill="#f6f8fc"/><rect x="56.0" y="234.72" width="14.3" height="1.72" fill="#f5f8fc"/><rect x="56.0" y="236.24" width="14.3" height="1.72" fill="#edf2f9"/><rect x="70.0" y="234.72" width="14.3" height="1.72" fill="#fcedd0"/><rect x="70.0" y="236.24" width="14.3" height="1.72" fill="#fceed2"/><rect x="84.0" y="234.72" width="14.3" height="1.72" fill="#eaf0f9"/><rect x="84.0" y="236.24" width="14.3" height="1.72" fill="#f4f7fb"/><rect x="98.0" y="234.72" width="14.3" height="1.72" fill="#dee8f5"/><rect x="98.0" y="236.24" width="14.3" height="1.72" fill="#e1ebf6"/><rect x="112.0" y="234.72" width="14.3" height="1.72" fill="#f9f2e6"/><rect x="112.0" y="236.24" width="14.3" height="1.72" fill="#fbefd7"/><rect x="126.0" y="234.72" width="14.3" height="1.72" fill="#f7f7f7"/><rect x="126.0" y="236.24" width="14.3" height="1.72" fill="#f4f6fb"/><rect x="140.0" y="234.72" width="14.3" height="1.72" fill="#f7f7f8"/><rect x="140.0" y="236.24" width="14.3" height="1.72" fill="#f5f7fc"/><rect x="154.0" y="234.72" width="14.3" height="1.72" fill="#f8f5f0"/><rect x="154.0" y="236.24" width="14.3" height="1.72" fill="#f4f7fc"/><rect x="168.0" y="234.72" width="14.3" height="1.72" fill="#f8f5f0"/><rect x="168.0" y="236.24" width="14.3" height="1.72" fill="#f8f5ee"/><rect x="28.0" y="237.76" width="14.3" height="1.72" fill="#f6f8fb"/><rect x="28.0" y="239.28" width="14.3" height="1.72" fill="#eef3fa"/><rect x="42.0" y="237.76" width="14.3" height="1.72" fill="#f2f5fb"/><rect x="42.0" y="239.28" width="14.3" height="1.72" fill="#f7f7f6"/><rect x="56.0" y="237.76" width="14.3" height="1.72" fill="#e2ebf6"/><rect x="56.0" y="239.28" width="14.3" height="1.72" fill="#d6e4f3"/><rect x="70.0" y="237.76" width="14.3" height="1.72" fill="#f6f8fb"/><rect x="70.0" y="239.28" width="14.3" height="1.72" fill="#f0f4fa"/><rect x="84.0" y="237.76" width="14.3" height="1.72" fill="#e7eef8"/><rect x="84.0" y="239.28" width="14.3" height="1.72" fill="#e3ecf7"/><rect x="98.0" y="237.76" width="14.3" height="1.72" fill="#eef3fa"/><rect x="98.0" y="239.28" width="14.3" height="1.72" fill="#f6f8fc"/><rect x="112.0" y="237.76" width="14.3" height="1.72" fill="#f7f6f3"/><rect x="112.0" y="239.28" width="14.3" height="1.72" fill="#f6f8fb"/><rect x="126.0" y="237.76" width="14.3" height="1.72" fill="#f9f2e3"/><rect x="126.0" y="239.28" width="14.3" height="1.72" fill="#f8f4ec"/><rect x="140.0" y="237.76" width="14.3" height="1.72" fill="#f7f6f4"/><rect x="140.0" y="239.28" width="14.3" height="1.72" fill="#f8f5ef"/><rect x="154.0" y="237.76" width="14.3" height="1.72" fill="#f9f3e8"/><rect x="154.0" y="239.28" width="14.3" height="1.72" fill="#f7f6f3"/><rect x="168.0" y="237.76" width="14.3" height="1.72" fill="#f9f3e9"/><rect x="168.0" y="239.28" width="14.3" height="1.72" fill="#f9f3e7"/><rect x="28.0" y="240.80" width="14.3" height="1.72" fill="#d1e0f2"/><rect x="28.0" y="242.32" width="14.3" height="1.72" fill="#b4ceea"/><rect x="42.0" y="240.80" width="14.3" height="1.72" fill="#fce7be"/><rect x="42.0" y="242.32" width="14.3" height="1.72" fill="#faf1df"/><rect x="56.0" y="240.80" width="14.3" height="1.72" fill="#6b9bcf"/><rect x="56.0" y="242.32" width="14.3" height="1.72" fill="#7ba8d9"/><rect x="70.0" y="240.80" width="14.3" height="1.72" fill="#fcebca"/><rect x="70.0" y="242.32" width="14.3" height="1.72" fill="#f9f2e4"/><rect x="84.0" y="240.80" width="14.3" height="1.72" fill="#c8dbef"/><rect x="84.0" y="242.32" width="14.3" height="1.72" fill="#d2e1f2"/><rect x="98.0" y="240.80" width="14.3" height="1.72" fill="#ccddf0"/><rect x="98.0" y="242.32" width="14.3" height="1.72" fill="#cedef1"/><rect x="112.0" y="240.80" width="14.3" height="1.72" fill="#f6f7f9"/><rect x="112.0" y="242.32" width="14.3" height="1.72" fill="#f7f6f5"/><rect x="126.0" y="240.80" width="14.3" height="1.72" fill="#fce7bf"/><rect x="126.0" y="242.32" width="14.3" height="1.72" fill="#fbe5bb"/><rect x="140.0" y="240.80" width="14.3" height="1.72" fill="#fad796"/><rect x="140.0" y="242.32" width="14.3" height="1.72" fill="#f9d28b"/><rect x="154.0" y="240.80" width="14.3" height="1.72" fill="#f7f6f3"/><rect x="154.0" y="242.32" width="14.3" height="1.72" fill="#f6f8fc"/><rect x="168.0" y="240.80" width="14.3" height="1.72" fill="#fbe6bd"/><rect x="168.0" y="242.32" width="14.3" height="1.72" fill="#fbe6bb"/><rect x="28.0" y="243.84" width="14.3" height="1.72" fill="#c3d7ee"/><rect x="28.0" y="245.36" width="14.3" height="1.72" fill="#b3cdea"/><rect x="42.0" y="243.84" width="14.3" height="1.72" fill="#fceac8"/><rect x="42.0" y="245.36" width="14.3" height="1.72" fill="#faf1e0"/><rect x="56.0" y="243.84" width="14.3" height="1.72" fill="#f2f5fb"/><rect x="56.0" y="245.36" width="14.3" height="1.72" fill="#f6f8fb"/><rect x="70.0" y="243.84" width="14.3" height="1.72" fill="#fceccd"/><rect x="70.0" y="245.36" width="14.3" height="1.72" fill="#fbefd6"/><rect x="84.0" y="243.84" width="14.3" height="1.72" fill="#b2cde9"/><rect x="84.0" y="245.36" width="14.3" height="1.72" fill="#cfdff1"/><rect x="98.0" y="243.84" width="14.3" height="1.72" fill="#e2ebf7"/><rect x="98.0" y="245.36" width="14.3" height="1.72" fill="#d6e3f3"/><rect x="112.0" y="243.84" width="14.3" height="1.72" fill="#f9f2e4"/><rect x="112.0" y="245.36" width="14.3" height="1.72" fill="#f9f3ea"/><rect x="126.0" y="243.84" width="14.3" height="1.72" fill="#fbe6be"/><rect x="126.0" y="245.36" width="14.3" height="1.72" fill="#fbe5bb"/><rect x="140.0" y="243.84" width="14.3" height="1.72" fill="#fad99b"/><rect x="140.0" y="245.36" width="14.3" height="1.72" fill="#fad899"/><rect x="154.0" y="243.84" width="14.3" height="1.72" fill="#f7f5f1"/><rect x="154.0" y="245.36" width="14.3" height="1.72" fill="#f9f3e7"/><rect x="168.0" y="243.84" width="14.3" height="1.72" fill="#fbe4b6"/><rect x="168.0" y="245.36" width="14.3" height="1.72" fill="#fadba0"/><rect x="28.0" y="246.88" width="14.3" height="1.72" fill="#bad2eb"/><rect x="28.0" y="248.40" width="14.3" height="1.72" fill="#cddef1"/><rect x="42.0" y="246.88" width="14.3" height="1.72" fill="#eaf1f9"/><rect x="42.0" y="248.40" width="14.3" height="1.72" fill="#f4f6fb"/><rect x="56.0" y="246.88" width="14.3" height="1.72" fill="#cfdff1"/><rect x="56.0" y="248.40" width="14.3" height="1.72" fill="#e3ecf7"/><rect x="70.0" y="246.88" width="14.3" height="1.72" fill="#f0f4fa"/><rect x="70.0" y="248.40" width="14.3" height="1.72" fill="#f7f7f8"/><rect x="84.0" y="246.88" width="14.3" height="1.72" fill="#8ab3df"/><rect x="84.0" y="248.40" width="14.3" height="1.72" fill="#79a7d8"/><rect x="98.0" y="246.88" width="14.3" height="1.72" fill="#f4f7fb"/><rect x="98.0" y="248.40" width="14.3" height="1.72" fill="#f1f5fb"/><rect x="112.0" y="246.88" width="14.3" height="1.72" fill="#f8f5f0"/><rect x="112.0" y="248.40" width="14.3" height="1.72" fill="#f7f6f3"/><rect x="126.0" y="246.88" width="14.3" height="1.72" fill="#fad89a"/><rect x="126.0" y="248.40" width="14.3" height="1.72" fill="#fbe5ba"/><rect x="140.0" y="246.88" width="14.3" height="1.72" fill="#f8cd7e"/><rect x="140.0" y="248.40" width="14.3" height="1.72" fill="#f9d28b"/><rect x="154.0" y="246.88" width="14.3" height="1.72" fill="#f6f8fb"/><rect x="154.0" y="248.40" width="14.3" height="1.72" fill="#f7f5f1"/><rect x="168.0" y="246.88" width="14.3" height="1.72" fill="#fcedd1"/><rect x="168.0" y="248.40" width="14.3" height="1.72" fill="#fce9c4"/><rect x="28.0" y="249.92" width="14.3" height="1.72" fill="#d0e0f1"/><rect x="28.0" y="251.44" width="14.3" height="1.72" fill="#b3cde9"/><rect x="42.0" y="249.92" width="14.3" height="1.72" fill="#fce7c0"/><rect x="42.0" y="251.44" width="14.3" height="1.72" fill="#fbe6bd"/><rect x="56.0" y="249.92" width="14.3" height="1.72" fill="#f2f5fb"/><rect x="56.0" y="251.44" width="14.3" height="1.72" fill="#eaf0f9"/><rect x="70.0" y="249.92" width="14.3" height="1.72" fill="#edf2fa"/><rect x="70.0" y="251.44" width="14.3" height="1.72" fill="#f4f7fb"/><rect x="84.0" y="249.92" width="14.3" height="1.72" fill="#b8d0eb"/><rect x="84.0" y="251.44" width="14.3" height="1.72" fill="#c9dbef"/><rect x="98.0" y="249.92" width="14.3" height="1.72" fill="#f5f8fc"/><rect x="98.0" y="251.44" width="14.3" height="1.72" fill="#f7f6f6"/><rect x="112.0" y="249.92" width="14.3" height="1.72" fill="#f8f4eb"/><rect x="112.0" y="251.44" width="14.3" height="1.72" fill="#f7f7f7"/><rect x="126.0" y="249.92" width="14.3" height="1.72" fill="#f4f7fc"/><rect x="126.0" y="251.44" width="14.3" height="1.72" fill="#f8f4ed"/><rect x="140.0" y="249.92" width="14.3" height="1.72" fill="#fad99b"/><rect x="140.0" y="251.44" width="14.3" height="1.72" fill="#f8cd80"/><rect x="154.0" y="249.92" width="14.3" height="1.72" fill="#f8f5ef"/><rect x="154.0" y="251.44" width="14.3" height="1.72" fill="#f4f7fb"/><rect x="168.0" y="249.92" width="14.3" height="1.72" fill="#f7f6f4"/><rect x="168.0" y="251.44" width="14.3" height="1.72" fill="#f6f8fc"/><rect x="28.0" y="252.96" width="14.3" height="1.72" fill="#f6f7f9"/><rect x="28.0" y="254.48" width="14.3" height="1.72" fill="#ecf2f9"/><rect x="42.0" y="252.96" width="14.3" height="1.72" fill="#f6f7f9"/><rect x="42.0" y="254.48" width="14.3" height="1.72" fill="#f6f8fa"/><rect x="56.0" y="252.96" width="14.3" height="1.72" fill="#f7f6f4"/><rect x="56.0" y="254.48" width="14.3" height="1.72" fill="#f1f5fb"/><rect x="70.0" y="252.96" width="14.3" height="1.72" fill="#ecf2f9"/><rect x="70.0" y="254.48" width="14.3" height="1.72" fill="#eaf1f9"/><rect x="84.0" y="252.96" width="14.3" height="1.72" fill="#e3ecf7"/><rect x="84.0" y="254.48" width="14.3" height="1.72" fill="#d5e3f3"/><rect x="98.0" y="252.96" width="14.3" height="1.72" fill="#edf2f9"/><rect x="98.0" y="254.48" width="14.3" height="1.72" fill="#eef3fa"/><rect x="112.0" y="252.96" width="14.3" height="1.72" fill="#faf1e0"/><rect x="112.0" y="254.48" width="14.3" height="1.72" fill="#f9f2e6"/><rect x="126.0" y="252.96" width="14.3" height="1.72" fill="#fce8c2"/><rect x="126.0" y="254.48" width="14.3" height="1.72" fill="#fce8c1"/><rect x="140.0" y="252.96" width="14.3" height="1.72" fill="#fce9c6"/><rect x="140.0" y="254.48" width="14.3" height="1.72" fill="#fceed3"/><rect x="154.0" y="252.96" width="14.3" height="1.72" fill="#f8f5ef"/><rect x="154.0" y="254.48" width="14.3" height="1.72" fill="#f4f7fb"/><rect x="168.0" y="252.96" width="14.3" height="1.72" fill="#f8f4ec"/><rect x="168.0" y="254.48" width="14.3" height="1.72" fill="#f9f2e3"/><rect x="28.0" y="256.00" width="14.3" height="1.72" fill="#f6f7f8"/><rect x="28.0" y="257.52" width="14.3" height="1.72" fill="#ebf1f9"/><rect x="42.0" y="256.00" width="14.3" height="1.72" fill="#e6eef8"/><rect x="42.0" y="257.52" width="14.3" height="1.72" fill="#cfdff1"/><rect x="56.0" y="256.00" width="14.3" height="1.72" fill="#f7f6f4"/><rect x="56.0" y="257.52" width="14.3" height="1.72" fill="#f2f5fb"/><rect x="70.0" y="256.00" width="14.3" height="1.72" fill="#fcebc9"/><rect x="70.0" y="257.52" width="14.3" height="1.72" fill="#fbeed5"/><rect x="84.0" y="256.00" width="14.3" height="1.72" fill="#e5edf7"/><rect x="84.0" y="257.52" width="14.3" height="1.72" fill="#dee9f5"/><rect x="98.0" y="256.00" width="14.3" height="1.72" fill="#f7f6f5"/><rect x="98.0" y="257.52" width="14.3" height="1.72" fill="#eef3fa"/><rect x="112.0" y="256.00" width="14.3" height="1.72" fill="#f7f7f6"/><rect x="112.0" y="257.52" width="14.3" height="1.72" fill="#f7f6f5"/><rect x="126.0" y="256.00" width="14.3" height="1.72" fill="#f7f6f2"/><rect x="126.0" y="257.52" width="14.3" height="1.72" fill="#f7f7f8"/><rect x="140.0" y="256.00" width="14.3" height="1.72" fill="#fceed3"/><rect x="140.0" y="257.52" width="14.3" height="1.72" fill="#fce8c3"/><rect x="154.0" y="256.00" width="14.3" height="1.72" fill="#f9f2e4"/><rect x="154.0" y="257.52" width="14.3" height="1.72" fill="#f7f7f8"/><rect x="168.0" y="256.00" width="14.3" height="1.72" fill="#f8f4ed"/><rect x="168.0" y="257.52" width="14.3" height="1.72" fill="#f7f5f1"/><rect x="28.0" y="259.04" width="14.3" height="1.72" fill="#eaf0f9"/><rect x="28.0" y="260.56" width="14.3" height="1.72" fill="#dfe9f6"/><rect x="42.0" y="259.04" width="14.3" height="1.72" fill="#eaf0f9"/><rect x="42.0" y="260.56" width="14.3" height="1.72" fill="#d1e0f2"/><rect x="56.0" y="259.04" width="14.3" height="1.72" fill="#d9e5f4"/><rect x="56.0" y="260.56" width="14.3" height="1.72" fill="#d2e1f2"/><rect x="70.0" y="259.04" width="14.3" height="1.72" fill="#fceac6"/><rect x="70.0" y="260.56" width="14.3" height="1.72" fill="#fceed2"/><rect x="84.0" y="259.04" width="14.3" height="1.72" fill="#d8e5f3"/><rect x="84.0" y="260.56" width="14.3" height="1.72" fill="#d8e5f4"/><rect x="98.0" y="259.04" width="14.3" height="1.72" fill="#f2f6fb"/><rect x="98.0" y="260.56" width="14.3" height="1.72" fill="#f4f7fc"/><rect x="112.0" y="259.04" width="14.3" height="1.72" fill="#f8f5f0"/><rect x="112.0" y="260.56" width="14.3" height="1.72" fill="#f8f4ec"/><rect x="126.0" y="259.04" width="14.3" height="1.72" fill="#f7f6f3"/><rect x="126.0" y="260.56" width="14.3" height="1.72" fill="#f9f2e4"/><rect x="140.0" y="259.04" width="14.3" height="1.72" fill="#fce9c4"/><rect x="140.0" y="260.56" width="14.3" height="1.72" fill="#fcedd0"/><rect x="154.0" y="259.04" width="14.3" height="1.72" fill="#f7f7f8"/><rect x="154.0" y="260.56" width="14.3" height="1.72" fill="#f7f7f8"/><rect x="168.0" y="259.04" width="14.3" height="1.72" fill="#f4f7fc"/><rect x="168.0" y="260.56" width="14.3" height="1.72" fill="#f8f5f1"/><rect x="28.0" y="262.08" width="14.3" height="1.72" fill="#eaf0f9"/><rect x="28.0" y="263.60" width="14.3" height="1.72" fill="#e8eff8"/><rect x="42.0" y="262.08" width="14.3" height="1.72" fill="#dee9f5"/><rect x="42.0" y="263.60" width="14.3" height="1.72" fill="#e3ecf7"/><rect x="56.0" y="262.08" width="14.3" height="1.72" fill="#f6f7f9"/><rect x="56.0" y="263.60" width="14.3" height="1.72" fill="#f3f6fb"/><rect x="70.0" y="262.08" width="14.3" height="1.72" fill="#f7f6f4"/><rect x="70.0" y="263.60" width="14.3" height="1.72" fill="#eff3fa"/><rect x="84.0" y="262.08" width="14.3" height="1.72" fill="#f6f8fc"/><rect x="84.0" y="263.60" width="14.3" height="1.72" fill="#f7f6f6"/><rect x="98.0" y="262.08" width="14.3" height="1.72" fill="#cfdff1"/><rect x="98.0" y="263.60" width="14.3" height="1.72" fill="#e6eef7"/><rect x="112.0" y="262.08" width="14.3" height="1.72" fill="#f7f6f6"/><rect x="112.0" y="263.60" width="14.3" height="1.72" fill="#f9f3e8"/><rect x="126.0" y="262.08" width="14.3" height="1.72" fill="#f8f5ef"/><rect x="126.0" y="263.60" width="14.3" height="1.72" fill="#f8f4ec"/><rect x="140.0" y="262.08" width="14.3" height="1.72" fill="#f7f6f2"/><rect x="140.0" y="263.60" width="14.3" height="1.72" fill="#f4f7fc"/><rect x="154.0" y="262.08" width="14.3" height="1.72" fill="#f6f8fc"/><rect x="154.0" y="263.60" width="14.3" height="1.72" fill="#f6f8fb"/><rect x="168.0" y="262.08" width="14.3" height="1.72" fill="#fbefd7"/><rect x="168.0" y="263.60" width="14.3" height="1.72" fill="#fceac9"/><rect x="28.0" y="265.12" width="14.3" height="1.72" fill="#cfdff1"/><rect x="28.0" y="266.64" width="14.3" height="1.72" fill="#bdd3ec"/><rect x="42.0" y="265.12" width="14.3" height="1.72" fill="#e6eef7"/><rect x="42.0" y="266.64" width="14.3" height="1.72" fill="#e3ecf7"/><rect x="56.0" y="265.12" width="14.3" height="1.72" fill="#d1e0f2"/><rect x="56.0" y="266.64" width="14.3" height="1.72" fill="#d4e2f2"/><rect x="70.0" y="265.12" width="14.3" height="1.72" fill="#f4f7fc"/><rect x="70.0" y="266.64" width="14.3" height="1.72" fill="#f4f7fb"/><rect x="84.0" y="265.12" width="14.3" height="1.72" fill="#f6f7f9"/><rect x="84.0" y="266.64" width="14.3" height="1.72" fill="#ecf2f9"/><rect x="98.0" y="265.12" width="14.3" height="1.72" fill="#abc8e7"/><rect x="98.0" y="266.64" width="14.3" height="1.72" fill="#b2cce9"/><rect x="112.0" y="265.12" width="14.3" height="1.72" fill="#f2a428"/><rect x="112.0" y="266.64" width="14.3" height="1.72" fill="#f19d1e"/><rect x="126.0" y="265.12" width="14.3" height="1.72" fill="#f6bf5e"/><rect x="126.0" y="266.64" width="14.3" height="1.72" fill="#f5b84f"/><rect x="140.0" y="265.12" width="14.3" height="1.72" fill="#ebf1f9"/><rect x="140.0" y="266.64" width="14.3" height="1.72" fill="#d7e4f3"/><rect x="154.0" y="265.12" width="14.3" height="1.72" fill="#f7f6f5"/><rect x="154.0" y="266.64" width="14.3" height="1.72" fill="#f7f6f3"/><rect x="168.0" y="265.12" width="14.3" height="1.72" fill="#fcedd0"/><rect x="168.0" y="266.64" width="14.3" height="1.72" fill="#faf0dd"/><rect x="28.0" y="268.16" width="14.3" height="1.72" fill="#f0f4fa"/><rect x="28.0" y="269.68" width="14.3" height="1.72" fill="#eef3fa"/><rect x="42.0" y="268.16" width="14.3" height="1.72" fill="#91b7e1"/><rect x="42.0" y="269.68" width="14.3" height="1.72" fill="#89b2de"/><rect x="56.0" y="268.16" width="14.3" height="1.72" fill="#f7f6f4"/><rect x="56.0" y="269.68" width="14.3" height="1.72" fill="#eff3fa"/><rect x="70.0" y="268.16" width="14.3" height="1.72" fill="#f5f7fc"/><rect x="70.0" y="269.68" width="14.3" height="1.72" fill="#f0f4fa"/><rect x="84.0" y="268.16" width="14.3" height="1.72" fill="#f3f6fb"/><rect x="84.0" y="269.68" width="14.3" height="1.72" fill="#f4f7fc"/><rect x="98.0" y="268.16" width="14.3" height="1.72" fill="#7ca8d9"/><rect x="98.0" y="269.68" width="14.3" height="1.72" fill="#6f9ed2"/><rect x="112.0" y="268.16" width="14.3" height="1.72" fill="#f7c976"/><rect x="112.0" y="269.68" width="14.3" height="1.72" fill="#f6c265"/><rect x="126.0" y="268.16" width="14.3" height="1.72" fill="#fcedd0"/><rect x="126.0" y="269.68" width="14.3" height="1.72" fill="#fcedcf"/><rect x="140.0" y="268.16" width="14.3" height="1.72" fill="#fbdea6"/><rect x="140.0" y="269.68" width="14.3" height="1.72" fill="#fad99c"/><rect x="154.0" y="268.16" width="14.3" height="1.72" fill="#f9f3e9"/><rect x="154.0" y="269.68" width="14.3" height="1.72" fill="#f6f7fa"/><rect x="168.0" y="268.16" width="14.3" height="1.72" fill="#fbdfa9"/><rect x="168.0" y="269.68" width="14.3" height="1.72" fill="#fbe0ac"/><rect x="28.0" y="271.20" width="14.3" height="1.72" fill="#f0f4fa"/><rect x="28.0" y="272.72" width="14.3" height="1.72" fill="#f4f7fb"/><rect x="42.0" y="271.20" width="14.3" height="1.72" fill="#d1e0f2"/><rect x="42.0" y="272.72" width="14.3" height="1.72" fill="#cedff1"/><rect x="56.0" y="271.20" width="14.3" height="1.72" fill="#eff3fa"/><rect x="56.0" y="272.72" width="14.3" height="1.72" fill="#f7f6f6"/><rect x="70.0" y="271.20" width="14.3" height="1.72" fill="#f6f8fa"/><rect x="70.0" y="272.72" width="14.3" height="1.72" fill="#f7f6f6"/><rect x="84.0" y="271.20" width="14.3" height="1.72" fill="#dee9f5"/><rect x="84.0" y="272.72" width="14.3" height="1.72" fill="#dde8f5"/><rect x="98.0" y="271.20" width="14.3" height="1.72" fill="#c7daef"/><rect x="98.0" y="272.72" width="14.3" height="1.72" fill="#ccddf0"/><rect x="112.0" y="271.20" width="14.3" height="1.72" fill="#f9d592"/><rect x="112.0" y="272.72" width="14.3" height="1.72" fill="#f9d188"/><rect x="126.0" y="271.20" width="14.3" height="1.72" fill="#f5f7fc"/><rect x="126.0" y="272.72" width="14.3" height="1.72" fill="#f6f8fb"/><rect x="140.0" y="271.20" width="14.3" height="1.72" fill="#fbe1b0"/><rect x="140.0" y="272.72" width="14.3" height="1.72" fill="#fbe6bc"/><rect x="154.0" y="271.20" width="14.3" height="1.72" fill="#f7f6f5"/><rect x="154.0" y="272.72" width="14.3" height="1.72" fill="#f6f8fb"/><rect x="168.0" y="271.20" width="14.3" height="1.72" fill="#fbeed4"/><rect x="168.0" y="272.72" width="14.3" height="1.72" fill="#fce7c0"/><rect x="28.0" y="274.24" width="14.3" height="1.72" fill="#f0f4fa"/><rect x="28.0" y="275.76" width="14.3" height="1.72" fill="#f7f7f8"/><rect x="42.0" y="274.24" width="14.3" height="1.72" fill="#a2c2e5"/><rect x="42.0" y="275.76" width="14.3" height="1.72" fill="#9bbee3"/><rect x="56.0" y="274.24" width="14.3" height="1.72" fill="#eaf1f9"/><rect x="56.0" y="275.76" width="14.3" height="1.72" fill="#ebf1f9"/><rect x="70.0" y="274.24" width="14.3" height="1.72" fill="#f1f5fb"/><rect x="70.0" y="275.76" width="14.3" height="1.72" fill="#f3f6fb"/><rect x="84.0" y="274.24" width="14.3" height="1.72" fill="#d2e1f2"/><rect x="84.0" y="275.76" width="14.3" height="1.72" fill="#e0eaf6"/><rect x="98.0" y="274.24" width="14.3" height="1.72" fill="#dae6f4"/><rect x="98.0" y="275.76" width="14.3" height="1.72" fill="#d9e5f4"/><rect x="112.0" y="274.24" width="14.3" height="1.72" fill="#fad798"/><rect x="112.0" y="275.76" width="14.3" height="1.72" fill="#f9d28a"/><rect x="126.0" y="274.24" width="14.3" height="1.72" fill="#f8f4ee"/><rect x="126.0" y="275.76" width="14.3" height="1.72" fill="#f8f5ef"/><rect x="140.0" y="274.24" width="14.3" height="1.72" fill="#fadda4"/><rect x="140.0" y="275.76" width="14.3" height="1.72" fill="#fbdda5"/><rect x="154.0" y="274.24" width="14.3" height="1.72" fill="#cedff1"/><rect x="154.0" y="275.76" width="14.3" height="1.72" fill="#ebf1f9"/><rect x="168.0" y="274.24" width="14.3" height="1.72" fill="#fcedd0"/><rect x="168.0" y="275.76" width="14.3" height="1.72" fill="#f9f3e8"/><rect x="28.0" y="277.28" width="14.3" height="1.72" fill="#f0f4fa"/><rect x="28.0" y="278.80" width="14.3" height="1.72" fill="#f4f7fb"/><rect x="42.0" y="277.28" width="14.3" height="1.72" fill="#b1cce9"/><rect x="42.0" y="278.80" width="14.3" height="1.72" fill="#cbddf0"/><rect x="56.0" y="277.28" width="14.3" height="1.72" fill="#f2f5fb"/><rect x="56.0" y="278.80" width="14.3" height="1.72" fill="#f7f6f6"/><rect x="70.0" y="277.28" width="14.3" height="1.72" fill="#f9f3e6"/><rect x="70.0" y="278.80" width="14.3" height="1.72" fill="#f6f8fc"/><rect x="84.0" y="277.28" width="14.3" height="1.72" fill="#d1e0f2"/><rect x="84.0" y="278.80" width="14.3" height="1.72" fill="#d8e5f4"/><rect x="98.0" y="277.28" width="14.3" height="1.72" fill="#d5e3f3"/><rect x="98.0" y="278.80" width="14.3" height="1.72" fill="#d5e3f3"/><rect x="112.0" y="277.28" width="14.3" height="1.72" fill="#fbe6be"/><rect x="112.0" y="278.80" width="14.3" height="1.72" fill="#fbdea6"/><rect x="126.0" y="277.28" width="14.3" height="1.72" fill="#f7f6f6"/><rect x="126.0" y="278.80" width="14.3" height="1.72" fill="#f7f5f1"/><rect x="140.0" y="277.28" width="14.3" height="1.72" fill="#fbe0ab"/><rect x="140.0" y="278.80" width="14.3" height="1.72" fill="#fbdea8"/><rect x="154.0" y="277.28" width="14.3" height="1.72" fill="#f4f7fb"/><rect x="154.0" y="278.80" width="14.3" height="1.72" fill="#f7f7f7"/><rect x="168.0" y="277.28" width="14.3" height="1.72" fill="#f8f3ea"/><rect x="168.0" y="278.80" width="14.3" height="1.72" fill="#fceac8"/><rect x="28.0" y="280.32" width="14.3" height="1.72" fill="#f6f8fc"/><rect x="28.0" y="281.84" width="14.3" height="1.72" fill="#f3f6fb"/><rect x="42.0" y="280.32" width="14.3" height="1.72" fill="#b5ceea"/><rect x="42.0" y="281.84" width="14.3" height="1.72" fill="#94b9e1"/><rect x="56.0" y="280.32" width="14.3" height="1.72" fill="#f2f5fb"/><rect x="56.0" y="281.84" width="14.3" height="1.72" fill="#edf2fa"/><rect x="70.0" y="280.32" width="14.3" height="1.72" fill="#eef3fa"/><rect x="70.0" y="281.84" width="14.3" height="1.72" fill="#f7f7f8"/><rect x="84.0" y="280.32" width="14.3" height="1.72" fill="#cfdff1"/><rect x="84.0" y="281.84" width="14.3" height="1.72" fill="#d4e2f2"/><rect x="98.0" y="280.32" width="14.3" height="1.72" fill="#eaf0f9"/><rect x="98.0" y="281.84" width="14.3" height="1.72" fill="#e2ebf6"/><rect x="112.0" y="280.32" width="14.3" height="1.72" fill="#fbe5b9"/><rect x="112.0" y="281.84" width="14.3" height="1.72" fill="#fbe6bc"/><rect x="126.0" y="280.32" width="14.3" height="1.72" fill="#faf1e2"/><rect x="126.0" y="281.84" width="14.3" height="1.72" fill="#f9f2e3"/><rect x="140.0" y="280.32" width="14.3" height="1.72" fill="#fadca3"/><rect x="140.0" y="281.84" width="14.3" height="1.72" fill="#fbe6be"/><rect x="154.0" y="280.32" width="14.3" height="1.72" fill="#f8f5f0"/><rect x="154.0" y="281.84" width="14.3" height="1.72" fill="#f4f7fb"/><rect x="168.0" y="280.32" width="14.3" height="1.72" fill="#f8f3ea"/><rect x="168.0" y="281.84" width="14.3" height="1.72" fill="#fcedcf"/><rect x="28.0" y="283.36" width="14.3" height="1.72" fill="#e1ebf6"/><rect x="28.0" y="284.88" width="14.3" height="1.72" fill="#d6e4f3"/><rect x="42.0" y="283.36" width="14.3" height="1.72" fill="#d2e1f2"/><rect x="42.0" y="284.88" width="14.3" height="1.72" fill="#b2cde9"/><rect x="56.0" y="283.36" width="14.3" height="1.72" fill="#ebf1f9"/><rect x="56.0" y="284.88" width="14.3" height="1.72" fill="#f6f7f8"/><rect x="70.0" y="283.36" width="14.3" height="1.72" fill="#f1f5fb"/><rect x="70.0" y="284.88" width="14.3" height="1.72" fill="#f3f6fb"/><rect x="84.0" y="283.36" width="14.3" height="1.72" fill="#eaf0f9"/><rect x="84.0" y="284.88" width="14.3" height="1.72" fill="#e5edf7"/><rect x="98.0" y="283.36" width="14.3" height="1.72" fill="#c3d7ee"/><rect x="98.0" y="284.88" width="14.3" height="1.72" fill="#c2d7ee"/><rect x="112.0" y="283.36" width="14.3" height="1.72" fill="#fbe5ba"/><rect x="112.0" y="284.88" width="14.3" height="1.72" fill="#fbdfaa"/><rect x="126.0" y="283.36" width="14.3" height="1.72" fill="#f8f4ee"/><rect x="126.0" y="284.88" width="14.3" height="1.72" fill="#f7f6f2"/><rect x="140.0" y="283.36" width="14.3" height="1.72" fill="#f8cb7b"/><rect x="140.0" y="284.88" width="14.3" height="1.72" fill="#f8ce80"/><rect x="154.0" y="283.36" width="14.3" height="1.72" fill="#f9f3e8"/><rect x="154.0" y="284.88" width="14.3" height="1.72" fill="#f6f7f8"/><rect x="168.0" y="283.36" width="14.3" height="1.72" fill="#fcebca"/><rect x="168.0" y="284.88" width="14.3" height="1.72" fill="#faf0db"/><rect x="28.0" y="286.40" width="14.3" height="1.72" fill="#f7f6f4"/><rect x="28.0" y="287.92" width="14.3" height="1.72" fill="#f6f8fc"/><rect x="42.0" y="286.40" width="14.3" height="1.72" fill="#dee9f5"/><rect x="42.0" y="287.92" width="14.3" height="1.72" fill="#dfe9f6"/><rect x="56.0" y="286.40" width="14.3" height="1.72" fill="#eaf0f9"/><rect x="56.0" y="287.92" width="14.3" height="1.72" fill="#f1f5fb"/><rect x="70.0" y="286.40" width="14.3" height="1.72" fill="#f8f4ec"/><rect x="70.0" y="287.92" width="14.3" height="1.72" fill="#f9f2e3"/><rect x="84.0" y="286.40" width="14.3" height="1.72" fill="#f7f6f4"/><rect x="84.0" y="287.92" width="14.3" height="1.72" fill="#f0f4fa"/><rect x="98.0" y="286.40" width="14.3" height="1.72" fill="#e4edf7"/><rect x="98.0" y="287.92" width="14.3" height="1.72" fill="#d2e1f2"/><rect x="112.0" y="286.40" width="14.3" height="1.72" fill="#f9f2e6"/><rect x="112.0" y="287.92" width="14.3" height="1.72" fill="#fceac8"/><rect x="126.0" y="286.40" width="14.3" height="1.72" fill="#f4f7fb"/><rect x="126.0" y="287.92" width="14.3" height="1.72" fill="#f7f5f1"/><rect x="140.0" y="286.40" width="14.3" height="1.72" fill="#fbdea8"/><rect x="140.0" y="287.92" width="14.3" height="1.72" fill="#fbe4b8"/><rect x="154.0" y="286.40" width="14.3" height="1.72" fill="#f5f8fc"/><rect x="154.0" y="287.92" width="14.3" height="1.72" fill="#f6f8fc"/><rect x="168.0" y="286.40" width="14.3" height="1.72" fill="#f9f3e8"/><rect x="168.0" y="287.92" width="14.3" height="1.72" fill="#fbeed5"/></g></g>
<rect x="23.5" y="43.2" width="3.4" height="2.2" fill="#505a55"/>
<rect x="23.5" y="46.24" width="3.4" height="243.26" fill="#c2a9da"/>
<path d="M23.0,47.8H20.8V50.8H23.0 M23.0,56.9H21.4V59.9H23.0 M23.0,53.8H19.7V58.4H21.4 M23.0,66.0H21.3V69.0H23.0 M23.0,63.0H19.1V67.5H21.3 M19.7,56.1H17.2V65.2H19.1 M20.8,49.3H14.9V60.7H17.2 M23.0,78.2H21.0V81.2H23.0 M23.0,75.1H18.9V79.7H21.0 M23.0,72.1H17.6V77.4H18.9 M14.9,55.0H12.8V74.7H17.6 M23.0,87.3H20.9V90.3H23.0 M23.0,84.2H19.9V88.8H20.9 M23.0,93.4H21.5V96.4H23.0 M19.9,86.5H18.6V94.9H21.5 M12.8,64.9H10.3V90.7H18.6 M23.0,102.5H21.2V105.5H23.0 M23.0,99.4H18.9V104.0H21.2 M18.9,101.7H16.6V108.6H23.0 M23.0,111.6H20.8V114.6H23.0 M23.0,123.8H22.1V126.8H23.0 M23.0,120.7H20.0V125.3H22.1 M20.0,123.0H17.4V129.8H23.0 M23.0,117.7H16.4V126.4H17.4 M20.8,113.1H14.0V122.1H16.4 M16.6,105.1H12.3V117.6H14.0 M23.0,135.9H20.9V139.0H23.0 M23.0,132.9H20.0V137.4H20.9 M23.0,145.0H20.7V148.1H23.0 M23.0,142.0H19.4V146.6H20.7 M19.4,144.3H18.4V151.1H23.0 M23.0,157.2H22.0V160.2H23.0 M23.0,163.3H20.7V166.3H23.0 M22.0,158.7H19.3V164.8H20.7 M23.0,154.2H17.8V161.8H19.3 M18.4,147.7H16.6V158.0H17.8 M20.0,135.2H13.9V152.8H16.6 M12.3,111.4H10.4V144.0H13.9 M23.0,172.4H21.6V175.4H23.0 M23.0,169.4H20.3V173.9H21.6 M23.0,181.5H20.7V184.6H23.0 M23.0,178.5H19.4V183.0H20.7 M19.4,180.8H17.9V187.6H23.0 M20.3,171.6H15.9V184.2H17.9 M23.0,196.7H21.2V199.8H23.0 M23.0,193.7H19.8V198.2H21.2 M19.8,196.0H17.8V202.8H23.0 M23.0,190.6H15.6V199.4H17.8 M15.9,177.9H14.6V195.0H15.6 M23.0,208.9H21.8V211.9H23.0 M23.0,215.0H22.0V218.0H23.0 M21.8,210.4H20.6V216.5H22.0 M23.0,205.8H18.4V213.4H20.6 M14.6,186.5H11.8V209.6H18.4 M10.4,127.7H8.6V198.1H11.8 M10.3,77.8H7.5V162.9H8.6 M23.0,221.0H21.2V224.1H23.0 M23.0,230.2H21.9V233.2H23.0 M23.0,227.1H20.4V231.7H21.9 M21.2,222.6H18.4V229.4H20.4 M23.0,236.2H21.0V239.3H23.0 M23.0,248.4H21.9V251.4H23.0 M23.0,245.4H20.9V249.9H21.9 M20.9,247.6H19.2V254.5H23.0 M23.0,242.3H18.0V251.1H19.2 M21.0,237.8H15.6V246.7H18.0 M23.0,257.5H21.7V260.6H23.0 M23.0,269.7H21.8V272.7H23.0 M23.0,266.6H19.7V271.2H21.8 M23.0,263.6H18.4V268.9H19.7 M21.7,259.0H16.9V266.3H18.4 M15.6,242.2H13.7V262.6H16.9 M23.0,278.8H21.9V281.8H23.0 M23.0,275.8H20.4V280.3H21.9 M23.0,284.9H21.4V287.9H23.0 M20.4,278.0H17.8V286.4H21.4 M13.7,252.4H11.2V282.2H17.8 M18.4,226.0H10.1V267.3H11.2 M7.5,120.3H7.5V246.7H10.1" fill="none" stroke="#cfcfcf" stroke-width="0.45"/>
<text x="185.9" y="46.4" font-size="4.3" text-anchor="start" fill="#3c3c3c" textLength="9.90" lengthAdjust="spacingAndGlyphs">BCL2</text>
<text x="185.9" y="52.5" font-size="4.3" text-anchor="start" fill="#3c3c3c" textLength="13.41" lengthAdjust="spacingAndGlyphs">CXCR4</text>
<text x="185.9" y="58.6" font-size="4.3" text-anchor="start" fill="#3c3c3c" textLength="19.78" lengthAdjust="spacingAndGlyphs">FCGR3A/B</text>
<text x="185.9" y="64.8" font-size="4.3" text-anchor="start" fill="#3c3c3c" textLength="13.19" lengthAdjust="spacingAndGlyphs">VEGFA</text>
<text x="185.9" y="70.8" font-size="4.3" text-anchor="start" fill="#3c3c3c" textLength="11.43" lengthAdjust="spacingAndGlyphs">ITGB1</text>
<text x="185.9" y="77.0" font-size="4.3" text-anchor="start" fill="#3c3c3c" textLength="12.75" lengthAdjust="spacingAndGlyphs">CXCL8</text>
<text x="185.9" y="83.0" font-size="4.3" text-anchor="start" fill="#3c3c3c" textLength="7.48" lengthAdjust="spacingAndGlyphs">SP3</text>
<text x="185.9" y="89.1" font-size="4.3" text-anchor="start" fill="#3c3c3c" textLength="14.51" lengthAdjust="spacingAndGlyphs">IFNGR1</text>
<text x="185.9" y="95.2" font-size="4.3" text-anchor="start" fill="#3c3c3c" textLength="9.67" lengthAdjust="spacingAndGlyphs">TLN1</text>
<text x="185.9" y="101.3" font-size="4.3" text-anchor="start" fill="#3c3c3c" textLength="12.97" lengthAdjust="spacingAndGlyphs">RAP1B</text>
<text x="185.9" y="107.5" font-size="4.3" text-anchor="start" fill="#3c3c3c" textLength="20.01" lengthAdjust="spacingAndGlyphs">HSP90AA1</text>
<text x="185.9" y="113.5" font-size="4.3" text-anchor="start" fill="#3c3c3c" textLength="20.01" lengthAdjust="spacingAndGlyphs">HSP90AB1</text>
<text x="185.9" y="119.6" font-size="4.3" text-anchor="start" fill="#3c3c3c" textLength="7.03" lengthAdjust="spacingAndGlyphs">VIM</text>
<text x="185.9" y="125.7" font-size="4.3" text-anchor="start" fill="#3c3c3c" textLength="11.65" lengthAdjust="spacingAndGlyphs">TIMP1</text>
<text x="185.9" y="131.8" font-size="4.3" text-anchor="start" fill="#3c3c3c" textLength="7.47" lengthAdjust="spacingAndGlyphs">FN1</text>
<text x="185.9" y="156.2" font-size="4.3" text-anchor="start" fill="#3c3c3c" textLength="19.13" lengthAdjust="spacingAndGlyphs">SLC25A13</text>
<text x="185.9" y="162.3" font-size="4.3" text-anchor="start" fill="#3c3c3c" textLength="13.41" lengthAdjust="spacingAndGlyphs">PSMB7</text>
<text x="185.9" y="168.5" font-size="4.3" text-anchor="start" fill="#3c3c3c" textLength="13.41" lengthAdjust="spacingAndGlyphs">PTPRC</text>
<text x="185.9" y="174.6" font-size="4.3" text-anchor="start" fill="#3c3c3c" textLength="13.41" lengthAdjust="spacingAndGlyphs">MAPK1</text>
<text x="185.9" y="180.7" font-size="4.3" text-anchor="start" fill="#3c3c3c" textLength="9.38" lengthAdjust="spacingAndGlyphs">F11R</text>
<text x="185.9" y="186.8" font-size="4.3" text-anchor="start" fill="#3c3c3c" textLength="11.21" lengthAdjust="spacingAndGlyphs">GNG2</text>
<text x="185.9" y="192.8" font-size="4.3" text-anchor="start" fill="#3c3c3c" textLength="14.06" lengthAdjust="spacingAndGlyphs">MTMR4</text>
<text x="185.9" y="199.0" font-size="4.3" text-anchor="start" fill="#3c3c3c" textLength="13.41" lengthAdjust="spacingAndGlyphs">MAPK9</text>
<text x="185.9" y="205.1" font-size="4.3" text-anchor="start" fill="#3c3c3c" textLength="14.95" lengthAdjust="spacingAndGlyphs">YWHAQ</text>
<text x="185.9" y="211.2" font-size="4.3" text-anchor="start" fill="#3c3c3c" textLength="11.80" lengthAdjust="spacingAndGlyphs">LATS2</text>
<text x="185.9" y="217.2" font-size="4.3" text-anchor="start" fill="#3c3c3c" textLength="15.83" lengthAdjust="spacingAndGlyphs">PSMD13</text>
<text x="185.9" y="223.3" font-size="4.3" text-anchor="start" fill="#3c3c3c" textLength="13.41" lengthAdjust="spacingAndGlyphs">PSMB8</text>
<text x="185.9" y="229.5" font-size="4.3" text-anchor="start" fill="#3c3c3c" textLength="12.31" lengthAdjust="spacingAndGlyphs">FABP4</text>
<text x="185.9" y="235.6" font-size="4.3" text-anchor="start" fill="#3c3c3c" textLength="10.12" lengthAdjust="spacingAndGlyphs">SPP1</text>
<text x="185.9" y="241.7" font-size="4.3" text-anchor="start" fill="#3c3c3c" textLength="14.08" lengthAdjust="spacingAndGlyphs">S100A4</text>
<text x="185.9" y="247.8" font-size="4.3" text-anchor="start" fill="#3c3c3c" textLength="15.17" lengthAdjust="spacingAndGlyphs">SEC61B</text>
<text x="185.9" y="253.8" font-size="4.3" text-anchor="start" fill="#3c3c3c" textLength="14.95" lengthAdjust="spacingAndGlyphs">LGALS3</text>
<text x="185.9" y="259.9" font-size="4.3" text-anchor="start" fill="#3c3c3c" textLength="13.41" lengthAdjust="spacingAndGlyphs">COX7B</text>
<text x="185.9" y="266.1" font-size="4.3" text-anchor="start" fill="#3c3c3c" textLength="15.61" lengthAdjust="spacingAndGlyphs">COX6A1</text>
<text x="185.9" y="272.1" font-size="4.3" text-anchor="start" fill="#3c3c3c" textLength="14.95" lengthAdjust="spacingAndGlyphs">DYNLL1</text>
<text x="185.9" y="278.2" font-size="4.3" text-anchor="start" fill="#3c3c3c" textLength="12.53" lengthAdjust="spacingAndGlyphs">UBA52</text>
<text x="185.9" y="284.3" font-size="4.3" text-anchor="start" fill="#3c3c3c" textLength="14.51" lengthAdjust="spacingAndGlyphs">YWHAE</text>
<text x="185.9" y="290.4" font-size="4.3" text-anchor="start" fill="#3c3c3c" textLength="10.12" lengthAdjust="spacingAndGlyphs">SKP1</text>
<defs><linearGradient id="sg" x1="0" x2="1" y1="0" y2="0"><stop offset="0" stop-color="#2a5f98"/><stop offset="0.3" stop-color="#8fb4d8"/><stop offset="0.5" stop-color="#e8ecef"/><stop offset="0.7" stop-color="#f2d29a"/><stop offset="1" stop-color="#e49a2a"/></linearGradient><linearGradient id="pg" x1="0" x2="0" y1="0" y2="1"><stop offset="0" stop-color="#f01020"/><stop offset="0.22" stop-color="#e8104c"/><stop offset="0.45" stop-color="#cc1290"/><stop offset="0.7" stop-color="#861c9e"/><stop offset="1" stop-color="#2a288a"/></linearGradient></defs>
<rect x="28" y="292.6" width="154" height="1.5" fill="url(#sg)"/>
<text x="185.8" y="295.2" font-size="4.4" text-anchor="start" fill="#444">S</text>
<text x="6.6" y="329.6" font-size="10.2" text-anchor="start" fill="#111" font-weight="bold">B</text>
<path d="M46.4,345.0V458.5 M68.5,345.0V458.5 M90.5,345.0V458.5 M112.5,345.0V458.5 M134.6,345.0V458.5 M156.6,345.0V458.5 M178.7,345.0V458.5 M200.8,345.0V458.5 M36.5,454.6H219.5 M36.5,443.8H219.5 M36.5,433.0H219.5 M36.5,422.2H219.5 M36.5,411.4H219.5 M36.5,400.6H219.5 M36.5,389.8H219.5 M36.5,379.0H219.5 M36.5,368.2H219.5 M36.5,357.4H219.5 M36.5,346.6H219.5" stroke="#ececec" stroke-width="0.6" fill="none"/>
<path d="M112.5,345.0V458.5 M156.6,345.0V458.5" stroke="#b0b0b0" stroke-width="0.65" fill="none"/>
<path d="M36.5,443.4H219.5" stroke="#666" stroke-width="0.55" stroke-dasharray="0.9,0.9" fill="none"/>
<circle cx="132.39" cy="454.01" r="0.8" fill="#555" fill-opacity="0.38"/><circle cx="133.00" cy="453.69" r="0.8" fill="#555" fill-opacity="0.38"/><circle cx="134.96" cy="454.21" r="0.8" fill="#555" fill-opacity="0.38"/><circle cx="135.15" cy="454.04" r="0.8" fill="#555" fill-opacity="0.38"/><circle cx="140.63" cy="450.71" r="0.8" fill="#555" fill-opacity="0.38"/><circle cx="125.47" cy="449.55" r="0.8" fill="#555" fill-opacity="0.38"/><path d="M115.59,441.10l1.1,1.1l-1.1,1.1l-1.1,-1.1z" fill="#8aa0e6" fill-opacity="0.25" stroke="#5a78d8" stroke-width="0.45" stroke-opacity="0.75"/><circle cx="113.32" cy="445.54" r="0.8" fill="#555" fill-opacity="0.38"/><circle cx="139.97" cy="451.45" r="0.8" fill="#555" fill-opacity="0.38"/><path d="M118.69,441.83l1.1,1.1l-1.1,1.1l-1.1,-1.1z" fill="#8aa0e6" fill-opacity="0.25" stroke="#5a78d8" stroke-width="0.45" stroke-opacity="0.75"/><path d="M114.14,441.22l1.1,1.1l-1.1,1.1l-1.1,-1.1z" fill="#8aa0e6" fill-opacity="0.25" stroke="#5a78d8" stroke-width="0.45" stroke-opacity="0.75"/><circle cx="120.21" cy="446.03" r="0.8" fill="#555" fill-opacity="0.38"/><circle cx="132.92" cy="453.19" r="0.8" fill="#555" fill-opacity="0.38"/><circle cx="131.84" cy="452.32" r="0.8" fill="#555" fill-opacity="0.38"/><circle cx="141.12" cy="451.46" r="0.8" fill="#555" fill-opacity="0.38"/><circle cx="134.59" cy="454.40" r="0.8" fill="#555" fill-opacity="0.38"/><circle cx="124.30" cy="449.59" r="0.8" fill="#555" fill-opacity="0.38"/><circle cx="144.25" cy="448.81" r="0.8" fill="#555" fill-opacity="0.38"/><circle cx="126.02" cy="449.24" r="0.8" fill="#555" fill-opacity="0.38"/><path d="M114.64,439.93l1.1,1.1l-1.1,1.1l-1.1,-1.1z" fill="#8aa0e6" fill-opacity="0.25" stroke="#5a78d8" stroke-width="0.45" stroke-opacity="0.75"/><circle cx="146.97" cy="449.55" r="0.8" fill="#555" fill-opacity="0.38"/><circle cx="129.33" cy="450.36" r="0.8" fill="#555" fill-opacity="0.38"/><path d="M155.88,440.98l1.1,1.1l-1.1,1.1l-1.1,-1.1z" fill="#8aa0e6" fill-opacity="0.25" stroke="#5a78d8" stroke-width="0.45" stroke-opacity="0.75"/><circle cx="121.12" cy="446.61" r="0.8" fill="#555" fill-opacity="0.38"/><circle cx="153.66" cy="449.35" r="0.8" fill="#555" fill-opacity="0.38"/><circle cx="129.84" cy="451.15" r="0.8" fill="#555" fill-opacity="0.38"/><circle cx="114.77" cy="445.62" r="0.8" fill="#555" fill-opacity="0.38"/><circle cx="123.91" cy="449.83" r="0.8" fill="#555" fill-opacity="0.38"/><circle cx="115.42" cy="446.10" r="0.8" fill="#555" fill-opacity="0.38"/><circle cx="146.59" cy="444.16" r="0.8" fill="#555" fill-opacity="0.38"/><circle cx="116.85" cy="444.12" r="0.8" fill="#555" fill-opacity="0.38"/><path d="M114.16,440.44l1.1,1.1l-1.1,1.1l-1.1,-1.1z" fill="#8aa0e6" fill-opacity="0.25" stroke="#5a78d8" stroke-width="0.45" stroke-opacity="0.75"/><circle cx="148.40" cy="445.47" r="0.8" fill="#555" fill-opacity="0.38"/><circle cx="132.16" cy="452.28" r="0.8" fill="#555" fill-opacity="0.38"/><circle cx="120.23" cy="446.16" r="0.8" fill="#555" fill-opacity="0.38"/><circle cx="141.28" cy="450.94" r="0.8" fill="#555" fill-opacity="0.38"/><circle cx="116.79" cy="445.34" r="0.8" fill="#555" fill-opacity="0.38"/><circle cx="123.91" cy="447.72" r="0.8" fill="#555" fill-opacity="0.38"/><path d="M156.48,440.00l1.1,1.1l-1.1,1.1l-1.1,-1.1z" fill="#8aa0e6" fill-opacity="0.25" stroke="#5a78d8" stroke-width="0.45" stroke-opacity="0.75"/><circle cx="152.48" cy="445.71" r="0.8" fill="#555" fill-opacity="0.38"/><circle cx="121.16" cy="449.07" r="0.8" fill="#555" fill-opacity="0.38"/><circle cx="141.19" cy="449.39" r="0.8" fill="#555" fill-opacity="0.38"/><path d="M116.03,441.11l1.1,1.1l-1.1,1.1l-1.1,-1.1z" fill="#8aa0e6" fill-opacity="0.25" stroke="#5a78d8" stroke-width="0.45" stroke-opacity="0.75"/><circle cx="123.37" cy="447.92" r="0.8" fill="#555" fill-opacity="0.38"/><circle cx="147.27" cy="447.64" r="0.8" fill="#555" fill-opacity="0.38"/><path d="M114.78,440.21l1.1,1.1l-1.1,1.1l-1.1,-1.1z" fill="#8aa0e6" fill-opacity="0.25" stroke="#5a78d8" stroke-width="0.45" stroke-opacity="0.75"/><circle cx="115.56" cy="444.80" r="0.8" fill="#555" fill-opacity="0.38"/><circle cx="139.30" cy="451.84" r="0.8" fill="#555" fill-opacity="0.38"/><circle cx="128.64" cy="452.93" r="0.8" fill="#555" fill-opacity="0.38"/><circle cx="133.84" cy="453.58" r="0.8" fill="#555" fill-opacity="0.38"/><circle cx="138.06" cy="452.02" r="0.8" fill="#555" fill-opacity="0.38"/><circle cx="118.53" cy="445.98" r="0.8" fill="#555" fill-opacity="0.38"/><path d="M153.57,441.66l1.1,1.1l-1.1,1.1l-1.1,-1.1z" fill="#8aa0e6" fill-opacity="0.25" stroke="#5a78d8" stroke-width="0.45" stroke-opacity="0.75"/><circle cx="120.19" cy="447.21" r="0.8" fill="#555" fill-opacity="0.38"/><circle cx="145.72" cy="447.07" r="0.8" fill="#555" fill-opacity="0.38"/><path d="M155.51,441.80l1.1,1.1l-1.1,1.1l-1.1,-1.1z" fill="#8aa0e6" fill-opacity="0.25" stroke="#5a78d8" stroke-width="0.45" stroke-opacity="0.75"/><circle cx="152.35" cy="445.83" r="0.8" fill="#555" fill-opacity="0.38"/><circle cx="116.20" cy="445.09" r="0.8" fill="#555" fill-opacity="0.38"/><path d="M113.17,439.21l1.1,1.1l-1.1,1.1l-1.1,-1.1z" fill="#8aa0e6" fill-opacity="0.25" stroke="#5a78d8" stroke-width="0.45" stroke-opacity="0.75"/><circle cx="144.10" cy="449.04" r="0.8" fill="#555" fill-opacity="0.38"/><circle cx="123.31" cy="446.98" r="0.8" fill="#555" fill-opacity="0.38"/><circle cx="125.00" cy="450.25" r="0.8" fill="#555" fill-opacity="0.38"/><circle cx="119.52" cy="445.78" r="0.8" fill="#555" fill-opacity="0.38"/><circle cx="121.98" cy="447.63" r="0.8" fill="#555" fill-opacity="0.38"/><circle cx="137.36" cy="452.24" r="0.8" fill="#555" fill-opacity="0.38"/><circle cx="124.39" cy="449.85" r="0.8" fill="#555" fill-opacity="0.38"/><path d="M153.99,441.99l1.1,1.1l-1.1,1.1l-1.1,-1.1z" fill="#8aa0e6" fill-opacity="0.25" stroke="#5a78d8" stroke-width="0.45" stroke-opacity="0.75"/><circle cx="123.88" cy="447.91" r="0.8" fill="#555" fill-opacity="0.38"/><circle cx="132.08" cy="452.52" r="0.8" fill="#555" fill-opacity="0.38"/><circle cx="128.50" cy="450.58" r="0.8" fill="#555" fill-opacity="0.38"/><circle cx="137.95" cy="451.96" r="0.8" fill="#555" fill-opacity="0.38"/><path d="M152.76,441.35l1.1,1.1l-1.1,1.1l-1.1,-1.1z" fill="#8aa0e6" fill-opacity="0.25" stroke="#5a78d8" stroke-width="0.45" stroke-opacity="0.75"/><circle cx="156.92" cy="443.64" r="0.8" fill="#555" fill-opacity="0.38"/><circle cx="138.52" cy="452.85" r="0.8" fill="#555" fill-opacity="0.38"/><circle cx="117.89" cy="444.37" r="0.8" fill="#555" fill-opacity="0.38"/><path d="M153.66,442.20l1.1,1.1l-1.1,1.1l-1.1,-1.1z" fill="#8aa0e6" fill-opacity="0.25" stroke="#5a78d8" stroke-width="0.45" stroke-opacity="0.75"/><circle cx="143.94" cy="448.69" r="0.8" fill="#555" fill-opacity="0.38"/><circle cx="140.93" cy="450.69" r="0.8" fill="#555" fill-opacity="0.38"/><circle cx="133.77" cy="453.82" r="0.8" fill="#555" fill-opacity="0.38"/><circle cx="114.87" cy="446.50" r="0.8" fill="#555" fill-opacity="0.38"/><circle cx="153.19" cy="444.64" r="0.8" fill="#555" fill-opacity="0.38"/><circle cx="145.61" cy="448.67" r="0.8" fill="#555" fill-opacity="0.38"/><circle cx="153.88" cy="446.98" r="0.8" fill="#555" fill-opacity="0.38"/><circle cx="127.72" cy="451.14" r="0.8" fill="#555" fill-opacity="0.38"/><circle cx="151.84" cy="448.34" r="0.8" fill="#555" fill-opacity="0.38"/><circle cx="130.75" cy="451.74" r="0.8" fill="#555" fill-opacity="0.38"/><circle cx="137.98" cy="453.48" r="0.8" fill="#555" fill-opacity="0.38"/><circle cx="140.40" cy="451.76" r="0.8" fill="#555" fill-opacity="0.38"/><circle cx="139.66" cy="450.69" r="0.8" fill="#555" fill-opacity="0.38"/><circle cx="115.10" cy="447.61" r="0.8" fill="#555" fill-opacity="0.38"/><circle cx="152.24" cy="449.11" r="0.8" fill="#555" fill-opacity="0.38"/><circle cx="145.20" cy="449.85" r="0.8" fill="#555" fill-opacity="0.38"/><circle cx="138.36" cy="451.44" r="0.8" fill="#555" fill-opacity="0.38"/><circle cx="131.84" cy="452.56" r="0.8" fill="#555" fill-opacity="0.38"/><circle cx="146.22" cy="448.13" r="0.8" fill="#555" fill-opacity="0.38"/><circle cx="112.76" cy="444.05" r="0.8" fill="#555" fill-opacity="0.38"/><circle cx="122.07" cy="448.14" r="0.8" fill="#555" fill-opacity="0.38"/><circle cx="143.81" cy="450.63" r="0.8" fill="#555" fill-opacity="0.38"/><path d="M154.13,441.97l1.1,1.1l-1.1,1.1l-1.1,-1.1z" fill="#8aa0e6" fill-opacity="0.25" stroke="#5a78d8" stroke-width="0.45" stroke-opacity="0.75"/><circle cx="123.26" cy="446.61" r="0.8" fill="#555" fill-opacity="0.38"/><circle cx="142.87" cy="449.47" r="0.8" fill="#555" fill-opacity="0.38"/><circle cx="120.78" cy="444.65" r="0.8" fill="#555" fill-opacity="0.38"/><circle cx="142.03" cy="448.11" r="0.8" fill="#555" fill-opacity="0.38"/><circle cx="131.90" cy="452.35" r="0.8" fill="#555" fill-opacity="0.38"/><circle cx="142.31" cy="450.44" r="0.8" fill="#555" fill-opacity="0.38"/><circle cx="120.59" cy="448.99" r="0.8" fill="#555" fill-opacity="0.38"/><path d="M153.84,440.52l1.1,1.1l-1.1,1.1l-1.1,-1.1z" fill="#8aa0e6" fill-opacity="0.25" stroke="#5a78d8" stroke-width="0.45" stroke-opacity="0.75"/><circle cx="152.26" cy="446.19" r="0.8" fill="#555" fill-opacity="0.38"/><circle cx="126.08" cy="448.42" r="0.8" fill="#555" fill-opacity="0.38"/><circle cx="117.70" cy="448.33" r="0.8" fill="#555" fill-opacity="0.38"/><circle cx="150.80" cy="444.94" r="0.8" fill="#555" fill-opacity="0.38"/><circle cx="144.41" cy="447.71" r="0.8" fill="#555" fill-opacity="0.38"/><circle cx="119.23" cy="445.94" r="0.8" fill="#555" fill-opacity="0.38"/><circle cx="132.31" cy="453.00" r="0.8" fill="#555" fill-opacity="0.38"/><circle cx="130.60" cy="451.53" r="0.8" fill="#555" fill-opacity="0.38"/><circle cx="140.44" cy="451.66" r="0.8" fill="#555" fill-opacity="0.38"/><circle cx="150.35" cy="445.21" r="0.8" fill="#555" fill-opacity="0.38"/><path d="M112.84,440.46l1.1,1.1l-1.1,1.1l-1.1,-1.1z" fill="#8aa0e6" fill-opacity="0.25" stroke="#5a78d8" stroke-width="0.45" stroke-opacity="0.75"/><path d="M151.92,440.26l1.1,1.1l-1.1,1.1l-1.1,-1.1z" fill="#8aa0e6" fill-opacity="0.25" stroke="#5a78d8" stroke-width="0.45" stroke-opacity="0.75"/><circle cx="137.88" cy="452.15" r="0.8" fill="#555" fill-opacity="0.38"/><circle cx="125.73" cy="449.14" r="0.8" fill="#555" fill-opacity="0.38"/><circle cx="117.69" cy="444.98" r="0.8" fill="#555" fill-opacity="0.38"/><circle cx="132.50" cy="452.19" r="0.8" fill="#555" fill-opacity="0.38"/><circle cx="122.40" cy="446.87" r="0.8" fill="#555" fill-opacity="0.38"/><path d="M117.92,441.05l1.1,1.1l-1.1,1.1l-1.1,-1.1z" fill="#8aa0e6" fill-opacity="0.25" stroke="#5a78d8" stroke-width="0.45" stroke-opacity="0.75"/><circle cx="132.11" cy="452.63" r="0.8" fill="#555" fill-opacity="0.38"/><circle cx="140.64" cy="451.69" r="0.8" fill="#555" fill-opacity="0.38"/><circle cx="155.90" cy="445.70" r="0.8" fill="#555" fill-opacity="0.38"/><circle cx="143.17" cy="448.97" r="0.8" fill="#555" fill-opacity="0.38"/><circle cx="119.67" cy="443.86" r="0.8" fill="#555" fill-opacity="0.38"/><circle cx="111.87" cy="445.24" r="0.8" fill="#555" fill-opacity="0.38"/><circle cx="119.69" cy="445.27" r="0.8" fill="#555" fill-opacity="0.38"/><circle cx="124.03" cy="449.38" r="0.8" fill="#555" fill-opacity="0.38"/><circle cx="135.55" cy="453.26" r="0.8" fill="#555" fill-opacity="0.38"/><circle cx="139.92" cy="451.19" r="0.8" fill="#555" fill-opacity="0.38"/><circle cx="148.16" cy="448.14" r="0.8" fill="#555" fill-opacity="0.38"/><path d="M153.47,438.14l1.1,1.1l-1.1,1.1l-1.1,-1.1z" fill="#8aa0e6" fill-opacity="0.25" stroke="#5a78d8" stroke-width="0.45" stroke-opacity="0.75"/><circle cx="144.93" cy="446.80" r="0.8" fill="#555" fill-opacity="0.38"/><circle cx="117.41" cy="447.11" r="0.8" fill="#555" fill-opacity="0.38"/><path d="M153.64,441.42l1.1,1.1l-1.1,1.1l-1.1,-1.1z" fill="#8aa0e6" fill-opacity="0.25" stroke="#5a78d8" stroke-width="0.45" stroke-opacity="0.75"/><circle cx="128.88" cy="452.54" r="0.8" fill="#555" fill-opacity="0.38"/><circle cx="148.39" cy="447.81" r="0.8" fill="#555" fill-opacity="0.38"/><circle cx="155.24" cy="445.77" r="0.8" fill="#555" fill-opacity="0.38"/><circle cx="120.89" cy="445.90" r="0.8" fill="#555" fill-opacity="0.38"/><circle cx="144.91" cy="447.61" r="0.8" fill="#555" fill-opacity="0.38"/><circle cx="144.71" cy="450.14" r="0.8" fill="#555" fill-opacity="0.38"/><path d="M121.28,441.95l1.1,1.1l-1.1,1.1l-1.1,-1.1z" fill="#8aa0e6" fill-opacity="0.25" stroke="#5a78d8" stroke-width="0.45" stroke-opacity="0.75"/><circle cx="156.77" cy="445.69" r="0.8" fill="#555" fill-opacity="0.38"/><circle cx="136.32" cy="453.18" r="0.8" fill="#555" fill-opacity="0.38"/><circle cx="153.64" cy="445.23" r="0.8" fill="#555" fill-opacity="0.38"/><circle cx="151.13" cy="445.29" r="0.8" fill="#555" fill-opacity="0.38"/><circle cx="131.85" cy="452.51" r="0.8" fill="#555" fill-opacity="0.38"/><circle cx="136.94" cy="452.86" r="0.8" fill="#555" fill-opacity="0.38"/><circle cx="112.69" cy="444.58" r="0.8" fill="#555" fill-opacity="0.38"/><path d="M148.96,442.17l1.1,1.1l-1.1,1.1l-1.1,-1.1z" fill="#8aa0e6" fill-opacity="0.25" stroke="#5a78d8" stroke-width="0.45" stroke-opacity="0.75"/><circle cx="119.41" cy="444.34" r="0.8" fill="#555" fill-opacity="0.38"/><circle cx="126.94" cy="449.75" r="0.8" fill="#555" fill-opacity="0.38"/><circle cx="118.28" cy="445.96" r="0.8" fill="#555" fill-opacity="0.38"/><circle cx="135.37" cy="453.92" r="0.8" fill="#555" fill-opacity="0.38"/><circle cx="143.40" cy="451.39" r="0.8" fill="#555" fill-opacity="0.38"/><circle cx="155.31" cy="448.13" r="0.8" fill="#555" fill-opacity="0.38"/><path d="M115.37,441.94l1.1,1.1l-1.1,1.1l-1.1,-1.1z" fill="#8aa0e6" fill-opacity="0.25" stroke="#5a78d8" stroke-width="0.45" stroke-opacity="0.75"/><circle cx="121.66" cy="448.14" r="0.8" fill="#555" fill-opacity="0.38"/><circle cx="145.23" cy="448.38" r="0.8" fill="#555" fill-opacity="0.38"/><circle cx="141.05" cy="452.30" r="0.8" fill="#555" fill-opacity="0.38"/><circle cx="137.39" cy="452.81" r="0.8" fill="#555" fill-opacity="0.38"/><circle cx="125.85" cy="450.87" r="0.8" fill="#555" fill-opacity="0.38"/><path d="M153.21,439.77l1.1,1.1l-1.1,1.1l-1.1,-1.1z" fill="#8aa0e6" fill-opacity="0.25" stroke="#5a78d8" stroke-width="0.45" stroke-opacity="0.75"/><circle cx="121.05" cy="444.02" r="0.8" fill="#555" fill-opacity="0.38"/><circle cx="135.73" cy="454.40" r="0.8" fill="#555" fill-opacity="0.38"/><circle cx="137.99" cy="452.10" r="0.8" fill="#555" fill-opacity="0.38"/><circle cx="134.75" cy="453.85" r="0.8" fill="#555" fill-opacity="0.38"/><circle cx="139.49" cy="449.52" r="0.8" fill="#555" fill-opacity="0.38"/><circle cx="135.34" cy="453.68" r="0.8" fill="#555" fill-opacity="0.38"/><circle cx="129.98" cy="451.33" r="0.8" fill="#555" fill-opacity="0.38"/><circle cx="134.18" cy="454.38" r="0.8" fill="#555" fill-opacity="0.38"/><circle cx="143.47" cy="447.89" r="0.8" fill="#555" fill-opacity="0.38"/><circle cx="130.59" cy="451.64" r="0.8" fill="#555" fill-opacity="0.38"/><path d="M155.82,439.38l1.1,1.1l-1.1,1.1l-1.1,-1.1z" fill="#8aa0e6" fill-opacity="0.25" stroke="#5a78d8" stroke-width="0.45" stroke-opacity="0.75"/><circle cx="133.35" cy="453.68" r="0.8" fill="#555" fill-opacity="0.38"/><circle cx="117.27" cy="447.72" r="0.8" fill="#555" fill-opacity="0.38"/><path d="M153.21,440.97l1.1,1.1l-1.1,1.1l-1.1,-1.1z" fill="#8aa0e6" fill-opacity="0.25" stroke="#5a78d8" stroke-width="0.45" stroke-opacity="0.75"/><circle cx="133.51" cy="453.73" r="0.8" fill="#555" fill-opacity="0.38"/><circle cx="140.08" cy="450.65" r="0.8" fill="#555" fill-opacity="0.38"/><path d="M154.35,439.22l1.1,1.1l-1.1,1.1l-1.1,-1.1z" fill="#8aa0e6" fill-opacity="0.25" stroke="#5a78d8" stroke-width="0.45" stroke-opacity="0.75"/><circle cx="120.39" cy="445.79" r="0.8" fill="#555" fill-opacity="0.38"/><circle cx="126.34" cy="447.91" r="0.8" fill="#555" fill-opacity="0.38"/><circle cx="127.88" cy="450.74" r="0.8" fill="#555" fill-opacity="0.38"/><circle cx="145.33" cy="448.57" r="0.8" fill="#555" fill-opacity="0.38"/><circle cx="117.08" cy="445.79" r="0.8" fill="#555" fill-opacity="0.38"/><circle cx="120.56" cy="446.33" r="0.8" fill="#555" fill-opacity="0.38"/><circle cx="136.01" cy="453.81" r="0.8" fill="#555" fill-opacity="0.38"/><circle cx="130.58" cy="451.71" r="0.8" fill="#555" fill-opacity="0.38"/><circle cx="135.96" cy="453.33" r="0.8" fill="#555" fill-opacity="0.38"/><circle cx="140.70" cy="450.28" r="0.8" fill="#555" fill-opacity="0.38"/><circle cx="141.03" cy="452.32" r="0.8" fill="#555" fill-opacity="0.38"/><circle cx="139.79" cy="451.58" r="0.8" fill="#555" fill-opacity="0.38"/><circle cx="151.17" cy="444.46" r="0.8" fill="#555" fill-opacity="0.38"/><path d="M149.02,442.15l1.1,1.1l-1.1,1.1l-1.1,-1.1z" fill="#8aa0e6" fill-opacity="0.25" stroke="#5a78d8" stroke-width="0.45" stroke-opacity="0.75"/><circle cx="153.31" cy="444.33" r="0.8" fill="#555" fill-opacity="0.38"/><path d="M154.24,440.19l1.1,1.1l-1.1,1.1l-1.1,-1.1z" fill="#8aa0e6" fill-opacity="0.25" stroke="#5a78d8" stroke-width="0.45" stroke-opacity="0.75"/><circle cx="121.51" cy="443.51" r="0.8" fill="#555" fill-opacity="0.38"/><circle cx="117.60" cy="444.60" r="0.8" fill="#555" fill-opacity="0.38"/><circle cx="122.49" cy="447.52" r="0.8" fill="#555" fill-opacity="0.38"/><circle cx="115.88" cy="445.21" r="0.8" fill="#555" fill-opacity="0.38"/><circle cx="150.03" cy="448.26" r="0.8" fill="#555" fill-opacity="0.38"/><path d="M117.23,441.58l1.1,1.1l-1.1,1.1l-1.1,-1.1z" fill="#8aa0e6" fill-opacity="0.25" stroke="#5a78d8" stroke-width="0.45" stroke-opacity="0.75"/><circle cx="130.08" cy="451.73" r="0.8" fill="#555" fill-opacity="0.38"/><circle cx="120.71" cy="446.62" r="0.8" fill="#555" fill-opacity="0.38"/><circle cx="143.07" cy="446.96" r="0.8" fill="#555" fill-opacity="0.38"/><circle cx="116.74" cy="446.91" r="0.8" fill="#555" fill-opacity="0.38"/><circle cx="134.86" cy="454.09" r="0.8" fill="#555" fill-opacity="0.38"/><circle cx="143.23" cy="450.66" r="0.8" fill="#555" fill-opacity="0.38"/><circle cx="120.15" cy="445.29" r="0.8" fill="#555" fill-opacity="0.38"/><path d="M113.11,440.42l1.1,1.1l-1.1,1.1l-1.1,-1.1z" fill="#8aa0e6" fill-opacity="0.25" stroke="#5a78d8" stroke-width="0.45" stroke-opacity="0.75"/><circle cx="137.00" cy="453.53" r="0.8" fill="#555" fill-opacity="0.38"/><circle cx="118.18" cy="445.12" r="0.8" fill="#555" fill-opacity="0.38"/><circle cx="119.95" cy="444.96" r="0.8" fill="#555" fill-opacity="0.38"/><path d="M154.43,441.19l1.1,1.1l-1.1,1.1l-1.1,-1.1z" fill="#8aa0e6" fill-opacity="0.25" stroke="#5a78d8" stroke-width="0.45" stroke-opacity="0.75"/><path d="M155.57,440.72l1.1,1.1l-1.1,1.1l-1.1,-1.1z" fill="#8aa0e6" fill-opacity="0.25" stroke="#5a78d8" stroke-width="0.45" stroke-opacity="0.75"/><circle cx="132.84" cy="453.21" r="0.8" fill="#555" fill-opacity="0.38"/><circle cx="133.07" cy="453.74" r="0.8" fill="#555" fill-opacity="0.38"/><circle cx="135.31" cy="454.25" r="0.8" fill="#555" fill-opacity="0.38"/><circle cx="143.94" cy="448.51" r="0.8" fill="#555" fill-opacity="0.38"/><circle cx="132.46" cy="453.28" r="0.8" fill="#555" fill-opacity="0.38"/><circle cx="145.72" cy="448.66" r="0.8" fill="#555" fill-opacity="0.38"/><circle cx="119.04" cy="444.71" r="0.8" fill="#555" fill-opacity="0.38"/><circle cx="135.18" cy="453.25" r="0.8" fill="#555" fill-opacity="0.38"/><circle cx="148.61" cy="445.92" r="0.8" fill="#555" fill-opacity="0.38"/><circle cx="144.11" cy="447.74" r="0.8" fill="#555" fill-opacity="0.38"/><circle cx="130.16" cy="452.49" r="0.8" fill="#555" fill-opacity="0.38"/><circle cx="139.23" cy="453.67" r="0.8" fill="#555" fill-opacity="0.38"/><circle cx="148.76" cy="446.31" r="0.8" fill="#555" fill-opacity="0.38"/><circle cx="123.37" cy="445.92" r="0.8" fill="#555" fill-opacity="0.38"/><circle cx="147.51" cy="448.25" r="0.8" fill="#555" fill-opacity="0.38"/><circle cx="149.22" cy="448.96" r="0.8" fill="#555" fill-opacity="0.38"/><path d="M152.24,440.69l1.1,1.1l-1.1,1.1l-1.1,-1.1z" fill="#8aa0e6" fill-opacity="0.25" stroke="#5a78d8" stroke-width="0.45" stroke-opacity="0.75"/><circle cx="143.65" cy="448.88" r="0.8" fill="#555" fill-opacity="0.38"/><circle cx="130.22" cy="452.94" r="0.8" fill="#555" fill-opacity="0.38"/><circle cx="144.94" cy="447.29" r="0.8" fill="#555" fill-opacity="0.38"/><circle cx="133.15" cy="453.27" r="0.8" fill="#555" fill-opacity="0.38"/><circle cx="111.87" cy="443.52" r="0.8" fill="#555" fill-opacity="0.38"/><circle cx="140.36" cy="450.03" r="0.8" fill="#555" fill-opacity="0.38"/><circle cx="122.16" cy="445.07" r="0.8" fill="#555" fill-opacity="0.38"/><circle cx="127.07" cy="450.47" r="0.8" fill="#555" fill-opacity="0.38"/><circle cx="142.02" cy="451.14" r="0.8" fill="#555" fill-opacity="0.38"/><circle cx="129.47" cy="451.73" r="0.8" fill="#555" fill-opacity="0.38"/><circle cx="157.82" cy="443.53" r="0.8" fill="#555" fill-opacity="0.38"/><circle cx="146.76" cy="449.11" r="0.8" fill="#555" fill-opacity="0.38"/><circle cx="145.69" cy="447.66" r="0.8" fill="#555" fill-opacity="0.38"/><circle cx="123.30" cy="448.17" r="0.8" fill="#555" fill-opacity="0.38"/><circle cx="120.45" cy="445.88" r="0.8" fill="#555" fill-opacity="0.38"/><circle cx="128.82" cy="450.44" r="0.8" fill="#555" fill-opacity="0.38"/><path d="M153.44,441.47l1.1,1.1l-1.1,1.1l-1.1,-1.1z" fill="#8aa0e6" fill-opacity="0.25" stroke="#5a78d8" stroke-width="0.45" stroke-opacity="0.75"/><circle cx="136.93" cy="454.21" r="0.8" fill="#555" fill-opacity="0.38"/><circle cx="137.76" cy="452.53" r="0.8" fill="#555" fill-opacity="0.38"/><circle cx="157.60" cy="444.16" r="0.8" fill="#555" fill-opacity="0.38"/><circle cx="114.91" cy="446.12" r="0.8" fill="#555" fill-opacity="0.38"/><circle cx="139.13" cy="451.66" r="0.8" fill="#555" fill-opacity="0.38"/><circle cx="154.58" cy="443.55" r="0.8" fill="#555" fill-opacity="0.38"/><circle cx="118.80" cy="446.35" r="0.8" fill="#555" fill-opacity="0.38"/><circle cx="134.39" cy="454.11" r="0.8" fill="#555" fill-opacity="0.38"/><circle cx="139.76" cy="449.57" r="0.8" fill="#555" fill-opacity="0.38"/><circle cx="130.92" cy="451.61" r="0.8" fill="#555" fill-opacity="0.38"/><circle cx="135.84" cy="453.84" r="0.8" fill="#555" fill-opacity="0.38"/><circle cx="124.65" cy="449.27" r="0.8" fill="#555" fill-opacity="0.38"/><circle cx="141.81" cy="450.89" r="0.8" fill="#555" fill-opacity="0.38"/><circle cx="144.66" cy="448.90" r="0.8" fill="#555" fill-opacity="0.38"/><circle cx="125.13" cy="447.95" r="0.8" fill="#555" fill-opacity="0.38"/><path d="M113.36,440.89l1.1,1.1l-1.1,1.1l-1.1,-1.1z" fill="#8aa0e6" fill-opacity="0.25" stroke="#5a78d8" stroke-width="0.45" stroke-opacity="0.75"/><circle cx="118.65" cy="445.11" r="0.8" fill="#555" fill-opacity="0.38"/><circle cx="153.07" cy="445.82" r="0.8" fill="#555" fill-opacity="0.38"/><circle cx="146.14" cy="443.65" r="0.8" fill="#555" fill-opacity="0.38"/><path d="M155.25,439.23l1.1,1.1l-1.1,1.1l-1.1,-1.1z" fill="#8aa0e6" fill-opacity="0.25" stroke="#5a78d8" stroke-width="0.45" stroke-opacity="0.75"/><path d="M114.79,439.89l1.1,1.1l-1.1,1.1l-1.1,-1.1z" fill="#8aa0e6" fill-opacity="0.25" stroke="#5a78d8" stroke-width="0.45" stroke-opacity="0.75"/><circle cx="133.56" cy="453.88" r="0.8" fill="#555" fill-opacity="0.38"/><path d="M156.58,440.51l1.1,1.1l-1.1,1.1l-1.1,-1.1z" fill="#8aa0e6" fill-opacity="0.25" stroke="#5a78d8" stroke-width="0.45" stroke-opacity="0.75"/><path d="M154.91,438.79l1.1,1.1l-1.1,1.1l-1.1,-1.1z" fill="#8aa0e6" fill-opacity="0.25" stroke="#5a78d8" stroke-width="0.45" stroke-opacity="0.75"/><circle cx="144.95" cy="451.87" r="0.8" fill="#555" fill-opacity="0.38"/><circle cx="149.31" cy="444.92" r="0.8" fill="#555" fill-opacity="0.38"/><circle cx="139.41" cy="450.73" r="0.8" fill="#555" fill-opacity="0.38"/><circle cx="132.54" cy="452.65" r="0.8" fill="#555" fill-opacity="0.38"/><circle cx="120.83" cy="444.51" r="0.8" fill="#555" fill-opacity="0.38"/><circle cx="117.15" cy="443.52" r="0.8" fill="#555" fill-opacity="0.38"/><circle cx="131.95" cy="453.03" r="0.8" fill="#555" fill-opacity="0.38"/><circle cx="123.55" cy="449.26" r="0.8" fill="#555" fill-opacity="0.38"/><circle cx="138.42" cy="453.05" r="0.8" fill="#555" fill-opacity="0.38"/><circle cx="136.03" cy="453.10" r="0.8" fill="#555" fill-opacity="0.38"/><circle cx="122.45" cy="448.03" r="0.8" fill="#555" fill-opacity="0.38"/><path d="M116.66,440.12l1.1,1.1l-1.1,1.1l-1.1,-1.1z" fill="#8aa0e6" fill-opacity="0.25" stroke="#5a78d8" stroke-width="0.45" stroke-opacity="0.75"/><circle cx="140.41" cy="451.86" r="0.8" fill="#555" fill-opacity="0.38"/><circle cx="128.06" cy="450.71" r="0.8" fill="#555" fill-opacity="0.38"/><circle cx="137.61" cy="451.69" r="0.8" fill="#555" fill-opacity="0.38"/><circle cx="138.86" cy="452.59" r="0.8" fill="#555" fill-opacity="0.38"/><circle cx="120.19" cy="448.15" r="0.8" fill="#555" fill-opacity="0.38"/><circle cx="122.94" cy="444.46" r="0.8" fill="#555" fill-opacity="0.38"/><circle cx="152.19" cy="444.79" r="0.8" fill="#555" fill-opacity="0.38"/><path d="M113.21,439.19l1.1,1.1l-1.1,1.1l-1.1,-1.1z" fill="#8aa0e6" fill-opacity="0.25" stroke="#5a78d8" stroke-width="0.45" stroke-opacity="0.75"/><circle cx="131.13" cy="452.09" r="0.8" fill="#555" fill-opacity="0.38"/><circle cx="140.33" cy="450.16" r="0.8" fill="#555" fill-opacity="0.38"/><path d="M114.74,440.15l1.1,1.1l-1.1,1.1l-1.1,-1.1z" fill="#8aa0e6" fill-opacity="0.25" stroke="#5a78d8" stroke-width="0.45" stroke-opacity="0.75"/><circle cx="115.39" cy="444.53" r="0.8" fill="#555" fill-opacity="0.38"/><circle cx="140.69" cy="451.76" r="0.8" fill="#555" fill-opacity="0.38"/><circle cx="128.71" cy="451.47" r="0.8" fill="#555" fill-opacity="0.38"/><circle cx="127.34" cy="450.02" r="0.8" fill="#555" fill-opacity="0.38"/><circle cx="145.97" cy="447.48" r="0.8" fill="#555" fill-opacity="0.38"/><circle cx="116.94" cy="444.86" r="0.8" fill="#555" fill-opacity="0.38"/><circle cx="148.96" cy="448.13" r="0.8" fill="#555" fill-opacity="0.38"/><circle cx="121.28" cy="448.57" r="0.8" fill="#555" fill-opacity="0.38"/><circle cx="131.09" cy="452.31" r="0.8" fill="#555" fill-opacity="0.38"/><circle cx="128.51" cy="449.21" r="0.8" fill="#555" fill-opacity="0.38"/><circle cx="141.74" cy="449.32" r="0.8" fill="#555" fill-opacity="0.38"/><circle cx="136.86" cy="453.00" r="0.8" fill="#555" fill-opacity="0.38"/><circle cx="146.03" cy="446.44" r="0.8" fill="#555" fill-opacity="0.38"/><circle cx="128.53" cy="451.23" r="0.8" fill="#555" fill-opacity="0.38"/><path d="M115.88,441.87l1.1,1.1l-1.1,1.1l-1.1,-1.1z" fill="#8aa0e6" fill-opacity="0.25" stroke="#5a78d8" stroke-width="0.45" stroke-opacity="0.75"/><circle cx="115.23" cy="443.84" r="0.8" fill="#555" fill-opacity="0.38"/><circle cx="137.58" cy="453.40" r="0.8" fill="#555" fill-opacity="0.38"/><circle cx="125.26" cy="448.76" r="0.8" fill="#555" fill-opacity="0.38"/><circle cx="147.40" cy="446.01" r="0.8" fill="#555" fill-opacity="0.38"/><circle cx="142.13" cy="449.64" r="0.8" fill="#555" fill-opacity="0.38"/><circle cx="115.17" cy="444.35" r="0.8" fill="#555" fill-opacity="0.38"/><circle cx="143.61" cy="447.36" r="0.8" fill="#555" fill-opacity="0.38"/><circle cx="124.52" cy="447.76" r="0.8" fill="#555" fill-opacity="0.38"/><circle cx="145.10" cy="447.31" r="0.8" fill="#555" fill-opacity="0.38"/><circle cx="128.39" cy="449.69" r="0.8" fill="#555" fill-opacity="0.38"/><circle cx="137.82" cy="451.81" r="0.8" fill="#555" fill-opacity="0.38"/><path d="M154.04,437.54l1.1,1.1l-1.1,1.1l-1.1,-1.1z" fill="#8aa0e6" fill-opacity="0.25" stroke="#5a78d8" stroke-width="0.45" stroke-opacity="0.75"/><circle cx="131.72" cy="453.06" r="0.8" fill="#555" fill-opacity="0.38"/><circle cx="148.68" cy="446.72" r="0.8" fill="#555" fill-opacity="0.38"/><circle cx="129.94" cy="451.00" r="0.8" fill="#555" fill-opacity="0.38"/><path d="M154.79,440.29l1.1,1.1l-1.1,1.1l-1.1,-1.1z" fill="#8aa0e6" fill-opacity="0.25" stroke="#5a78d8" stroke-width="0.45" stroke-opacity="0.75"/><circle cx="128.18" cy="451.01" r="0.8" fill="#555" fill-opacity="0.38"/><circle cx="128.36" cy="451.27" r="0.8" fill="#555" fill-opacity="0.38"/><circle cx="129.38" cy="450.68" r="0.8" fill="#555" fill-opacity="0.38"/><circle cx="120.43" cy="448.93" r="0.8" fill="#555" fill-opacity="0.38"/><circle cx="136.48" cy="453.49" r="0.8" fill="#555" fill-opacity="0.38"/><circle cx="150.23" cy="446.39" r="0.8" fill="#555" fill-opacity="0.38"/><circle cx="146.63" cy="447.75" r="0.8" fill="#555" fill-opacity="0.38"/><circle cx="152.29" cy="444.25" r="0.8" fill="#555" fill-opacity="0.38"/><circle cx="135.33" cy="453.77" r="0.8" fill="#555" fill-opacity="0.38"/><circle cx="136.65" cy="454.19" r="0.8" fill="#555" fill-opacity="0.38"/><circle cx="141.62" cy="451.28" r="0.8" fill="#555" fill-opacity="0.38"/><circle cx="148.74" cy="444.26" r="0.8" fill="#555" fill-opacity="0.38"/><circle cx="147.98" cy="445.84" r="0.8" fill="#555" fill-opacity="0.38"/><path d="M115.28,439.02l1.1,1.1l-1.1,1.1l-1.1,-1.1z" fill="#8aa0e6" fill-opacity="0.25" stroke="#5a78d8" stroke-width="0.45" stroke-opacity="0.75"/><path d="M153.14,440.89l1.1,1.1l-1.1,1.1l-1.1,-1.1z" fill="#8aa0e6" fill-opacity="0.25" stroke="#5a78d8" stroke-width="0.45" stroke-opacity="0.75"/><circle cx="115.31" cy="444.07" r="0.8" fill="#555" fill-opacity="0.38"/><circle cx="146.02" cy="448.33" r="0.8" fill="#555" fill-opacity="0.38"/><circle cx="141.52" cy="450.29" r="0.8" fill="#555" fill-opacity="0.38"/><circle cx="146.93" cy="446.18" r="0.8" fill="#555" fill-opacity="0.38"/><circle cx="135.60" cy="453.65" r="0.8" fill="#555" fill-opacity="0.38"/><circle cx="127.07" cy="450.97" r="0.8" fill="#555" fill-opacity="0.38"/><path d="M156.35,442.08l1.1,1.1l-1.1,1.1l-1.1,-1.1z" fill="#8aa0e6" fill-opacity="0.25" stroke="#5a78d8" stroke-width="0.45" stroke-opacity="0.75"/><circle cx="136.33" cy="453.71" r="0.8" fill="#555" fill-opacity="0.38"/><circle cx="144.86" cy="449.14" r="0.8" fill="#555" fill-opacity="0.38"/><circle cx="130.45" cy="453.33" r="0.8" fill="#555" fill-opacity="0.38"/><circle cx="149.75" cy="447.35" r="0.8" fill="#555" fill-opacity="0.38"/><circle cx="148.81" cy="449.00" r="0.8" fill="#555" fill-opacity="0.38"/><path d="M150.11,440.83l1.1,1.1l-1.1,1.1l-1.1,-1.1z" fill="#8aa0e6" fill-opacity="0.25" stroke="#5a78d8" stroke-width="0.45" stroke-opacity="0.75"/><circle cx="141.12" cy="452.01" r="0.8" fill="#555" fill-opacity="0.38"/><circle cx="135.71" cy="453.79" r="0.8" fill="#555" fill-opacity="0.38"/><circle cx="130.96" cy="453.27" r="0.8" fill="#555" fill-opacity="0.38"/><circle cx="130.91" cy="451.52" r="0.8" fill="#555" fill-opacity="0.38"/><circle cx="128.82" cy="450.68" r="0.8" fill="#555" fill-opacity="0.38"/><circle cx="131.11" cy="451.91" r="0.8" fill="#555" fill-opacity="0.38"/><circle cx="124.94" cy="448.33" r="0.8" fill="#555" fill-opacity="0.38"/><circle cx="125.70" cy="449.26" r="0.8" fill="#555" fill-opacity="0.38"/><circle cx="116.71" cy="446.17" r="0.8" fill="#555" fill-opacity="0.38"/><circle cx="119.71" cy="448.19" r="0.8" fill="#555" fill-opacity="0.38"/><circle cx="114.27" cy="445.60" r="0.8" fill="#555" fill-opacity="0.38"/><path d="M153.61,441.58l1.1,1.1l-1.1,1.1l-1.1,-1.1z" fill="#8aa0e6" fill-opacity="0.25" stroke="#5a78d8" stroke-width="0.45" stroke-opacity="0.75"/><path d="M113.06,439.68l1.1,1.1l-1.1,1.1l-1.1,-1.1z" fill="#8aa0e6" fill-opacity="0.25" stroke="#5a78d8" stroke-width="0.45" stroke-opacity="0.75"/><circle cx="121.47" cy="446.14" r="0.8" fill="#555" fill-opacity="0.38"/><circle cx="122.31" cy="447.66" r="0.8" fill="#555" fill-opacity="0.38"/><circle cx="121.78" cy="448.97" r="0.8" fill="#555" fill-opacity="0.38"/><circle cx="119.97" cy="446.12" r="0.8" fill="#555" fill-opacity="0.38"/><circle cx="146.56" cy="446.56" r="0.8" fill="#555" fill-opacity="0.38"/><circle cx="125.85" cy="451.26" r="0.8" fill="#555" fill-opacity="0.38"/><circle cx="133.65" cy="453.91" r="0.8" fill="#555" fill-opacity="0.38"/><circle cx="123.47" cy="445.60" r="0.8" fill="#555" fill-opacity="0.38"/><circle cx="127.26" cy="451.50" r="0.8" fill="#555" fill-opacity="0.38"/><circle cx="136.80" cy="452.47" r="0.8" fill="#555" fill-opacity="0.38"/><circle cx="121.64" cy="447.34" r="0.8" fill="#555" fill-opacity="0.38"/><path d="M113.68,437.23l1.1,1.1l-1.1,1.1l-1.1,-1.1z" fill="#8aa0e6" fill-opacity="0.25" stroke="#5a78d8" stroke-width="0.45" stroke-opacity="0.75"/><circle cx="129.26" cy="451.67" r="0.8" fill="#555" fill-opacity="0.38"/><circle cx="135.88" cy="453.83" r="0.8" fill="#555" fill-opacity="0.38"/><circle cx="141.92" cy="450.07" r="0.8" fill="#555" fill-opacity="0.38"/><circle cx="133.33" cy="453.47" r="0.8" fill="#555" fill-opacity="0.38"/><circle cx="128.63" cy="450.46" r="0.8" fill="#555" fill-opacity="0.38"/><circle cx="139.53" cy="452.58" r="0.8" fill="#555" fill-opacity="0.38"/><circle cx="118.68" cy="444.28" r="0.8" fill="#555" fill-opacity="0.38"/><circle cx="123.42" cy="446.87" r="0.8" fill="#555" fill-opacity="0.38"/><circle cx="151.75" cy="447.27" r="0.8" fill="#555" fill-opacity="0.38"/><circle cx="123.75" cy="448.82" r="0.8" fill="#555" fill-opacity="0.38"/><circle cx="147.16" cy="447.28" r="0.8" fill="#555" fill-opacity="0.38"/><circle cx="149.56" cy="448.78" r="0.8" fill="#555" fill-opacity="0.38"/><circle cx="115.20" cy="443.63" r="0.8" fill="#555" fill-opacity="0.38"/><path d="M115.89,439.13l1.1,1.1l-1.1,1.1l-1.1,-1.1z" fill="#8aa0e6" fill-opacity="0.25" stroke="#5a78d8" stroke-width="0.45" stroke-opacity="0.75"/><circle cx="133.68" cy="454.59" r="0.8" fill="#555" fill-opacity="0.38"/><circle cx="138.62" cy="451.64" r="0.8" fill="#555" fill-opacity="0.38"/><circle cx="151.20" cy="445.91" r="0.8" fill="#555" fill-opacity="0.38"/><circle cx="130.74" cy="450.98" r="0.8" fill="#555" fill-opacity="0.38"/><path d="M153.96,438.66l1.1,1.1l-1.1,1.1l-1.1,-1.1z" fill="#8aa0e6" fill-opacity="0.25" stroke="#5a78d8" stroke-width="0.45" stroke-opacity="0.75"/><circle cx="121.05" cy="444.90" r="0.8" fill="#555" fill-opacity="0.38"/><circle cx="136.61" cy="453.37" r="0.8" fill="#555" fill-opacity="0.38"/><circle cx="150.02" cy="445.63" r="0.8" fill="#555" fill-opacity="0.38"/><circle cx="125.84" cy="449.43" r="0.8" fill="#555" fill-opacity="0.38"/><circle cx="125.57" cy="448.68" r="0.8" fill="#555" fill-opacity="0.38"/><circle cx="133.08" cy="453.47" r="0.8" fill="#555" fill-opacity="0.38"/><circle cx="143.29" cy="450.34" r="0.8" fill="#555" fill-opacity="0.38"/><circle cx="116.29" cy="445.64" r="0.8" fill="#555" fill-opacity="0.38"/><path d="M156.29,439.12l1.1,1.1l-1.1,1.1l-1.1,-1.1z" fill="#8aa0e6" fill-opacity="0.25" stroke="#5a78d8" stroke-width="0.45" stroke-opacity="0.75"/><circle cx="149.92" cy="445.68" r="0.8" fill="#555" fill-opacity="0.38"/><circle cx="128.89" cy="451.11" r="0.8" fill="#555" fill-opacity="0.38"/><circle cx="144.36" cy="448.57" r="0.8" fill="#555" fill-opacity="0.38"/><circle cx="132.65" cy="452.56" r="0.8" fill="#555" fill-opacity="0.38"/><circle cx="120.98" cy="446.64" r="0.8" fill="#555" fill-opacity="0.38"/><circle cx="139.99" cy="451.38" r="0.8" fill="#555" fill-opacity="0.38"/><circle cx="136.45" cy="452.78" r="0.8" fill="#555" fill-opacity="0.38"/><circle cx="125.23" cy="449.53" r="0.8" fill="#555" fill-opacity="0.38"/><circle cx="142.34" cy="448.96" r="0.8" fill="#555" fill-opacity="0.38"/><circle cx="123.29" cy="447.11" r="0.8" fill="#555" fill-opacity="0.38"/><circle cx="126.68" cy="448.12" r="0.8" fill="#555" fill-opacity="0.38"/><circle cx="155.27" cy="445.91" r="0.8" fill="#555" fill-opacity="0.38"/><circle cx="126.78" cy="450.44" r="0.8" fill="#555" fill-opacity="0.38"/><circle cx="149.78" cy="444.78" r="0.8" fill="#555" fill-opacity="0.38"/><path d="M115.76,441.77l1.1,1.1l-1.1,1.1l-1.1,-1.1z" fill="#8aa0e6" fill-opacity="0.25" stroke="#5a78d8" stroke-width="0.45" stroke-opacity="0.75"/><circle cx="142.85" cy="449.73" r="0.8" fill="#555" fill-opacity="0.38"/><circle cx="130.06" cy="452.10" r="0.8" fill="#555" fill-opacity="0.38"/><circle cx="150.25" cy="445.99" r="0.8" fill="#555" fill-opacity="0.38"/><circle cx="121.90" cy="447.38" r="0.8" fill="#555" fill-opacity="0.38"/><circle cx="118.67" cy="443.83" r="0.8" fill="#555" fill-opacity="0.38"/><path d="M114.75,440.23l1.1,1.1l-1.1,1.1l-1.1,-1.1z" fill="#8aa0e6" fill-opacity="0.25" stroke="#5a78d8" stroke-width="0.45" stroke-opacity="0.75"/><circle cx="154.14" cy="445.49" r="0.8" fill="#555" fill-opacity="0.38"/><circle cx="141.44" cy="449.86" r="0.8" fill="#555" fill-opacity="0.38"/><circle cx="147.00" cy="446.55" r="0.8" fill="#555" fill-opacity="0.38"/><circle cx="126.77" cy="450.72" r="0.8" fill="#555" fill-opacity="0.38"/><circle cx="130.52" cy="451.26" r="0.8" fill="#555" fill-opacity="0.38"/><circle cx="143.88" cy="448.84" r="0.8" fill="#555" fill-opacity="0.38"/><circle cx="139.64" cy="452.47" r="0.8" fill="#555" fill-opacity="0.38"/><circle cx="141.60" cy="449.50" r="0.8" fill="#555" fill-opacity="0.38"/><circle cx="116.31" cy="445.62" r="0.8" fill="#555" fill-opacity="0.38"/><circle cx="148.00" cy="445.29" r="0.8" fill="#555" fill-opacity="0.38"/><circle cx="149.71" cy="446.44" r="0.8" fill="#555" fill-opacity="0.38"/><circle cx="146.98" cy="447.76" r="0.8" fill="#555" fill-opacity="0.38"/><circle cx="153.32" cy="445.48" r="0.8" fill="#555" fill-opacity="0.38"/><circle cx="134.62" cy="454.32" r="0.8" fill="#555" fill-opacity="0.38"/><circle cx="117.96" cy="446.05" r="0.8" fill="#555" fill-opacity="0.38"/><circle cx="135.34" cy="454.60" r="0.8" fill="#555" fill-opacity="0.38"/><circle cx="144.61" cy="448.12" r="0.8" fill="#555" fill-opacity="0.38"/><circle cx="155.27" cy="443.80" r="0.8" fill="#555" fill-opacity="0.38"/><circle cx="140.50" cy="450.77" r="0.8" fill="#555" fill-opacity="0.38"/><circle cx="122.74" cy="446.92" r="0.8" fill="#555" fill-opacity="0.38"/><circle cx="138.15" cy="452.41" r="0.8" fill="#555" fill-opacity="0.38"/><circle cx="154.53" cy="444.79" r="0.8" fill="#555" fill-opacity="0.38"/><circle cx="128.15" cy="451.03" r="0.8" fill="#555" fill-opacity="0.38"/><path d="M156.60,440.32l1.1,1.1l-1.1,1.1l-1.1,-1.1z" fill="#8aa0e6" fill-opacity="0.25" stroke="#5a78d8" stroke-width="0.45" stroke-opacity="0.75"/><path d="M117.67,441.49l1.1,1.1l-1.1,1.1l-1.1,-1.1z" fill="#8aa0e6" fill-opacity="0.25" stroke="#5a78d8" stroke-width="0.45" stroke-opacity="0.75"/><circle cx="137.42" cy="453.03" r="0.8" fill="#555" fill-opacity="0.38"/><circle cx="137.40" cy="452.76" r="0.8" fill="#555" fill-opacity="0.38"/><circle cx="149.35" cy="446.56" r="0.8" fill="#555" fill-opacity="0.38"/><circle cx="149.68" cy="446.19" r="0.8" fill="#555" fill-opacity="0.38"/><circle cx="124.78" cy="447.92" r="0.8" fill="#555" fill-opacity="0.38"/><circle cx="138.02" cy="452.57" r="0.8" fill="#555" fill-opacity="0.38"/><circle cx="149.96" cy="444.60" r="0.8" fill="#555" fill-opacity="0.38"/><path d="M114.92,439.35l1.1,1.1l-1.1,1.1l-1.1,-1.1z" fill="#8aa0e6" fill-opacity="0.25" stroke="#5a78d8" stroke-width="0.45" stroke-opacity="0.75"/><path d="M112.86,437.71l1.1,1.1l-1.1,1.1l-1.1,-1.1z" fill="#8aa0e6" fill-opacity="0.25" stroke="#5a78d8" stroke-width="0.45" stroke-opacity="0.75"/><path d="M155.01,435.38l1.1,1.1l-1.1,1.1l-1.1,-1.1z" fill="#8aa0e6" fill-opacity="0.25" stroke="#5a78d8" stroke-width="0.45" stroke-opacity="0.75"/><circle cx="141.96" cy="450.59" r="0.8" fill="#555" fill-opacity="0.38"/><circle cx="145.64" cy="446.06" r="0.8" fill="#555" fill-opacity="0.38"/><circle cx="129.10" cy="452.34" r="0.8" fill="#555" fill-opacity="0.38"/><circle cx="112.13" cy="443.91" r="0.8" fill="#555" fill-opacity="0.38"/><circle cx="120.64" cy="447.20" r="0.8" fill="#555" fill-opacity="0.38"/><circle cx="129.32" cy="451.16" r="0.8" fill="#555" fill-opacity="0.38"/><circle cx="137.83" cy="452.09" r="0.8" fill="#555" fill-opacity="0.38"/><circle cx="123.62" cy="446.54" r="0.8" fill="#555" fill-opacity="0.38"/><circle cx="137.76" cy="452.86" r="0.8" fill="#555" fill-opacity="0.38"/><path d="M113.13,437.92l1.1,1.1l-1.1,1.1l-1.1,-1.1z" fill="#8aa0e6" fill-opacity="0.25" stroke="#5a78d8" stroke-width="0.45" stroke-opacity="0.75"/><circle cx="142.54" cy="448.09" r="0.8" fill="#555" fill-opacity="0.38"/><circle cx="139.25" cy="450.16" r="0.8" fill="#555" fill-opacity="0.38"/><circle cx="133.20" cy="453.93" r="0.8" fill="#555" fill-opacity="0.38"/><circle cx="143.39" cy="448.40" r="0.8" fill="#555" fill-opacity="0.38"/><circle cx="146.59" cy="447.40" r="0.8" fill="#555" fill-opacity="0.38"/><circle cx="157.58" cy="444.10" r="0.8" fill="#555" fill-opacity="0.38"/><circle cx="150.31" cy="444.15" r="0.8" fill="#555" fill-opacity="0.38"/><circle cx="131.53" cy="452.96" r="0.8" fill="#555" fill-opacity="0.38"/><circle cx="137.66" cy="451.94" r="0.8" fill="#555" fill-opacity="0.38"/><circle cx="135.76" cy="453.85" r="0.8" fill="#555" fill-opacity="0.38"/><circle cx="131.45" cy="452.04" r="0.8" fill="#555" fill-opacity="0.38"/><circle cx="113.91" cy="443.62" r="0.8" fill="#555" fill-opacity="0.38"/><circle cx="145.08" cy="446.56" r="0.8" fill="#555" fill-opacity="0.38"/><circle cx="139.13" cy="452.35" r="0.8" fill="#555" fill-opacity="0.38"/><circle cx="146.30" cy="448.23" r="0.8" fill="#555" fill-opacity="0.38"/><path d="M114.62,438.91l1.1,1.1l-1.1,1.1l-1.1,-1.1z" fill="#8aa0e6" fill-opacity="0.25" stroke="#5a78d8" stroke-width="0.45" stroke-opacity="0.75"/><circle cx="117.15" cy="446.54" r="0.8" fill="#555" fill-opacity="0.38"/><circle cx="129.80" cy="451.23" r="0.8" fill="#555" fill-opacity="0.38"/><path d="M113.79,442.26l1.1,1.1l-1.1,1.1l-1.1,-1.1z" fill="#8aa0e6" fill-opacity="0.25" stroke="#5a78d8" stroke-width="0.45" stroke-opacity="0.75"/><circle cx="122.48" cy="449.04" r="0.8" fill="#555" fill-opacity="0.38"/><circle cx="125.60" cy="449.80" r="0.8" fill="#555" fill-opacity="0.38"/><path d="M114.55,440.71l1.1,1.1l-1.1,1.1l-1.1,-1.1z" fill="#8aa0e6" fill-opacity="0.25" stroke="#5a78d8" stroke-width="0.45" stroke-opacity="0.75"/><path d="M153.71,439.12l1.1,1.1l-1.1,1.1l-1.1,-1.1z" fill="#8aa0e6" fill-opacity="0.25" stroke="#5a78d8" stroke-width="0.45" stroke-opacity="0.75"/><circle cx="151.62" cy="445.16" r="0.8" fill="#555" fill-opacity="0.38"/><circle cx="130.95" cy="452.02" r="0.8" fill="#555" fill-opacity="0.38"/><circle cx="146.06" cy="448.66" r="0.8" fill="#555" fill-opacity="0.38"/><circle cx="137.70" cy="452.27" r="0.8" fill="#555" fill-opacity="0.38"/><circle cx="148.18" cy="446.93" r="0.8" fill="#555" fill-opacity="0.38"/><circle cx="117.12" cy="449.08" r="0.8" fill="#555" fill-opacity="0.38"/><circle cx="122.71" cy="447.86" r="0.8" fill="#555" fill-opacity="0.38"/><path d="M114.28,439.64l1.1,1.1l-1.1,1.1l-1.1,-1.1z" fill="#8aa0e6" fill-opacity="0.25" stroke="#5a78d8" stroke-width="0.45" stroke-opacity="0.75"/><path d="M152.95,441.85l1.1,1.1l-1.1,1.1l-1.1,-1.1z" fill="#8aa0e6" fill-opacity="0.25" stroke="#5a78d8" stroke-width="0.45" stroke-opacity="0.75"/><circle cx="127.93" cy="451.31" r="0.8" fill="#555" fill-opacity="0.38"/><circle cx="138.57" cy="451.83" r="0.8" fill="#555" fill-opacity="0.38"/><circle cx="153.11" cy="443.55" r="0.8" fill="#555" fill-opacity="0.38"/><circle cx="125.67" cy="451.85" r="0.8" fill="#555" fill-opacity="0.38"/><circle cx="133.33" cy="453.44" r="0.8" fill="#555" fill-opacity="0.38"/><path d="M154.23,440.17l1.1,1.1l-1.1,1.1l-1.1,-1.1z" fill="#8aa0e6" fill-opacity="0.25" stroke="#5a78d8" stroke-width="0.45" stroke-opacity="0.75"/><path d="M153.03,441.30l1.1,1.1l-1.1,1.1l-1.1,-1.1z" fill="#8aa0e6" fill-opacity="0.25" stroke="#5a78d8" stroke-width="0.45" stroke-opacity="0.75"/><circle cx="127.83" cy="448.71" r="0.8" fill="#555" fill-opacity="0.38"/><circle cx="133.32" cy="453.15" r="0.8" fill="#555" fill-opacity="0.38"/><circle cx="120.76" cy="447.08" r="0.8" fill="#555" fill-opacity="0.38"/><circle cx="152.26" cy="445.16" r="0.8" fill="#555" fill-opacity="0.38"/><path d="M113.70,438.27l1.1,1.1l-1.1,1.1l-1.1,-1.1z" fill="#8aa0e6" fill-opacity="0.25" stroke="#5a78d8" stroke-width="0.45" stroke-opacity="0.75"/><circle cx="125.91" cy="448.18" r="0.8" fill="#555" fill-opacity="0.38"/><path d="M153.20,440.27l1.1,1.1l-1.1,1.1l-1.1,-1.1z" fill="#8aa0e6" fill-opacity="0.25" stroke="#5a78d8" stroke-width="0.45" stroke-opacity="0.75"/><circle cx="117.64" cy="446.84" r="0.8" fill="#555" fill-opacity="0.38"/><circle cx="143.70" cy="447.89" r="0.8" fill="#555" fill-opacity="0.38"/><circle cx="115.04" cy="444.02" r="0.8" fill="#555" fill-opacity="0.38"/><circle cx="121.74" cy="447.78" r="0.8" fill="#555" fill-opacity="0.38"/><circle cx="120.50" cy="443.76" r="0.8" fill="#555" fill-opacity="0.38"/><circle cx="119.78" cy="445.57" r="0.8" fill="#555" fill-opacity="0.38"/><circle cx="148.09" cy="444.20" r="0.8" fill="#555" fill-opacity="0.38"/><circle cx="128.68" cy="451.81" r="0.8" fill="#555" fill-opacity="0.38"/><circle cx="138.78" cy="453.07" r="0.8" fill="#555" fill-opacity="0.38"/><circle cx="122.01" cy="448.17" r="0.8" fill="#555" fill-opacity="0.38"/><circle cx="142.36" cy="447.59" r="0.8" fill="#555" fill-opacity="0.38"/><circle cx="124.23" cy="448.70" r="0.8" fill="#555" fill-opacity="0.38"/><circle cx="131.83" cy="453.32" r="0.8" fill="#555" fill-opacity="0.38"/><path d="M113.48,441.63l1.1,1.1l-1.1,1.1l-1.1,-1.1z" fill="#8aa0e6" fill-opacity="0.25" stroke="#5a78d8" stroke-width="0.45" stroke-opacity="0.75"/><circle cx="139.23" cy="451.73" r="0.8" fill="#555" fill-opacity="0.38"/><circle cx="148.69" cy="444.99" r="0.8" fill="#555" fill-opacity="0.38"/><circle cx="115.42" cy="444.12" r="0.8" fill="#555" fill-opacity="0.38"/><circle cx="122.80" cy="445.17" r="0.8" fill="#555" fill-opacity="0.38"/><circle cx="124.34" cy="449.19" r="0.8" fill="#555" fill-opacity="0.38"/><circle cx="153.04" cy="444.14" r="0.8" fill="#555" fill-opacity="0.38"/><circle cx="146.24" cy="447.29" r="0.8" fill="#555" fill-opacity="0.38"/><circle cx="129.24" cy="450.36" r="0.8" fill="#555" fill-opacity="0.38"/><circle cx="119.73" cy="446.66" r="0.8" fill="#555" fill-opacity="0.38"/><circle cx="137.20" cy="453.07" r="0.8" fill="#555" fill-opacity="0.38"/><circle cx="141.95" cy="450.80" r="0.8" fill="#555" fill-opacity="0.38"/><circle cx="147.75" cy="448.62" r="0.8" fill="#555" fill-opacity="0.38"/><circle cx="150.64" cy="445.34" r="0.8" fill="#555" fill-opacity="0.38"/><circle cx="143.16" cy="452.09" r="0.8" fill="#555" fill-opacity="0.38"/><circle cx="119.45" cy="446.18" r="0.8" fill="#555" fill-opacity="0.38"/><circle cx="147.59" cy="445.77" r="0.8" fill="#555" fill-opacity="0.38"/><circle cx="122.31" cy="445.49" r="0.8" fill="#555" fill-opacity="0.38"/><circle cx="131.83" cy="452.54" r="0.8" fill="#555" fill-opacity="0.38"/><circle cx="148.12" cy="449.35" r="0.8" fill="#555" fill-opacity="0.38"/><circle cx="122.33" cy="448.31" r="0.8" fill="#555" fill-opacity="0.38"/><circle cx="138.32" cy="452.10" r="0.8" fill="#555" fill-opacity="0.38"/><circle cx="134.55" cy="453.88" r="0.8" fill="#555" fill-opacity="0.38"/><circle cx="144.57" cy="448.20" r="0.8" fill="#555" fill-opacity="0.38"/><circle cx="137.97" cy="452.07" r="0.8" fill="#555" fill-opacity="0.38"/><circle cx="118.43" cy="445.88" r="0.8" fill="#555" fill-opacity="0.38"/><circle cx="112.20" cy="444.15" r="0.8" fill="#555" fill-opacity="0.38"/><circle cx="131.89" cy="452.70" r="0.8" fill="#555" fill-opacity="0.38"/><circle cx="123.59" cy="447.82" r="0.8" fill="#555" fill-opacity="0.38"/><circle cx="153.52" cy="444.26" r="0.8" fill="#555" fill-opacity="0.38"/><circle cx="137.80" cy="453.42" r="0.8" fill="#555" fill-opacity="0.38"/><circle cx="122.43" cy="448.02" r="0.8" fill="#555" fill-opacity="0.38"/><circle cx="118.17" cy="445.09" r="0.8" fill="#555" fill-opacity="0.38"/><circle cx="125.98" cy="449.03" r="0.8" fill="#555" fill-opacity="0.38"/><circle cx="140.23" cy="451.68" r="0.8" fill="#555" fill-opacity="0.38"/><circle cx="138.72" cy="451.99" r="0.8" fill="#555" fill-opacity="0.38"/><path d="M115.48,441.68l1.1,1.1l-1.1,1.1l-1.1,-1.1z" fill="#8aa0e6" fill-opacity="0.25" stroke="#5a78d8" stroke-width="0.45" stroke-opacity="0.75"/><circle cx="123.21" cy="448.54" r="0.8" fill="#555" fill-opacity="0.38"/><circle cx="118.80" cy="446.51" r="0.8" fill="#555" fill-opacity="0.38"/><circle cx="147.92" cy="449.45" r="0.8" fill="#555" fill-opacity="0.38"/><circle cx="114.21" cy="444.48" r="0.8" fill="#555" fill-opacity="0.38"/><circle cx="121.42" cy="445.94" r="0.8" fill="#555" fill-opacity="0.38"/><path d="M156.46,437.96l1.1,1.1l-1.1,1.1l-1.1,-1.1z" fill="#8aa0e6" fill-opacity="0.25" stroke="#5a78d8" stroke-width="0.45" stroke-opacity="0.75"/><circle cx="146.74" cy="446.89" r="0.8" fill="#555" fill-opacity="0.38"/><circle cx="145.98" cy="446.55" r="0.8" fill="#555" fill-opacity="0.38"/><path d="M113.20,440.65l1.1,1.1l-1.1,1.1l-1.1,-1.1z" fill="#8aa0e6" fill-opacity="0.25" stroke="#5a78d8" stroke-width="0.45" stroke-opacity="0.75"/><path d="M117.95,439.63l1.1,1.1l-1.1,1.1l-1.1,-1.1z" fill="#8aa0e6" fill-opacity="0.25" stroke="#5a78d8" stroke-width="0.45" stroke-opacity="0.75"/><circle cx="129.63" cy="451.66" r="0.8" fill="#555" fill-opacity="0.38"/><path d="M114.93,439.71l1.1,1.1l-1.1,1.1l-1.1,-1.1z" fill="#8aa0e6" fill-opacity="0.25" stroke="#5a78d8" stroke-width="0.45" stroke-opacity="0.75"/><path d="M112.97,436.71l1.1,1.1l-1.1,1.1l-1.1,-1.1z" fill="#8aa0e6" fill-opacity="0.25" stroke="#5a78d8" stroke-width="0.45" stroke-opacity="0.75"/><circle cx="145.47" cy="448.11" r="0.8" fill="#555" fill-opacity="0.38"/><circle cx="122.05" cy="447.14" r="0.8" fill="#555" fill-opacity="0.38"/><circle cx="122.60" cy="445.57" r="0.8" fill="#555" fill-opacity="0.38"/><circle cx="132.81" cy="452.86" r="0.8" fill="#555" fill-opacity="0.38"/><circle cx="127.03" cy="450.34" r="0.8" fill="#555" fill-opacity="0.38"/><circle cx="130.10" cy="451.82" r="0.8" fill="#555" fill-opacity="0.38"/><circle cx="141.56" cy="449.47" r="0.8" fill="#555" fill-opacity="0.38"/><circle cx="143.64" cy="448.72" r="0.8" fill="#555" fill-opacity="0.38"/><circle cx="151.53" cy="448.03" r="0.8" fill="#555" fill-opacity="0.38"/><circle cx="132.86" cy="453.75" r="0.8" fill="#555" fill-opacity="0.38"/><circle cx="129.63" cy="451.01" r="0.8" fill="#555" fill-opacity="0.38"/><circle cx="147.67" cy="448.08" r="0.8" fill="#555" fill-opacity="0.38"/><circle cx="121.38" cy="447.30" r="0.8" fill="#555" fill-opacity="0.38"/><circle cx="136.90" cy="452.69" r="0.8" fill="#555" fill-opacity="0.38"/><circle cx="118.99" cy="444.99" r="0.8" fill="#555" fill-opacity="0.38"/><circle cx="133.10" cy="453.13" r="0.8" fill="#555" fill-opacity="0.38"/><circle cx="125.71" cy="452.62" r="0.8" fill="#555" fill-opacity="0.38"/><circle cx="142.92" cy="448.38" r="0.8" fill="#555" fill-opacity="0.38"/><circle cx="151.45" cy="444.11" r="0.8" fill="#555" fill-opacity="0.38"/><path d="M114.75,439.73l1.1,1.1l-1.1,1.1l-1.1,-1.1z" fill="#8aa0e6" fill-opacity="0.25" stroke="#5a78d8" stroke-width="0.45" stroke-opacity="0.75"/><circle cx="143.49" cy="449.79" r="0.8" fill="#555" fill-opacity="0.38"/><circle cx="119.83" cy="445.97" r="0.8" fill="#555" fill-opacity="0.38"/><path d="M154.28,439.72l1.1,1.1l-1.1,1.1l-1.1,-1.1z" fill="#8aa0e6" fill-opacity="0.25" stroke="#5a78d8" stroke-width="0.45" stroke-opacity="0.75"/><circle cx="144.60" cy="448.69" r="0.8" fill="#555" fill-opacity="0.38"/><path d="M118.51,442.22l1.1,1.1l-1.1,1.1l-1.1,-1.1z" fill="#8aa0e6" fill-opacity="0.25" stroke="#5a78d8" stroke-width="0.45" stroke-opacity="0.75"/><circle cx="154.88" cy="445.17" r="0.8" fill="#555" fill-opacity="0.38"/><circle cx="144.98" cy="446.63" r="0.8" fill="#555" fill-opacity="0.38"/><path d="M153.51,440.49l1.1,1.1l-1.1,1.1l-1.1,-1.1z" fill="#8aa0e6" fill-opacity="0.25" stroke="#5a78d8" stroke-width="0.45" stroke-opacity="0.75"/><circle cx="129.23" cy="451.10" r="0.8" fill="#555" fill-opacity="0.38"/><path d="M115.24,440.68l1.1,1.1l-1.1,1.1l-1.1,-1.1z" fill="#8aa0e6" fill-opacity="0.25" stroke="#5a78d8" stroke-width="0.45" stroke-opacity="0.75"/><circle cx="147.18" cy="447.99" r="0.8" fill="#555" fill-opacity="0.38"/><circle cx="135.50" cy="453.41" r="0.8" fill="#555" fill-opacity="0.38"/><circle cx="122.44" cy="446.82" r="0.8" fill="#555" fill-opacity="0.38"/><path d="M113.27,439.12l1.1,1.1l-1.1,1.1l-1.1,-1.1z" fill="#8aa0e6" fill-opacity="0.25" stroke="#5a78d8" stroke-width="0.45" stroke-opacity="0.75"/><path d="M112.85,438.10l1.1,1.1l-1.1,1.1l-1.1,-1.1z" fill="#8aa0e6" fill-opacity="0.25" stroke="#5a78d8" stroke-width="0.45" stroke-opacity="0.75"/><circle cx="125.88" cy="450.54" r="0.8" fill="#555" fill-opacity="0.38"/><circle cx="117.69" cy="443.49" r="0.8" fill="#555" fill-opacity="0.38"/><circle cx="144.20" cy="448.91" r="0.8" fill="#555" fill-opacity="0.38"/><circle cx="142.32" cy="448.20" r="0.8" fill="#555" fill-opacity="0.38"/><circle cx="118.21" cy="444.48" r="0.8" fill="#555" fill-opacity="0.38"/><circle cx="144.48" cy="447.65" r="0.8" fill="#555" fill-opacity="0.38"/><circle cx="130.20" cy="452.81" r="0.8" fill="#555" fill-opacity="0.38"/><circle cx="121.87" cy="444.99" r="0.8" fill="#555" fill-opacity="0.38"/><circle cx="124.94" cy="449.23" r="0.8" fill="#555" fill-opacity="0.38"/><path d="M113.26,439.61l1.1,1.1l-1.1,1.1l-1.1,-1.1z" fill="#8aa0e6" fill-opacity="0.25" stroke="#5a78d8" stroke-width="0.45" stroke-opacity="0.75"/><circle cx="112.51" cy="443.84" r="0.8" fill="#555" fill-opacity="0.38"/><circle cx="148.94" cy="447.67" r="0.8" fill="#555" fill-opacity="0.38"/><path d="M154.07,438.92l1.1,1.1l-1.1,1.1l-1.1,-1.1z" fill="#8aa0e6" fill-opacity="0.25" stroke="#5a78d8" stroke-width="0.45" stroke-opacity="0.75"/><circle cx="121.42" cy="447.61" r="0.8" fill="#555" fill-opacity="0.38"/><circle cx="155.74" cy="445.46" r="0.8" fill="#555" fill-opacity="0.38"/><circle cx="151.71" cy="444.23" r="0.8" fill="#555" fill-opacity="0.38"/><path d="M115.55,439.25l1.1,1.1l-1.1,1.1l-1.1,-1.1z" fill="#8aa0e6" fill-opacity="0.25" stroke="#5a78d8" stroke-width="0.45" stroke-opacity="0.75"/><circle cx="131.24" cy="452.50" r="0.8" fill="#555" fill-opacity="0.38"/><circle cx="129.18" cy="450.99" r="0.8" fill="#555" fill-opacity="0.38"/><circle cx="126.62" cy="450.56" r="0.8" fill="#555" fill-opacity="0.38"/><circle cx="118.74" cy="445.19" r="0.8" fill="#555" fill-opacity="0.38"/><circle cx="130.07" cy="452.10" r="0.8" fill="#555" fill-opacity="0.38"/><circle cx="142.27" cy="449.78" r="0.8" fill="#555" fill-opacity="0.38"/><circle cx="122.51" cy="446.24" r="0.8" fill="#555" fill-opacity="0.38"/><circle cx="130.99" cy="451.88" r="0.8" fill="#555" fill-opacity="0.38"/><circle cx="118.38" cy="447.54" r="0.8" fill="#555" fill-opacity="0.38"/><circle cx="137.07" cy="453.24" r="0.8" fill="#555" fill-opacity="0.38"/><circle cx="143.90" cy="447.78" r="0.8" fill="#555" fill-opacity="0.38"/><circle cx="128.30" cy="450.53" r="0.8" fill="#555" fill-opacity="0.38"/><path d="M114.30,442.21l1.1,1.1l-1.1,1.1l-1.1,-1.1z" fill="#8aa0e6" fill-opacity="0.25" stroke="#5a78d8" stroke-width="0.45" stroke-opacity="0.75"/><circle cx="134.39" cy="454.08" r="0.8" fill="#555" fill-opacity="0.38"/><circle cx="138.59" cy="452.55" r="0.8" fill="#555" fill-opacity="0.38"/><circle cx="123.14" cy="447.48" r="0.8" fill="#555" fill-opacity="0.38"/><circle cx="112.47" cy="444.62" r="0.8" fill="#555" fill-opacity="0.38"/><circle cx="137.65" cy="451.54" r="0.8" fill="#555" fill-opacity="0.38"/><circle cx="123.54" cy="448.38" r="0.8" fill="#555" fill-opacity="0.38"/><circle cx="133.17" cy="453.66" r="0.8" fill="#555" fill-opacity="0.38"/><circle cx="139.95" cy="450.48" r="0.8" fill="#555" fill-opacity="0.38"/><circle cx="138.14" cy="452.40" r="0.8" fill="#555" fill-opacity="0.38"/><path d="M155.15,441.00l1.1,1.1l-1.1,1.1l-1.1,-1.1z" fill="#8aa0e6" fill-opacity="0.25" stroke="#5a78d8" stroke-width="0.45" stroke-opacity="0.75"/><circle cx="140.21" cy="452.20" r="0.8" fill="#555" fill-opacity="0.38"/><circle cx="130.46" cy="452.36" r="0.8" fill="#555" fill-opacity="0.38"/><circle cx="149.91" cy="444.80" r="0.8" fill="#555" fill-opacity="0.38"/><circle cx="152.24" cy="447.46" r="0.8" fill="#555" fill-opacity="0.38"/><path d="M113.15,437.36l1.1,1.1l-1.1,1.1l-1.1,-1.1z" fill="#8aa0e6" fill-opacity="0.25" stroke="#5a78d8" stroke-width="0.45" stroke-opacity="0.75"/><circle cx="117.68" cy="446.28" r="0.8" fill="#555" fill-opacity="0.38"/><circle cx="128.12" cy="450.59" r="0.8" fill="#555" fill-opacity="0.38"/><circle cx="121.99" cy="446.26" r="0.8" fill="#555" fill-opacity="0.38"/><circle cx="142.97" cy="449.48" r="0.8" fill="#555" fill-opacity="0.38"/><circle cx="136.64" cy="453.07" r="0.8" fill="#555" fill-opacity="0.38"/><circle cx="111.81" cy="446.82" r="0.9" fill="#3cb03c" fill-opacity="0.8"/><circle cx="111.08" cy="445.10" r="0.9" fill="#3cb03c" fill-opacity="0.8"/><circle cx="112.26" cy="444.23" r="0.9" fill="#3cb03c" fill-opacity="0.8"/><circle cx="157.38" cy="445.96" r="0.9" fill="#3cb03c" fill-opacity="0.8"/><circle cx="158.41" cy="444.66" r="0.9" fill="#3cb03c" fill-opacity="0.8"/><circle cx="157.83" cy="446.39" r="0.9" fill="#3cb03c" fill-opacity="0.8"/><circle cx="158.85" cy="444.23" r="0.9" fill="#3cb03c" fill-opacity="0.8"/><path d="M106.70,438.13h3.4l-1.7,2.6z" fill="#e83030" fill-opacity="0.3" stroke="#d81c1c" stroke-width="0.35" stroke-opacity="0.6"/><path d="M99.19,428.21h3.4l-1.7,2.6z" fill="#e83030" fill-opacity="0.3" stroke="#d81c1c" stroke-width="0.35" stroke-opacity="0.6"/><path d="M104.52,425.50h3.4l-1.7,2.6z" fill="#e83030" fill-opacity="0.3" stroke="#d81c1c" stroke-width="0.35" stroke-opacity="0.6"/><path d="M106.33,440.71h3.4l-1.7,2.6z" fill="#e83030" fill-opacity="0.3" stroke="#d81c1c" stroke-width="0.35" stroke-opacity="0.6"/><path d="M107.72,432.70h3.4l-1.7,2.6z" fill="#e83030" fill-opacity="0.3" stroke="#d81c1c" stroke-width="0.35" stroke-opacity="0.6"/><path d="M102.03,427.26h3.4l-1.7,2.6z" fill="#e83030" fill-opacity="0.3" stroke="#d81c1c" stroke-width="0.35" stroke-opacity="0.6"/><path d="M109.46,436.87h3.4l-1.7,2.6z" fill="#e83030" fill-opacity="0.3" stroke="#d81c1c" stroke-width="0.35" stroke-opacity="0.6"/><path d="M102.24,432.97h3.4l-1.7,2.6z" fill="#e83030" fill-opacity="0.3" stroke="#d81c1c" stroke-width="0.35" stroke-opacity="0.6"/><path d="M97.33,426.28h3.4l-1.7,2.6z" fill="#e83030" fill-opacity="0.3" stroke="#d81c1c" stroke-width="0.35" stroke-opacity="0.6"/><path d="M108.85,439.14h3.4l-1.7,2.6z" fill="#e83030" fill-opacity="0.3" stroke="#d81c1c" stroke-width="0.35" stroke-opacity="0.6"/><path d="M104.37,433.24h3.4l-1.7,2.6z" fill="#e83030" fill-opacity="0.3" stroke="#d81c1c" stroke-width="0.35" stroke-opacity="0.6"/><path d="M111.33,441.40h3.4l-1.7,2.6z" fill="#e83030" fill-opacity="0.3" stroke="#d81c1c" stroke-width="0.35" stroke-opacity="0.6"/><path d="M96.84,426.24h3.4l-1.7,2.6z" fill="#e83030" fill-opacity="0.3" stroke="#d81c1c" stroke-width="0.35" stroke-opacity="0.6"/><path d="M95.14,422.74h3.4l-1.7,2.6z" fill="#e83030" fill-opacity="0.3" stroke="#d81c1c" stroke-width="0.35" stroke-opacity="0.6"/><path d="M106.97,437.40h3.4l-1.7,2.6z" fill="#e83030" fill-opacity="0.3" stroke="#d81c1c" stroke-width="0.35" stroke-opacity="0.6"/><path d="M106.45,433.21h3.4l-1.7,2.6z" fill="#e83030" fill-opacity="0.3" stroke="#d81c1c" stroke-width="0.35" stroke-opacity="0.6"/><path d="M98.58,429.66h3.4l-1.7,2.6z" fill="#e83030" fill-opacity="0.3" stroke="#d81c1c" stroke-width="0.35" stroke-opacity="0.6"/><path d="M99.15,422.33h3.4l-1.7,2.6z" fill="#e83030" fill-opacity="0.3" stroke="#d81c1c" stroke-width="0.35" stroke-opacity="0.6"/><path d="M101.17,433.27h3.4l-1.7,2.6z" fill="#e83030" fill-opacity="0.3" stroke="#d81c1c" stroke-width="0.35" stroke-opacity="0.6"/><path d="M102.52,425.89h3.4l-1.7,2.6z" fill="#e83030" fill-opacity="0.3" stroke="#d81c1c" stroke-width="0.35" stroke-opacity="0.6"/><path d="M109.59,442.07h3.4l-1.7,2.6z" fill="#e83030" fill-opacity="0.3" stroke="#d81c1c" stroke-width="0.35" stroke-opacity="0.6"/><path d="M109.55,438.36h3.4l-1.7,2.6z" fill="#e83030" fill-opacity="0.3" stroke="#d81c1c" stroke-width="0.35" stroke-opacity="0.6"/><path d="M105.36,428.39h3.4l-1.7,2.6z" fill="#e83030" fill-opacity="0.3" stroke="#d81c1c" stroke-width="0.35" stroke-opacity="0.6"/><path d="M110.29,436.77h3.4l-1.7,2.6z" fill="#e83030" fill-opacity="0.3" stroke="#d81c1c" stroke-width="0.35" stroke-opacity="0.6"/><path d="M99.04,433.42h3.4l-1.7,2.6z" fill="#e83030" fill-opacity="0.3" stroke="#d81c1c" stroke-width="0.35" stroke-opacity="0.6"/><path d="M92.96,420.89h3.4l-1.7,2.6z" fill="#e83030" fill-opacity="0.3" stroke="#d81c1c" stroke-width="0.35" stroke-opacity="0.6"/><path d="M110.40,440.01h3.4l-1.7,2.6z" fill="#e83030" fill-opacity="0.3" stroke="#d81c1c" stroke-width="0.35" stroke-opacity="0.6"/><path d="M91.78,421.10h3.4l-1.7,2.6z" fill="#e83030" fill-opacity="0.3" stroke="#d81c1c" stroke-width="0.35" stroke-opacity="0.6"/><path d="M110.38,439.42h3.4l-1.7,2.6z" fill="#e83030" fill-opacity="0.3" stroke="#d81c1c" stroke-width="0.35" stroke-opacity="0.6"/><path d="M106.22,439.86h3.4l-1.7,2.6z" fill="#e83030" fill-opacity="0.3" stroke="#d81c1c" stroke-width="0.35" stroke-opacity="0.6"/><path d="M95.42,426.70h3.4l-1.7,2.6z" fill="#e83030" fill-opacity="0.3" stroke="#d81c1c" stroke-width="0.35" stroke-opacity="0.6"/><path d="M101.93,422.82h3.4l-1.7,2.6z" fill="#e83030" fill-opacity="0.3" stroke="#d81c1c" stroke-width="0.35" stroke-opacity="0.6"/><path d="M106.18,432.13h3.4l-1.7,2.6z" fill="#e83030" fill-opacity="0.3" stroke="#d81c1c" stroke-width="0.35" stroke-opacity="0.6"/><path d="M97.22,426.56h3.4l-1.7,2.6z" fill="#e83030" fill-opacity="0.3" stroke="#d81c1c" stroke-width="0.35" stroke-opacity="0.6"/><path d="M110.77,438.76h3.4l-1.7,2.6z" fill="#e83030" fill-opacity="0.3" stroke="#d81c1c" stroke-width="0.35" stroke-opacity="0.6"/><path d="M110.82,439.88h3.4l-1.7,2.6z" fill="#e83030" fill-opacity="0.3" stroke="#d81c1c" stroke-width="0.35" stroke-opacity="0.6"/><path d="M103.90,434.22h3.4l-1.7,2.6z" fill="#e83030" fill-opacity="0.3" stroke="#d81c1c" stroke-width="0.35" stroke-opacity="0.6"/><path d="M108.98,440.24h3.4l-1.7,2.6z" fill="#e83030" fill-opacity="0.3" stroke="#d81c1c" stroke-width="0.35" stroke-opacity="0.6"/><path d="M107.13,436.49h3.4l-1.7,2.6z" fill="#e83030" fill-opacity="0.3" stroke="#d81c1c" stroke-width="0.35" stroke-opacity="0.6"/><path d="M111.38,438.56h3.4l-1.7,2.6z" fill="#e83030" fill-opacity="0.3" stroke="#d81c1c" stroke-width="0.35" stroke-opacity="0.6"/><path d="M106.08,439.59h3.4l-1.7,2.6z" fill="#e83030" fill-opacity="0.3" stroke="#d81c1c" stroke-width="0.35" stroke-opacity="0.6"/><path d="M110.82,436.17h3.4l-1.7,2.6z" fill="#e83030" fill-opacity="0.3" stroke="#d81c1c" stroke-width="0.35" stroke-opacity="0.6"/><path d="M106.62,432.25h3.4l-1.7,2.6z" fill="#e83030" fill-opacity="0.3" stroke="#d81c1c" stroke-width="0.35" stroke-opacity="0.6"/><path d="M109.84,438.82h3.4l-1.7,2.6z" fill="#e83030" fill-opacity="0.3" stroke="#d81c1c" stroke-width="0.35" stroke-opacity="0.6"/><path d="M100.99,436.03h3.4l-1.7,2.6z" fill="#e83030" fill-opacity="0.3" stroke="#d81c1c" stroke-width="0.35" stroke-opacity="0.6"/><path d="M96.22,423.32h3.4l-1.7,2.6z" fill="#e83030" fill-opacity="0.3" stroke="#d81c1c" stroke-width="0.35" stroke-opacity="0.6"/><path d="M95.70,422.72h3.4l-1.7,2.6z" fill="#e83030" fill-opacity="0.3" stroke="#d81c1c" stroke-width="0.35" stroke-opacity="0.6"/><path d="M111.39,441.35h3.4l-1.7,2.6z" fill="#e83030" fill-opacity="0.3" stroke="#d81c1c" stroke-width="0.35" stroke-opacity="0.6"/><path d="M107.31,433.54h3.4l-1.7,2.6z" fill="#e83030" fill-opacity="0.3" stroke="#d81c1c" stroke-width="0.35" stroke-opacity="0.6"/><path d="M104.88,432.67h3.4l-1.7,2.6z" fill="#e83030" fill-opacity="0.3" stroke="#d81c1c" stroke-width="0.35" stroke-opacity="0.6"/><path d="M93.54,420.79h3.4l-1.7,2.6z" fill="#e83030" fill-opacity="0.3" stroke="#d81c1c" stroke-width="0.35" stroke-opacity="0.6"/><path d="M97.00,420.90h3.4l-1.7,2.6z" fill="#e83030" fill-opacity="0.3" stroke="#d81c1c" stroke-width="0.35" stroke-opacity="0.6"/><path d="M107.24,430.39h3.4l-1.7,2.6z" fill="#e83030" fill-opacity="0.3" stroke="#d81c1c" stroke-width="0.35" stroke-opacity="0.6"/><path d="M98.23,426.07h3.4l-1.7,2.6z" fill="#e83030" fill-opacity="0.3" stroke="#d81c1c" stroke-width="0.35" stroke-opacity="0.6"/><path d="M90.81,423.19h3.4l-1.7,2.6z" fill="#e83030" fill-opacity="0.3" stroke="#d81c1c" stroke-width="0.35" stroke-opacity="0.6"/><path d="M109.39,437.36h3.4l-1.7,2.6z" fill="#e83030" fill-opacity="0.3" stroke="#d81c1c" stroke-width="0.35" stroke-opacity="0.6"/><path d="M102.77,433.65h3.4l-1.7,2.6z" fill="#e83030" fill-opacity="0.3" stroke="#d81c1c" stroke-width="0.35" stroke-opacity="0.6"/><path d="M105.88,431.63h3.4l-1.7,2.6z" fill="#e83030" fill-opacity="0.3" stroke="#d81c1c" stroke-width="0.35" stroke-opacity="0.6"/><path d="M106.45,433.82h3.4l-1.7,2.6z" fill="#e83030" fill-opacity="0.3" stroke="#d81c1c" stroke-width="0.35" stroke-opacity="0.6"/><path d="M109.58,435.92h3.4l-1.7,2.6z" fill="#e83030" fill-opacity="0.3" stroke="#d81c1c" stroke-width="0.35" stroke-opacity="0.6"/><path d="M110.19,441.88h3.4l-1.7,2.6z" fill="#e83030" fill-opacity="0.3" stroke="#d81c1c" stroke-width="0.35" stroke-opacity="0.6"/><path d="M96.61,425.72h3.4l-1.7,2.6z" fill="#e83030" fill-opacity="0.3" stroke="#d81c1c" stroke-width="0.35" stroke-opacity="0.6"/><path d="M110.76,439.62h3.4l-1.7,2.6z" fill="#e83030" fill-opacity="0.3" stroke="#d81c1c" stroke-width="0.35" stroke-opacity="0.6"/><path d="M107.30,436.10h3.4l-1.7,2.6z" fill="#e83030" fill-opacity="0.3" stroke="#d81c1c" stroke-width="0.35" stroke-opacity="0.6"/><path d="M103.45,434.12h3.4l-1.7,2.6z" fill="#e83030" fill-opacity="0.3" stroke="#d81c1c" stroke-width="0.35" stroke-opacity="0.6"/><path d="M104.31,431.51h3.4l-1.7,2.6z" fill="#e83030" fill-opacity="0.3" stroke="#d81c1c" stroke-width="0.35" stroke-opacity="0.6"/><path d="M93.58,426.88h3.4l-1.7,2.6z" fill="#e83030" fill-opacity="0.3" stroke="#d81c1c" stroke-width="0.35" stroke-opacity="0.6"/><path d="M110.06,439.33h3.4l-1.7,2.6z" fill="#e83030" fill-opacity="0.3" stroke="#d81c1c" stroke-width="0.35" stroke-opacity="0.6"/><path d="M108.06,440.36h3.4l-1.7,2.6z" fill="#e83030" fill-opacity="0.3" stroke="#d81c1c" stroke-width="0.35" stroke-opacity="0.6"/><path d="M109.96,440.40h3.4l-1.7,2.6z" fill="#e83030" fill-opacity="0.3" stroke="#d81c1c" stroke-width="0.35" stroke-opacity="0.6"/><path d="M108.42,438.69h3.4l-1.7,2.6z" fill="#e83030" fill-opacity="0.3" stroke="#d81c1c" stroke-width="0.35" stroke-opacity="0.6"/><path d="M92.15,422.59h3.4l-1.7,2.6z" fill="#e83030" fill-opacity="0.3" stroke="#d81c1c" stroke-width="0.35" stroke-opacity="0.6"/><path d="M106.40,434.01h3.4l-1.7,2.6z" fill="#e83030" fill-opacity="0.3" stroke="#d81c1c" stroke-width="0.35" stroke-opacity="0.6"/><path d="M103.44,426.82h3.4l-1.7,2.6z" fill="#e83030" fill-opacity="0.3" stroke="#d81c1c" stroke-width="0.35" stroke-opacity="0.6"/><path d="M99.78,429.73h3.4l-1.7,2.6z" fill="#e83030" fill-opacity="0.3" stroke="#d81c1c" stroke-width="0.35" stroke-opacity="0.6"/><path d="M110.82,436.10h3.4l-1.7,2.6z" fill="#e83030" fill-opacity="0.3" stroke="#d81c1c" stroke-width="0.35" stroke-opacity="0.6"/><path d="M99.37,430.14h3.4l-1.7,2.6z" fill="#e83030" fill-opacity="0.3" stroke="#d81c1c" stroke-width="0.35" stroke-opacity="0.6"/><path d="M108.22,435.98h3.4l-1.7,2.6z" fill="#e83030" fill-opacity="0.3" stroke="#d81c1c" stroke-width="0.35" stroke-opacity="0.6"/><path d="M105.69,433.27h3.4l-1.7,2.6z" fill="#e83030" fill-opacity="0.3" stroke="#d81c1c" stroke-width="0.35" stroke-opacity="0.6"/><path d="M104.19,432.09h3.4l-1.7,2.6z" fill="#e83030" fill-opacity="0.3" stroke="#d81c1c" stroke-width="0.35" stroke-opacity="0.6"/><path d="M93.70,423.80h3.4l-1.7,2.6z" fill="#e83030" fill-opacity="0.3" stroke="#d81c1c" stroke-width="0.35" stroke-opacity="0.6"/><path d="M90.95,417.28h3.4l-1.7,2.6z" fill="#e83030" fill-opacity="0.3" stroke="#d81c1c" stroke-width="0.35" stroke-opacity="0.6"/><path d="M99.73,426.84h3.4l-1.7,2.6z" fill="#e83030" fill-opacity="0.3" stroke="#d81c1c" stroke-width="0.35" stroke-opacity="0.6"/><path d="M97.38,428.98h3.4l-1.7,2.6z" fill="#e83030" fill-opacity="0.3" stroke="#d81c1c" stroke-width="0.35" stroke-opacity="0.6"/><path d="M104.80,438.03h3.4l-1.7,2.6z" fill="#e83030" fill-opacity="0.3" stroke="#d81c1c" stroke-width="0.35" stroke-opacity="0.6"/><path d="M102.90,427.45h3.4l-1.7,2.6z" fill="#e83030" fill-opacity="0.3" stroke="#d81c1c" stroke-width="0.35" stroke-opacity="0.6"/><path d="M93.03,424.74h3.4l-1.7,2.6z" fill="#e83030" fill-opacity="0.3" stroke="#d81c1c" stroke-width="0.35" stroke-opacity="0.6"/><path d="M111.12,436.97h3.4l-1.7,2.6z" fill="#e83030" fill-opacity="0.3" stroke="#d81c1c" stroke-width="0.35" stroke-opacity="0.6"/><path d="M95.14,425.99h3.4l-1.7,2.6z" fill="#e83030" fill-opacity="0.3" stroke="#d81c1c" stroke-width="0.35" stroke-opacity="0.6"/><path d="M95.21,425.38h3.4l-1.7,2.6z" fill="#e83030" fill-opacity="0.3" stroke="#d81c1c" stroke-width="0.35" stroke-opacity="0.6"/><path d="M102.32,430.93h3.4l-1.7,2.6z" fill="#e83030" fill-opacity="0.3" stroke="#d81c1c" stroke-width="0.35" stroke-opacity="0.6"/><path d="M96.24,425.75h3.4l-1.7,2.6z" fill="#e83030" fill-opacity="0.3" stroke="#d81c1c" stroke-width="0.35" stroke-opacity="0.6"/><path d="M98.04,421.75h3.4l-1.7,2.6z" fill="#e83030" fill-opacity="0.3" stroke="#d81c1c" stroke-width="0.35" stroke-opacity="0.6"/><path d="M105.03,429.16h3.4l-1.7,2.6z" fill="#e83030" fill-opacity="0.3" stroke="#d81c1c" stroke-width="0.35" stroke-opacity="0.6"/><path d="M110.19,439.95h3.4l-1.7,2.6z" fill="#e83030" fill-opacity="0.3" stroke="#d81c1c" stroke-width="0.35" stroke-opacity="0.6"/><path d="M110.29,440.63h3.4l-1.7,2.6z" fill="#e83030" fill-opacity="0.3" stroke="#d81c1c" stroke-width="0.35" stroke-opacity="0.6"/><path d="M111.45,441.80h3.4l-1.7,2.6z" fill="#e83030" fill-opacity="0.3" stroke="#d81c1c" stroke-width="0.35" stroke-opacity="0.6"/><path d="M93.45,420.11h3.4l-1.7,2.6z" fill="#e83030" fill-opacity="0.3" stroke="#d81c1c" stroke-width="0.35" stroke-opacity="0.6"/><path d="M110.56,439.76h3.4l-1.7,2.6z" fill="#e83030" fill-opacity="0.3" stroke="#d81c1c" stroke-width="0.35" stroke-opacity="0.6"/><path d="M94.45,421.36h3.4l-1.7,2.6z" fill="#e83030" fill-opacity="0.3" stroke="#d81c1c" stroke-width="0.35" stroke-opacity="0.6"/><path d="M100.13,429.02h3.4l-1.7,2.6z" fill="#e83030" fill-opacity="0.3" stroke="#d81c1c" stroke-width="0.35" stroke-opacity="0.6"/><path d="M106.97,439.50h3.4l-1.7,2.6z" fill="#e83030" fill-opacity="0.3" stroke="#d81c1c" stroke-width="0.35" stroke-opacity="0.6"/><path d="M107.24,434.80h3.4l-1.7,2.6z" fill="#e83030" fill-opacity="0.3" stroke="#d81c1c" stroke-width="0.35" stroke-opacity="0.6"/><path d="M111.47,441.57h3.4l-1.7,2.6z" fill="#e83030" fill-opacity="0.3" stroke="#d81c1c" stroke-width="0.35" stroke-opacity="0.6"/><path d="M105.52,434.55h3.4l-1.7,2.6z" fill="#e83030" fill-opacity="0.3" stroke="#d81c1c" stroke-width="0.35" stroke-opacity="0.6"/><path d="M91.76,419.57h3.4l-1.7,2.6z" fill="#e83030" fill-opacity="0.3" stroke="#d81c1c" stroke-width="0.35" stroke-opacity="0.6"/><path d="M110.40,438.35h3.4l-1.7,2.6z" fill="#e83030" fill-opacity="0.3" stroke="#d81c1c" stroke-width="0.35" stroke-opacity="0.6"/><path d="M106.80,438.23h3.4l-1.7,2.6z" fill="#e83030" fill-opacity="0.3" stroke="#d81c1c" stroke-width="0.35" stroke-opacity="0.6"/><path d="M109.77,437.12h3.4l-1.7,2.6z" fill="#e83030" fill-opacity="0.3" stroke="#d81c1c" stroke-width="0.35" stroke-opacity="0.6"/><path d="M95.09,426.26h3.4l-1.7,2.6z" fill="#e83030" fill-opacity="0.3" stroke="#d81c1c" stroke-width="0.35" stroke-opacity="0.6"/><path d="M105.26,431.87h3.4l-1.7,2.6z" fill="#e83030" fill-opacity="0.3" stroke="#d81c1c" stroke-width="0.35" stroke-opacity="0.6"/><path d="M99.55,431.31h3.4l-1.7,2.6z" fill="#e83030" fill-opacity="0.3" stroke="#d81c1c" stroke-width="0.35" stroke-opacity="0.6"/><path d="M109.29,435.57h3.4l-1.7,2.6z" fill="#e83030" fill-opacity="0.3" stroke="#d81c1c" stroke-width="0.35" stroke-opacity="0.6"/><path d="M94.63,421.15h3.4l-1.7,2.6z" fill="#e83030" fill-opacity="0.3" stroke="#d81c1c" stroke-width="0.35" stroke-opacity="0.6"/><path d="M91.35,424.14h3.4l-1.7,2.6z" fill="#e83030" fill-opacity="0.3" stroke="#d81c1c" stroke-width="0.35" stroke-opacity="0.6"/><path d="M101.59,430.81h3.4l-1.7,2.6z" fill="#e83030" fill-opacity="0.3" stroke="#d81c1c" stroke-width="0.35" stroke-opacity="0.6"/><path d="M105.85,437.35h3.4l-1.7,2.6z" fill="#e83030" fill-opacity="0.3" stroke="#d81c1c" stroke-width="0.35" stroke-opacity="0.6"/><path d="M91.72,424.58h3.4l-1.7,2.6z" fill="#e83030" fill-opacity="0.3" stroke="#d81c1c" stroke-width="0.35" stroke-opacity="0.6"/><path d="M100.27,431.41h3.4l-1.7,2.6z" fill="#e83030" fill-opacity="0.3" stroke="#d81c1c" stroke-width="0.35" stroke-opacity="0.6"/><path d="M110.87,438.08h3.4l-1.7,2.6z" fill="#e83030" fill-opacity="0.3" stroke="#d81c1c" stroke-width="0.35" stroke-opacity="0.6"/><path d="M160.05,431.82h3.4l-1.7,2.6z" fill="#e83030" fill-opacity="0.3" stroke="#d81c1c" stroke-width="0.35" stroke-opacity="0.6"/><path d="M163.96,431.61h3.4l-1.7,2.6z" fill="#e83030" fill-opacity="0.3" stroke="#d81c1c" stroke-width="0.35" stroke-opacity="0.6"/><path d="M174.74,425.65h3.4l-1.7,2.6z" fill="#e83030" fill-opacity="0.3" stroke="#d81c1c" stroke-width="0.35" stroke-opacity="0.6"/><path d="M159.34,432.10h3.4l-1.7,2.6z" fill="#e83030" fill-opacity="0.3" stroke="#d81c1c" stroke-width="0.35" stroke-opacity="0.6"/><path d="M161.43,432.56h3.4l-1.7,2.6z" fill="#e83030" fill-opacity="0.3" stroke="#d81c1c" stroke-width="0.35" stroke-opacity="0.6"/><path d="M155.84,437.10h3.4l-1.7,2.6z" fill="#e83030" fill-opacity="0.3" stroke="#d81c1c" stroke-width="0.35" stroke-opacity="0.6"/><path d="M160.76,437.95h3.4l-1.7,2.6z" fill="#e83030" fill-opacity="0.3" stroke="#d81c1c" stroke-width="0.35" stroke-opacity="0.6"/><path d="M168.11,430.31h3.4l-1.7,2.6z" fill="#e83030" fill-opacity="0.3" stroke="#d81c1c" stroke-width="0.35" stroke-opacity="0.6"/><path d="M175.44,424.52h3.4l-1.7,2.6z" fill="#e83030" fill-opacity="0.3" stroke="#d81c1c" stroke-width="0.35" stroke-opacity="0.6"/><path d="M164.81,422.03h3.4l-1.7,2.6z" fill="#e83030" fill-opacity="0.3" stroke="#d81c1c" stroke-width="0.35" stroke-opacity="0.6"/><path d="M156.28,439.74h3.4l-1.7,2.6z" fill="#e83030" fill-opacity="0.3" stroke="#d81c1c" stroke-width="0.35" stroke-opacity="0.6"/><path d="M157.97,437.83h3.4l-1.7,2.6z" fill="#e83030" fill-opacity="0.3" stroke="#d81c1c" stroke-width="0.35" stroke-opacity="0.6"/><path d="M160.31,438.02h3.4l-1.7,2.6z" fill="#e83030" fill-opacity="0.3" stroke="#d81c1c" stroke-width="0.35" stroke-opacity="0.6"/><path d="M169.37,429.25h3.4l-1.7,2.6z" fill="#e83030" fill-opacity="0.3" stroke="#d81c1c" stroke-width="0.35" stroke-opacity="0.6"/><path d="M164.63,427.68h3.4l-1.7,2.6z" fill="#e83030" fill-opacity="0.3" stroke="#d81c1c" stroke-width="0.35" stroke-opacity="0.6"/><path d="M158.36,433.65h3.4l-1.7,2.6z" fill="#e83030" fill-opacity="0.3" stroke="#d81c1c" stroke-width="0.35" stroke-opacity="0.6"/><path d="M170.78,429.60h3.4l-1.7,2.6z" fill="#e83030" fill-opacity="0.3" stroke="#d81c1c" stroke-width="0.35" stroke-opacity="0.6"/><path d="M157.35,434.46h3.4l-1.7,2.6z" fill="#e83030" fill-opacity="0.3" stroke="#d81c1c" stroke-width="0.35" stroke-opacity="0.6"/><path d="M174.85,424.74h3.4l-1.7,2.6z" fill="#e83030" fill-opacity="0.3" stroke="#d81c1c" stroke-width="0.35" stroke-opacity="0.6"/><path d="M162.55,432.80h3.4l-1.7,2.6z" fill="#e83030" fill-opacity="0.3" stroke="#d81c1c" stroke-width="0.35" stroke-opacity="0.6"/><path d="M169.76,430.20h3.4l-1.7,2.6z" fill="#e83030" fill-opacity="0.3" stroke="#d81c1c" stroke-width="0.35" stroke-opacity="0.6"/><path d="M155.56,438.21h3.4l-1.7,2.6z" fill="#e83030" fill-opacity="0.3" stroke="#d81c1c" stroke-width="0.35" stroke-opacity="0.6"/><path d="M156.47,438.84h3.4l-1.7,2.6z" fill="#e83030" fill-opacity="0.3" stroke="#d81c1c" stroke-width="0.35" stroke-opacity="0.6"/><path d="M157.19,438.08h3.4l-1.7,2.6z" fill="#e83030" fill-opacity="0.3" stroke="#d81c1c" stroke-width="0.35" stroke-opacity="0.6"/><path d="M155.68,438.95h3.4l-1.7,2.6z" fill="#e83030" fill-opacity="0.3" stroke="#d81c1c" stroke-width="0.35" stroke-opacity="0.6"/><path d="M161.70,433.52h3.4l-1.7,2.6z" fill="#e83030" fill-opacity="0.3" stroke="#d81c1c" stroke-width="0.35" stroke-opacity="0.6"/><path d="M173.98,431.34h3.4l-1.7,2.6z" fill="#e83030" fill-opacity="0.3" stroke="#d81c1c" stroke-width="0.35" stroke-opacity="0.6"/><path d="M161.48,435.27h3.4l-1.7,2.6z" fill="#e83030" fill-opacity="0.3" stroke="#d81c1c" stroke-width="0.35" stroke-opacity="0.6"/><path d="M173.86,424.66h3.4l-1.7,2.6z" fill="#e83030" fill-opacity="0.3" stroke="#d81c1c" stroke-width="0.35" stroke-opacity="0.6"/><path d="M156.77,440.83h3.4l-1.7,2.6z" fill="#e83030" fill-opacity="0.3" stroke="#d81c1c" stroke-width="0.35" stroke-opacity="0.6"/><path d="M168.69,431.85h3.4l-1.7,2.6z" fill="#e83030" fill-opacity="0.3" stroke="#d81c1c" stroke-width="0.35" stroke-opacity="0.6"/><path d="M156.33,440.66h3.4l-1.7,2.6z" fill="#e83030" fill-opacity="0.3" stroke="#d81c1c" stroke-width="0.35" stroke-opacity="0.6"/><path d="M174.80,418.37h3.4l-1.7,2.6z" fill="#e83030" fill-opacity="0.3" stroke="#d81c1c" stroke-width="0.35" stroke-opacity="0.6"/><path d="M155.69,439.73h3.4l-1.7,2.6z" fill="#e83030" fill-opacity="0.3" stroke="#d81c1c" stroke-width="0.35" stroke-opacity="0.6"/><path d="M156.97,437.73h3.4l-1.7,2.6z" fill="#e83030" fill-opacity="0.3" stroke="#d81c1c" stroke-width="0.35" stroke-opacity="0.6"/><path d="M160.60,429.50h3.4l-1.7,2.6z" fill="#e83030" fill-opacity="0.3" stroke="#d81c1c" stroke-width="0.35" stroke-opacity="0.6"/><path d="M174.25,421.64h3.4l-1.7,2.6z" fill="#e83030" fill-opacity="0.3" stroke="#d81c1c" stroke-width="0.35" stroke-opacity="0.6"/><path d="M173.23,425.49h3.4l-1.7,2.6z" fill="#e83030" fill-opacity="0.3" stroke="#d81c1c" stroke-width="0.35" stroke-opacity="0.6"/><path d="M168.61,431.01h3.4l-1.7,2.6z" fill="#e83030" fill-opacity="0.3" stroke="#d81c1c" stroke-width="0.35" stroke-opacity="0.6"/><path d="M159.61,435.38h3.4l-1.7,2.6z" fill="#e83030" fill-opacity="0.3" stroke="#d81c1c" stroke-width="0.35" stroke-opacity="0.6"/><path d="M160.39,435.26h3.4l-1.7,2.6z" fill="#e83030" fill-opacity="0.3" stroke="#d81c1c" stroke-width="0.35" stroke-opacity="0.6"/><path d="M173.07,427.24h3.4l-1.7,2.6z" fill="#e83030" fill-opacity="0.3" stroke="#d81c1c" stroke-width="0.35" stroke-opacity="0.6"/><path d="M162.71,433.92h3.4l-1.7,2.6z" fill="#e83030" fill-opacity="0.3" stroke="#d81c1c" stroke-width="0.35" stroke-opacity="0.6"/><path d="M156.03,440.57h3.4l-1.7,2.6z" fill="#e83030" fill-opacity="0.3" stroke="#d81c1c" stroke-width="0.35" stroke-opacity="0.6"/><path d="M157.31,434.81h3.4l-1.7,2.6z" fill="#e83030" fill-opacity="0.3" stroke="#d81c1c" stroke-width="0.35" stroke-opacity="0.6"/><path d="M155.31,441.11h3.4l-1.7,2.6z" fill="#e83030" fill-opacity="0.3" stroke="#d81c1c" stroke-width="0.35" stroke-opacity="0.6"/><path d="M174.98,425.11h3.4l-1.7,2.6z" fill="#e83030" fill-opacity="0.3" stroke="#d81c1c" stroke-width="0.35" stroke-opacity="0.6"/><path d="M159.02,439.38h3.4l-1.7,2.6z" fill="#e83030" fill-opacity="0.3" stroke="#d81c1c" stroke-width="0.35" stroke-opacity="0.6"/><path d="M163.90,434.77h3.4l-1.7,2.6z" fill="#e83030" fill-opacity="0.3" stroke="#d81c1c" stroke-width="0.35" stroke-opacity="0.6"/><path d="M162.66,432.59h3.4l-1.7,2.6z" fill="#e83030" fill-opacity="0.3" stroke="#d81c1c" stroke-width="0.35" stroke-opacity="0.6"/><path d="M155.88,441.05h3.4l-1.7,2.6z" fill="#e83030" fill-opacity="0.3" stroke="#d81c1c" stroke-width="0.35" stroke-opacity="0.6"/><path d="M168.29,429.42h3.4l-1.7,2.6z" fill="#e83030" fill-opacity="0.3" stroke="#d81c1c" stroke-width="0.35" stroke-opacity="0.6"/><path d="M159.78,439.30h3.4l-1.7,2.6z" fill="#e83030" fill-opacity="0.3" stroke="#d81c1c" stroke-width="0.35" stroke-opacity="0.6"/><path d="M158.09,438.54h3.4l-1.7,2.6z" fill="#e83030" fill-opacity="0.3" stroke="#d81c1c" stroke-width="0.35" stroke-opacity="0.6"/><path d="M157.90,440.98h3.4l-1.7,2.6z" fill="#e83030" fill-opacity="0.3" stroke="#d81c1c" stroke-width="0.35" stroke-opacity="0.6"/><path d="M169.93,426.59h3.4l-1.7,2.6z" fill="#e83030" fill-opacity="0.3" stroke="#d81c1c" stroke-width="0.35" stroke-opacity="0.6"/><path d="M171.01,429.00h3.4l-1.7,2.6z" fill="#e83030" fill-opacity="0.3" stroke="#d81c1c" stroke-width="0.35" stroke-opacity="0.6"/><path d="M165.05,431.11h3.4l-1.7,2.6z" fill="#e83030" fill-opacity="0.3" stroke="#d81c1c" stroke-width="0.35" stroke-opacity="0.6"/><path d="M157.37,437.53h3.4l-1.7,2.6z" fill="#e83030" fill-opacity="0.3" stroke="#d81c1c" stroke-width="0.35" stroke-opacity="0.6"/><path d="M166.17,432.32h3.4l-1.7,2.6z" fill="#e83030" fill-opacity="0.3" stroke="#d81c1c" stroke-width="0.35" stroke-opacity="0.6"/><path d="M159.03,428.47h3.4l-1.7,2.6z" fill="#e83030" fill-opacity="0.3" stroke="#d81c1c" stroke-width="0.35" stroke-opacity="0.6"/><path d="M176.34,425.83h3.4l-1.7,2.6z" fill="#e83030" fill-opacity="0.3" stroke="#d81c1c" stroke-width="0.35" stroke-opacity="0.6"/><path d="M160.97,432.30h3.4l-1.7,2.6z" fill="#e83030" fill-opacity="0.3" stroke="#d81c1c" stroke-width="0.35" stroke-opacity="0.6"/><path d="M160.56,435.21h3.4l-1.7,2.6z" fill="#e83030" fill-opacity="0.3" stroke="#d81c1c" stroke-width="0.35" stroke-opacity="0.6"/><path d="M158.63,435.71h3.4l-1.7,2.6z" fill="#e83030" fill-opacity="0.3" stroke="#d81c1c" stroke-width="0.35" stroke-opacity="0.6"/><path d="M156.96,435.51h3.4l-1.7,2.6z" fill="#e83030" fill-opacity="0.3" stroke="#d81c1c" stroke-width="0.35" stroke-opacity="0.6"/><path d="M163.87,433.68h3.4l-1.7,2.6z" fill="#e83030" fill-opacity="0.3" stroke="#d81c1c" stroke-width="0.35" stroke-opacity="0.6"/><path d="M159.98,435.89h3.4l-1.7,2.6z" fill="#e83030" fill-opacity="0.3" stroke="#d81c1c" stroke-width="0.35" stroke-opacity="0.6"/><path d="M174.97,426.23h3.4l-1.7,2.6z" fill="#e83030" fill-opacity="0.3" stroke="#d81c1c" stroke-width="0.35" stroke-opacity="0.6"/><path d="M163.46,431.93h3.4l-1.7,2.6z" fill="#e83030" fill-opacity="0.3" stroke="#d81c1c" stroke-width="0.35" stroke-opacity="0.6"/><path d="M172.69,425.10h3.4l-1.7,2.6z" fill="#e83030" fill-opacity="0.3" stroke="#d81c1c" stroke-width="0.35" stroke-opacity="0.6"/><path d="M159.49,437.69h3.4l-1.7,2.6z" fill="#e83030" fill-opacity="0.3" stroke="#d81c1c" stroke-width="0.35" stroke-opacity="0.6"/><path d="M173.05,423.60h3.4l-1.7,2.6z" fill="#e83030" fill-opacity="0.3" stroke="#d81c1c" stroke-width="0.35" stroke-opacity="0.6"/><path d="M160.00,434.49h3.4l-1.7,2.6z" fill="#e83030" fill-opacity="0.3" stroke="#d81c1c" stroke-width="0.35" stroke-opacity="0.6"/><path d="M169.56,431.44h3.4l-1.7,2.6z" fill="#e83030" fill-opacity="0.3" stroke="#d81c1c" stroke-width="0.35" stroke-opacity="0.6"/><path d="M156.54,439.39h3.4l-1.7,2.6z" fill="#e83030" fill-opacity="0.3" stroke="#d81c1c" stroke-width="0.35" stroke-opacity="0.6"/><path d="M157.97,434.57h3.4l-1.7,2.6z" fill="#e83030" fill-opacity="0.3" stroke="#d81c1c" stroke-width="0.35" stroke-opacity="0.6"/><path d="M157.85,433.44h3.4l-1.7,2.6z" fill="#e83030" fill-opacity="0.3" stroke="#d81c1c" stroke-width="0.35" stroke-opacity="0.6"/><path d="M158.15,434.66h3.4l-1.7,2.6z" fill="#e83030" fill-opacity="0.3" stroke="#d81c1c" stroke-width="0.35" stroke-opacity="0.6"/><path d="M175.91,425.44h3.4l-1.7,2.6z" fill="#e83030" fill-opacity="0.3" stroke="#d81c1c" stroke-width="0.35" stroke-opacity="0.6"/><path d="M157.22,441.98h3.4l-1.7,2.6z" fill="#e83030" fill-opacity="0.3" stroke="#d81c1c" stroke-width="0.35" stroke-opacity="0.6"/><path d="M164.07,433.22h3.4l-1.7,2.6z" fill="#e83030" fill-opacity="0.3" stroke="#d81c1c" stroke-width="0.35" stroke-opacity="0.6"/><path d="M169.99,429.20h3.4l-1.7,2.6z" fill="#e83030" fill-opacity="0.3" stroke="#d81c1c" stroke-width="0.35" stroke-opacity="0.6"/><path d="M159.66,432.72h3.4l-1.7,2.6z" fill="#e83030" fill-opacity="0.3" stroke="#d81c1c" stroke-width="0.35" stroke-opacity="0.6"/><path d="M177.72,420.49h3.4l-1.7,2.6z" fill="#e83030" fill-opacity="0.3" stroke="#d81c1c" stroke-width="0.35" stroke-opacity="0.6"/><path d="M162.21,438.33h3.4l-1.7,2.6z" fill="#e83030" fill-opacity="0.3" stroke="#d81c1c" stroke-width="0.35" stroke-opacity="0.6"/><path d="M155.35,440.90h3.4l-1.7,2.6z" fill="#e83030" fill-opacity="0.3" stroke="#d81c1c" stroke-width="0.35" stroke-opacity="0.6"/><path d="M162.89,431.67h3.4l-1.7,2.6z" fill="#e83030" fill-opacity="0.3" stroke="#d81c1c" stroke-width="0.35" stroke-opacity="0.6"/><path d="M158.33,437.23h3.4l-1.7,2.6z" fill="#e83030" fill-opacity="0.3" stroke="#d81c1c" stroke-width="0.35" stroke-opacity="0.6"/><path d="M172.46,429.45h3.4l-1.7,2.6z" fill="#e83030" fill-opacity="0.3" stroke="#d81c1c" stroke-width="0.35" stroke-opacity="0.6"/><path d="M157.62,441.00h3.4l-1.7,2.6z" fill="#e83030" fill-opacity="0.3" stroke="#d81c1c" stroke-width="0.35" stroke-opacity="0.6"/><path d="M166.47,434.58h3.4l-1.7,2.6z" fill="#e83030" fill-opacity="0.3" stroke="#d81c1c" stroke-width="0.35" stroke-opacity="0.6"/><path d="M166.47,428.63h3.4l-1.7,2.6z" fill="#e83030" fill-opacity="0.3" stroke="#d81c1c" stroke-width="0.35" stroke-opacity="0.6"/><path d="M165.25,434.55h3.4l-1.7,2.6z" fill="#e83030" fill-opacity="0.3" stroke="#d81c1c" stroke-width="0.35" stroke-opacity="0.6"/><path d="M167.44,434.00h3.4l-1.7,2.6z" fill="#e83030" fill-opacity="0.3" stroke="#d81c1c" stroke-width="0.35" stroke-opacity="0.6"/><path d="M168.21,430.79h3.4l-1.7,2.6z" fill="#e83030" fill-opacity="0.3" stroke="#d81c1c" stroke-width="0.35" stroke-opacity="0.6"/><path d="M155.74,438.82h3.4l-1.7,2.6z" fill="#e83030" fill-opacity="0.3" stroke="#d81c1c" stroke-width="0.35" stroke-opacity="0.6"/><path d="M158.56,439.76h3.4l-1.7,2.6z" fill="#e83030" fill-opacity="0.3" stroke="#d81c1c" stroke-width="0.35" stroke-opacity="0.6"/><path d="M157.70,439.37h3.4l-1.7,2.6z" fill="#e83030" fill-opacity="0.3" stroke="#d81c1c" stroke-width="0.35" stroke-opacity="0.6"/><path d="M162.98,432.49h3.4l-1.7,2.6z" fill="#e83030" fill-opacity="0.3" stroke="#d81c1c" stroke-width="0.35" stroke-opacity="0.6"/><ellipse cx="66.20" cy="394.60" rx="2.6" ry="1.5" fill="#f2b8b8" fill-opacity="0.35"/><ellipse cx="66.20" cy="394.60" rx="2.0" ry="0.8" fill="#6a4a52" fill-opacity="0.9"/><ellipse cx="78.80" cy="401.80" rx="2.6" ry="1.5" fill="#f2b8b8" fill-opacity="0.35"/><ellipse cx="78.80" cy="401.80" rx="2.0" ry="0.8" fill="#6a4a52" fill-opacity="0.9"/><ellipse cx="84.60" cy="405.50" rx="2.6" ry="1.5" fill="#f2b8b8" fill-opacity="0.35"/><ellipse cx="84.60" cy="405.50" rx="2.0" ry="0.8" fill="#6a4a52" fill-opacity="0.9"/><ellipse cx="94.60" cy="413.50" rx="2.6" ry="1.5" fill="#f2b8b8" fill-opacity="0.35"/><ellipse cx="94.60" cy="413.50" rx="2.0" ry="0.8" fill="#6a4a52" fill-opacity="0.9"/><ellipse cx="95.40" cy="417.00" rx="2.6" ry="1.5" fill="#f2b8b8" fill-opacity="0.35"/><ellipse cx="95.40" cy="417.00" rx="2.0" ry="0.8" fill="#6a4a52" fill-opacity="0.9"/><ellipse cx="86.90" cy="418.60" rx="2.6" ry="1.5" fill="#f2b8b8" fill-opacity="0.35"/><ellipse cx="86.90" cy="418.60" rx="2.0" ry="0.8" fill="#6a4a52" fill-opacity="0.9"/><ellipse cx="91.20" cy="422.60" rx="2.6" ry="1.5" fill="#f2b8b8" fill-opacity="0.35"/><ellipse cx="91.20" cy="422.60" rx="2.0" ry="0.8" fill="#6a4a52" fill-opacity="0.9"/><ellipse cx="104.20" cy="420.00" rx="2.6" ry="1.5" fill="#f2b8b8" fill-opacity="0.35"/><ellipse cx="104.20" cy="420.00" rx="2.0" ry="0.8" fill="#6a4a52" fill-opacity="0.9"/><ellipse cx="101.20" cy="422.30" rx="2.6" ry="1.5" fill="#f2b8b8" fill-opacity="0.35"/><ellipse cx="101.20" cy="422.30" rx="2.0" ry="0.8" fill="#6a4a52" fill-opacity="0.9"/><ellipse cx="85.00" cy="427.70" rx="2.6" ry="1.5" fill="#f2b8b8" fill-opacity="0.35"/><ellipse cx="85.00" cy="427.70" rx="2.0" ry="0.8" fill="#6a4a52" fill-opacity="0.9"/><ellipse cx="91.90" cy="427.70" rx="2.6" ry="1.5" fill="#f2b8b8" fill-opacity="0.35"/><ellipse cx="91.90" cy="427.70" rx="2.0" ry="0.8" fill="#6a4a52" fill-opacity="0.9"/><ellipse cx="95.80" cy="426.20" rx="2.6" ry="1.5" fill="#f2b8b8" fill-opacity="0.35"/><ellipse cx="95.80" cy="426.20" rx="2.0" ry="0.8" fill="#6a4a52" fill-opacity="0.9"/><ellipse cx="91.90" cy="431.20" rx="2.6" ry="1.5" fill="#f2b8b8" fill-opacity="0.35"/><ellipse cx="91.90" cy="431.20" rx="2.0" ry="0.8" fill="#6a4a52" fill-opacity="0.9"/><ellipse cx="91.90" cy="433.00" rx="2.6" ry="1.5" fill="#f2b8b8" fill-opacity="0.35"/><ellipse cx="91.90" cy="433.00" rx="2.0" ry="0.8" fill="#6a4a52" fill-opacity="0.9"/><ellipse cx="84.20" cy="433.80" rx="2.6" ry="1.5" fill="#f2b8b8" fill-opacity="0.35"/><ellipse cx="84.20" cy="433.80" rx="2.0" ry="0.8" fill="#6a4a52" fill-opacity="0.9"/><ellipse cx="92.70" cy="437.70" rx="2.6" ry="1.5" fill="#f2b8b8" fill-opacity="0.35"/><ellipse cx="92.70" cy="437.70" rx="2.0" ry="0.8" fill="#6a4a52" fill-opacity="0.9"/><ellipse cx="99.00" cy="424.00" rx="2.6" ry="1.5" fill="#f2b8b8" fill-opacity="0.35"/><ellipse cx="99.00" cy="424.00" rx="2.0" ry="0.8" fill="#6a4a52" fill-opacity="0.9"/><ellipse cx="97.00" cy="429.00" rx="2.6" ry="1.5" fill="#f2b8b8" fill-opacity="0.35"/><ellipse cx="97.00" cy="429.00" rx="2.0" ry="0.8" fill="#6a4a52" fill-opacity="0.9"/><ellipse cx="184.50" cy="409.70" rx="2.6" ry="1.5" fill="#f2b8b8" fill-opacity="0.35"/><ellipse cx="184.50" cy="409.70" rx="2.0" ry="0.8" fill="#6a4a52" fill-opacity="0.9"/><ellipse cx="186.50" cy="413.40" rx="2.6" ry="1.5" fill="#f2b8b8" fill-opacity="0.35"/><ellipse cx="186.50" cy="413.40" rx="2.0" ry="0.8" fill="#6a4a52" fill-opacity="0.9"/><ellipse cx="176.50" cy="418.50" rx="2.6" ry="1.5" fill="#f2b8b8" fill-opacity="0.35"/><ellipse cx="176.50" cy="418.50" rx="2.0" ry="0.8" fill="#6a4a52" fill-opacity="0.9"/><ellipse cx="170.40" cy="420.50" rx="2.6" ry="1.5" fill="#f2b8b8" fill-opacity="0.35"/><ellipse cx="170.40" cy="420.50" rx="2.0" ry="0.8" fill="#6a4a52" fill-opacity="0.9"/><ellipse cx="173.50" cy="421.50" rx="2.6" ry="1.5" fill="#f2b8b8" fill-opacity="0.35"/><ellipse cx="173.50" cy="421.50" rx="2.0" ry="0.8" fill="#6a4a52" fill-opacity="0.9"/><ellipse cx="179.60" cy="421.50" rx="2.6" ry="1.5" fill="#f2b8b8" fill-opacity="0.35"/><ellipse cx="179.60" cy="421.50" rx="2.0" ry="0.8" fill="#6a4a52" fill-opacity="0.9"/><ellipse cx="175.00" cy="423.50" rx="2.6" ry="1.5" fill="#f2b8b8" fill-opacity="0.35"/><ellipse cx="175.00" cy="423.50" rx="2.0" ry="0.8" fill="#6a4a52" fill-opacity="0.9"/><ellipse cx="180.40" cy="424.20" rx="2.6" ry="1.5" fill="#f2b8b8" fill-opacity="0.35"/><ellipse cx="180.40" cy="424.20" rx="2.0" ry="0.8" fill="#6a4a52" fill-opacity="0.9"/><ellipse cx="188.00" cy="427.00" rx="2.6" ry="1.5" fill="#f2b8b8" fill-opacity="0.35"/><ellipse cx="188.00" cy="427.00" rx="2.0" ry="0.8" fill="#6a4a52" fill-opacity="0.9"/><ellipse cx="175.00" cy="427.00" rx="2.6" ry="1.5" fill="#f2b8b8" fill-opacity="0.35"/><ellipse cx="175.00" cy="427.00" rx="2.0" ry="0.8" fill="#6a4a52" fill-opacity="0.9"/><ellipse cx="160.40" cy="431.20" rx="2.6" ry="1.5" fill="#f2b8b8" fill-opacity="0.35"/><ellipse cx="160.40" cy="431.20" rx="2.0" ry="0.8" fill="#6a4a52" fill-opacity="0.9"/><ellipse cx="168.00" cy="431.50" rx="2.6" ry="1.5" fill="#f2b8b8" fill-opacity="0.35"/><ellipse cx="168.00" cy="431.50" rx="2.0" ry="0.8" fill="#6a4a52" fill-opacity="0.9"/><ellipse cx="172.70" cy="431.20" rx="2.6" ry="1.5" fill="#f2b8b8" fill-opacity="0.35"/><ellipse cx="172.70" cy="431.20" rx="2.0" ry="0.8" fill="#6a4a52" fill-opacity="0.9"/><ellipse cx="185.00" cy="432.80" rx="2.6" ry="1.5" fill="#f2b8b8" fill-opacity="0.35"/><ellipse cx="185.00" cy="432.80" rx="2.0" ry="0.8" fill="#6a4a52" fill-opacity="0.9"/><ellipse cx="179.60" cy="435.40" rx="2.6" ry="1.5" fill="#f2b8b8" fill-opacity="0.35"/><ellipse cx="179.60" cy="435.40" rx="2.0" ry="0.8" fill="#6a4a52" fill-opacity="0.9"/><ellipse cx="166.00" cy="428.00" rx="2.6" ry="1.5" fill="#f2b8b8" fill-opacity="0.35"/><ellipse cx="166.00" cy="428.00" rx="2.0" ry="0.8" fill="#6a4a52" fill-opacity="0.9"/>
<path d="M36.5,344.0V458.5H219.5" stroke="#222" stroke-width="0.95" fill="none"/>
<text x="30.5" y="456.8" font-size="6.0" text-anchor="end" fill="#2a2a2a">0.0</text>
<text x="30.5" y="435.1" font-size="6.0" text-anchor="end" fill="#2a2a2a">2.5</text>
<text x="30.5" y="413.6" font-size="6.0" text-anchor="end" fill="#2a2a2a">5.0</text>
<text x="30.5" y="391.9" font-size="6.0" text-anchor="end" fill="#2a2a2a">7.5</text>
<text x="30.5" y="370.4" font-size="6.0" text-anchor="end" fill="#2a2a2a">10.0</text>
<text x="30.5" y="348.8" font-size="6.0" text-anchor="end" fill="#2a2a2a">12.5</text>
<text x="46.4" y="470.8" font-size="6.3" text-anchor="middle" fill="#2a2a2a">−6</text>
<text x="90.5" y="470.8" font-size="6.3" text-anchor="middle" fill="#2a2a2a">−3</text>
<text x="134.6" y="470.8" font-size="6.3" text-anchor="middle" fill="#2a2a2a">0</text>
<text x="178.7" y="470.8" font-size="6.3" text-anchor="middle" fill="#2a2a2a">3</text>
<path d="M33.9,454.6H36.5 M33.9,433.0H36.5 M33.9,411.4H36.5 M33.9,389.8H36.5 M33.9,368.2H36.5 M33.9,346.6H36.5 M46.4,458.5V461.1 M90.5,458.5V461.1 M134.6,458.5V461.1 M178.7,458.5V461.1" stroke="#222" stroke-width="0.8" fill="none"/>
<text x="106.6" y="481.6" font-size="7.6" fill="#222" stroke="#222" stroke-width="0.15" textLength="41.9" lengthAdjust="spacingAndGlyphs">Log<tspan font-size="4.6" dy="1.3">2</tspan><tspan dy="-1.3"> fold change</tspan></text>
<g transform="translate(13.5,412.6) rotate(-90)"><text x="0" y="0" font-size="7.4" fill="#222" stroke="#222" stroke-width="0.15" textLength="21.2" lengthAdjust="spacingAndGlyphs">-Log<tspan font-size="4.8" dy="1.5">10</tspan><tspan dy="-1.5" font-style="italic"> P</tspan></text></g>
<circle cx="47.8" cy="338.8" r="1.9" fill="none" stroke="#8a8a8a" stroke-width="0.6"/>
<text x="52.4" y="340.8" font-size="6.0" text-anchor="start" fill="#333">NS</text>
<path d="M69.2,336.8L73.0,340.6M73.0,336.8L69.2,340.6" stroke="#5cb85c" stroke-width="0.6"/>
<text x="76.3" y="340.8" font-size="6.0" text-anchor="start" fill="#333">Log<tspan font-size="3.6" dy="1.2">2</tspan><tspan dy="-1.2"> FC</tspan></text>
<path d="M110.6,336.5L112.9,338.8L110.6,341.1L108.3,338.8Z" fill="none" stroke="#6d6dd2" stroke-width="0.6"/>
<text x="116.8" y="340.8" font-size="6.0" text-anchor="start" fill="#333"><tspan font-style="italic">P</tspan>−value</text>
<path d="M146.6,336.4H151.8L149.2,341.3Z" fill="none" stroke="#e02828" stroke-width="0.65"/>
<text x="156" y="340.8" font-size="6.0" text-anchor="start" fill="#333"><tspan font-style="italic">P</tspan>−value and log<tspan font-size="3.6" dy="1.2">2</tspan><tspan dy="-1.2"> FC</tspan></text>
<text x="221.2" y="15.9" font-size="11" text-anchor="start" fill="#111" font-weight="bold">C</text>
<path d="M305.5,23.7H395.5" stroke="#3caa5a" stroke-width="1.1"/>
<path d="M299.8,23.7L306.2,21.0L306.2,26.4Z" fill="#3caa5a"/>
<path d="M311.8,20.6V15.8" stroke="#3caa5a" stroke-width="0.7"/><path d="M311.8,13L313.4,16.2L310.2,16.2Z" fill="#3caa5a"/>
<text x="319.8" y="19.4" font-size="7.8" text-anchor="start" fill="#3caa5a" textLength="65.2" lengthAdjust="spacingAndGlyphs">in Aortic Thrombus</text>
<path d="M398,23.7H488.5" stroke="#c3272d" stroke-width="1.1"/>
<path d="M494.5,23.7L488,21.0L488,26.4Z" fill="#c3272d"/>
<path d="M400.6,13V17.8" stroke="#c3272d" stroke-width="0.7"/><path d="M400.6,20.6L402.2,17.4L399,17.4Z" fill="#c3272d"/>
<text x="409" y="19.4" font-size="7.8" text-anchor="start" fill="#c3272d" textLength="65.2" lengthAdjust="spacingAndGlyphs">in Aortic Thrombus</text>
<text x="352.3" y="31.7" font-size="5.7" text-anchor="middle" fill="#333" textLength="22.8" lengthAdjust="spacingAndGlyphs">activated</text>
<text x="441.3" y="31.7" font-size="5.7" text-anchor="middle" fill="#333" textLength="30.5" lengthAdjust="spacingAndGlyphs">suppressed</text>
<text x="303.6" y="42.75" font-size="3.9" text-anchor="end" fill="#333">collagen trimer</text>
<text x="303.6" y="50.90" font-size="3.9" text-anchor="end" fill="#333">fibrillar collagen trimer</text>
<text x="303.6" y="59.05" font-size="3.9" text-anchor="end" fill="#333">collagen type V trimer extracellular matrix</text>
<text x="303.6" y="67.20" font-size="3.9" text-anchor="end" fill="#333">structural constituent conferring tensile strength</text>
<text x="303.6" y="75.35" font-size="3.9" text-anchor="end" fill="#333">collagen fibril organization</text>
<text x="303.6" y="83.50" font-size="3.9" text-anchor="end" fill="#333">macromolecule catabolic process</text>
<text x="303.6" y="91.65" font-size="3.9" text-anchor="end" fill="#333">virus receptor activity</text>
<text x="303.6" y="99.80" font-size="3.9" text-anchor="end" fill="#333">growth factor binding</text>
<text x="303.6" y="107.95" font-size="3.9" text-anchor="end" fill="#333">extracellular matrix organization</text>
<text x="303.6" y="116.10" font-size="3.9" text-anchor="end" fill="#333">extracellular structure organization</text>
<text x="303.6" y="124.25" font-size="3.9" text-anchor="end" fill="#333">external encapsulating structure organization</text>
<text x="303.6" y="132.40" font-size="3.9" text-anchor="end" fill="#333">sprouting angiogenesis</text>
<text x="303.6" y="140.55" font-size="3.9" text-anchor="end" fill="#333">hormone transport</text>
<text x="303.6" y="148.70" font-size="3.9" text-anchor="end" fill="#333">extracellular matrix structural constituent</text>
<text x="303.6" y="156.85" font-size="3.9" text-anchor="end" fill="#333">integrin complex</text>
<text x="303.6" y="165.00" font-size="3.9" text-anchor="end" fill="#333">chemokine binding</text>
<text x="303.6" y="173.15" font-size="3.9" text-anchor="end" fill="#333">cytoskeletal protein binding</text>
<text x="303.6" y="181.30" font-size="3.9" text-anchor="end" fill="#333">negative regulation of protein kinase activity</text>
<text x="303.6" y="189.45" font-size="3.9" text-anchor="end" fill="#333">regulation of cell size</text>
<text x="303.6" y="197.60" font-size="3.9" text-anchor="end" fill="#333">regulation of hormone levels</text>
<text x="303.6" y="205.75" font-size="3.9" text-anchor="end" fill="#333">cytokine-mediated signaling pathway</text>
<text x="303.6" y="213.90" font-size="3.9" text-anchor="end" fill="#333">structural molecule activity</text>
<text x="303.6" y="222.05" font-size="3.9" text-anchor="end" fill="#333">external encapsulating structure</text>
<text x="303.6" y="230.20" font-size="3.9" text-anchor="end" fill="#333">extracellular matrix</text>
<text x="303.6" y="238.35" font-size="3.9" text-anchor="end" fill="#333">inflammatory response</text>
<text x="303.6" y="246.50" font-size="3.9" text-anchor="end" fill="#333">positive regulation of cell communication</text>
<text x="303.6" y="254.65" font-size="3.9" text-anchor="end" fill="#333">regulation of cell communication</text>
<text x="303.6" y="262.80" font-size="3.9" text-anchor="end" fill="#333">cation binding</text>
<text x="303.6" y="270.95" font-size="3.9" text-anchor="end" fill="#333">metal ion binding</text>
<text x="303.6" y="279.10" font-size="3.9" text-anchor="end" fill="#333">defense response</text>
<path d="M305.9,41.40H308.5 M305.9,49.55H308.5 M305.9,57.70H308.5 M305.9,65.85H308.5 M305.9,74.00H308.5 M305.9,82.15H308.5 M305.9,90.30H308.5 M305.9,98.45H308.5 M305.9,106.60H308.5 M305.9,114.75H308.5 M305.9,122.90H308.5 M305.9,131.05H308.5 M305.9,139.20H308.5 M305.9,147.35H308.5 M305.9,155.50H308.5 M305.9,163.65H308.5 M305.9,171.80H308.5 M305.9,179.95H308.5 M305.9,188.10H308.5 M305.9,196.25H308.5 M305.9,204.40H308.5 M305.9,212.55H308.5 M305.9,220.70H308.5 M305.9,228.85H308.5 M305.9,237.00H308.5 M305.9,245.15H308.5 M305.9,253.30H308.5 M305.9,261.45H308.5 M305.9,269.60H308.5 M305.9,277.75H308.5" stroke="#222" stroke-width="0.85"/>
<path d="M308.5,36.8V282.6H395.7" stroke="#222" stroke-width="0.9" fill="none"/>
<path d="M397.3,282.6H485.2" stroke="#222" stroke-width="0.9" fill="none"/>
<text x="322.8" y="293.1" font-size="4.7" text-anchor="middle" fill="#444">0.4</text>
<text x="411.5" y="293.1" font-size="4.7" text-anchor="middle" fill="#444">0.4</text>
<text x="346.2" y="293.1" font-size="4.7" text-anchor="middle" fill="#444">0.6</text>
<text x="435.0" y="293.1" font-size="4.7" text-anchor="middle" fill="#444">0.6</text>
<text x="369.5" y="293.1" font-size="4.7" text-anchor="middle" fill="#444">0.8</text>
<text x="458.5" y="293.1" font-size="4.7" text-anchor="middle" fill="#444">0.8</text>
<text x="392.9" y="293.1" font-size="4.7" text-anchor="middle" fill="#444">1.0</text>
<text x="482.0" y="293.1" font-size="4.7" text-anchor="middle" fill="#444">1.0</text>
<path d="M322.8,282.6V285.2 M411.5,282.6V285.2 M346.2,282.6V285.2 M435.0,282.6V285.2 M369.5,282.6V285.2 M458.5,282.6V285.2 M392.9,282.6V285.2 M482.0,282.6V285.2" stroke="#222" stroke-width="0.7"/>
<text x="397.2" y="303.8" font-size="8.3" text-anchor="middle" fill="#222" textLength="25.2" lengthAdjust="spacingAndGlyphs" stroke="#222" stroke-width="0.18">Gene ratio</text>
<circle cx="392.3" cy="41.40" r="1.90" fill="#b40a6e"/>
<circle cx="392.3" cy="49.55" r="1.90" fill="#b40a6e"/>
<circle cx="392.3" cy="57.70" r="1.40" fill="#b40a6e"/>
<circle cx="392.3" cy="65.85" r="1.90" fill="#b40a6e"/>
<circle cx="392.3" cy="74.00" r="1.90" fill="#b40a6e"/>
<circle cx="473.7" cy="82.15" r="2.45" fill="#b40a6e"/>
<circle cx="461.9" cy="90.30" r="1.95" fill="#b40a6e"/>
<circle cx="371.2" cy="98.45" r="2.15" fill="#b40a6e"/>
<circle cx="369.1" cy="106.60" r="2.15" fill="#b40a6e"/>
<circle cx="369.1" cy="114.75" r="2.15" fill="#b40a6e"/>
<circle cx="369.1" cy="122.90" r="2.15" fill="#b40a6e"/>
<circle cx="458.1" cy="131.05" r="1.90" fill="#b40a6e"/>
<circle cx="458.1" cy="139.20" r="1.90" fill="#b40a6e"/>
<circle cx="365.4" cy="147.35" r="2.05" fill="#b40a6e"/>
<circle cx="452.3" cy="155.50" r="1.85" fill="#b40a6e"/>
<circle cx="452.3" cy="163.65" r="1.85" fill="#b40a6e"/>
<circle cx="449.3" cy="171.80" r="2.35" fill="#b40a6e"/>
<circle cx="442.6" cy="179.95" r="1.45" fill="#b40a6e"/>
<circle cx="442.6" cy="188.10" r="1.45" fill="#b40a6e"/>
<circle cx="442.6" cy="196.25" r="1.55" fill="#b40a6e"/>
<circle cx="442.6" cy="204.40" r="1.90" fill="#b40a6e"/>
<circle cx="348.8" cy="212.55" r="2.05" fill="#b40a6e"/>
<circle cx="339.6" cy="220.70" r="2.25" fill="#b40a6e"/>
<circle cx="339.6" cy="228.85" r="2.25" fill="#b40a6e"/>
<circle cx="421.2" cy="237.00" r="2.15" fill="#b40a6e"/>
<circle cx="418.2" cy="245.15" r="2.35" fill="#b40a6e"/>
<circle cx="414.6" cy="253.30" r="2.65" fill="#b40a6e"/>
<circle cx="325.7" cy="261.45" r="2.35" fill="#b40a6e"/>
<circle cx="323.3" cy="269.60" r="2.35" fill="#b40a6e"/>
<circle cx="401.8" cy="277.75" r="2.15" fill="#b40a6e"/>
<text x="480.7" y="122.6" font-size="4.6" text-anchor="start" fill="#333">Count</text>
<circle cx="483.5" cy="128.6" r="1.4" fill="#111"/>
<text x="489.9" y="130.3" font-size="4.7" text-anchor="start" fill="#333">5</text>
<circle cx="483.5" cy="134.0" r="1.85" fill="#111"/>
<text x="489.9" y="135.7" font-size="4.7" text-anchor="start" fill="#333">10</text>
<circle cx="483.5" cy="139.8" r="2.25" fill="#111"/>
<text x="489.9" y="141.5" font-size="4.7" text-anchor="start" fill="#333">15</text>
<circle cx="483.5" cy="146.0" r="2.5" fill="#111"/>
<text x="489.9" y="147.7" font-size="4.7" text-anchor="start" fill="#333">20</text>
<circle cx="483.5" cy="153.0" r="2.85" fill="#111"/>
<text x="489.9" y="154.7" font-size="4.7" text-anchor="start" fill="#333">25</text>
<text x="480.7" y="169.0" font-size="4.8" text-anchor="start" fill="#333">p.adjust</text>
<rect x="481" y="173" width="5.7" height="27.5" fill="#c0047e"/>
<path d="M481,186.4H482.4M485.3,186.4H486.7" stroke="#fff" stroke-width="0.4"/>
<text x="489.2" y="188.4" font-size="4.7" text-anchor="start" fill="#555">0.05</text>
<rect x="338.7" y="336.65" width="156.96" height="7.2" fill="#e8150f"/>
<text x="325.8" y="342.00" font-size="4.9" text-anchor="end" fill="#3a3a3a">wound healing</text>
<rect x="338.7" y="344.72" width="137.34" height="7.2" fill="#e8150f"/>
<text x="325.8" y="350.07" font-size="4.9" text-anchor="end" fill="#3a3a3a">leukocyte migration</text>
<rect x="338.7" y="352.79" width="143.88" height="7.2" fill="#e8150f"/>
<text x="325.8" y="358.14" font-size="4.9" text-anchor="end" fill="#3a3a3a">mononuclear cell differentiation</text>
<rect x="338.7" y="360.86" width="117.72" height="7.2" fill="#e8150f"/>
<text x="325.8" y="366.21" font-size="4.9" text-anchor="end" fill="#3a3a3a">tissue homeostasis</text>
<rect x="338.7" y="368.93" width="130.80" height="7.2" fill="#e8140f"/>
<text x="325.8" y="374.28" font-size="4.9" text-anchor="end" fill="#3a3a3a">cell-substrate adhesion</text>
<rect x="338.7" y="377.00" width="117.72" height="7.2" fill="#e8140f"/>
<text x="325.8" y="382.35" font-size="4.9" text-anchor="end" fill="#3a3a3a">anatomical structure homeostasis</text>
<rect x="338.7" y="385.07" width="124.26" height="7.2" fill="#e81210"/>
<text x="325.8" y="390.42" font-size="4.9" text-anchor="end" fill="#3a3a3a">lymphocyte differentiation</text>
<rect x="338.7" y="393.14" width="124.26" height="7.2" fill="#e61218"/>
<text x="325.8" y="398.49" font-size="4.9" text-anchor="end" fill="#3a3a3a">positive regulation of protein kinase activity</text>
<rect x="338.7" y="401.21" width="130.80" height="7.2" fill="#e41228"/>
<text x="325.8" y="406.56" font-size="4.9" text-anchor="end" fill="#3a3a3a">positive regulation of kinase activity</text>
<rect x="338.7" y="409.28" width="98.10" height="7.2" fill="#e0102f"/>
<text x="325.8" y="414.63" font-size="4.9" text-anchor="end" fill="#3a3a3a">cell-matrix adhesion</text>
<rect x="338.7" y="417.35" width="130.80" height="7.2" fill="#e21230"/>
<text x="325.8" y="422.70" font-size="4.9" text-anchor="end" fill="#3a3a3a">positive regulation of MAPK cascade</text>
<rect x="338.7" y="425.42" width="130.80" height="7.2" fill="#e01232"/>
<text x="325.8" y="430.77" font-size="4.9" text-anchor="end" fill="#3a3a3a">T cell activation</text>
<rect x="338.7" y="433.49" width="98.10" height="7.2" fill="#d31682"/>
<text x="325.8" y="438.84" font-size="4.9" text-anchor="end" fill="#3a3a3a">T cell differentiation</text>
<rect x="338.7" y="441.56" width="91.56" height="7.2" fill="#9e1892"/>
<text x="325.8" y="446.91" font-size="4.9" text-anchor="end" fill="#3a3a3a">myeloid leukocyte migration</text>
<rect x="338.7" y="449.63" width="111.18" height="7.2" fill="#2f2a8c"/>
<text x="325.8" y="454.98" font-size="4.9" text-anchor="end" fill="#3a3a3a">peptidyl-tyrosine phosphorylation</text>
<path d="M328.4,340.30H331 M328.4,348.37H331 M328.4,356.44H331 M328.4,364.51H331 M328.4,372.58H331 M328.4,380.65H331 M328.4,388.72H331 M328.4,396.79H331 M328.4,404.86H331 M328.4,412.93H331 M328.4,421.00H331 M328.4,429.07H331 M328.4,437.14H331 M328.4,445.21H331 M328.4,453.28H331" stroke="#222" stroke-width="0.85"/>
<path d="M331.5,335.5V459.5H504.2" stroke="#222" stroke-width="1" fill="none"/>
<text x="338.7" y="470.5" font-size="5.5" text-anchor="middle" fill="#333">0</text>
<text x="371.4" y="470.5" font-size="5.5" text-anchor="middle" fill="#333">5</text>
<text x="404.1" y="470.5" font-size="5.5" text-anchor="middle" fill="#333">10</text>
<text x="436.8" y="470.5" font-size="5.5" text-anchor="middle" fill="#333">15</text>
<text x="469.5" y="470.5" font-size="5.5" text-anchor="middle" fill="#333">20</text>
<text x="502.2" y="470.5" font-size="5.5" text-anchor="middle" fill="#333">25</text>
<path d="M338.7,459.5V462 M371.4,459.5V462 M404.1,459.5V462 M436.8,459.5V462 M469.5,459.5V462 M502.2,459.5V462" stroke="#222" stroke-width="0.7"/>
<text x="417.9" y="481.4" font-size="7.2" text-anchor="middle" fill="#222" textLength="13.9" lengthAdjust="spacingAndGlyphs" stroke="#222" stroke-width="0.18">Count</text>
<text x="485.6" y="397.2" font-size="5.6" text-anchor="start" fill="#333" textLength="20" lengthAdjust="spacingAndGlyphs"><tspan font-style="italic">P</tspan>.adjust</text>
<rect x="485.2" y="401.9" width="7.9" height="42.6" fill="url(#pg)"/>
<text x="496.5" y="414.8" font-size="5.2" text-anchor="start" fill="#333" textLength="16.9" lengthAdjust="spacingAndGlyphs">2e−08</text>
<text x="496.5" y="425.4" font-size="5.2" text-anchor="start" fill="#333" textLength="16.9" lengthAdjust="spacingAndGlyphs">4e−08</text>
<text x="496.5" y="436.0" font-size="5.2" text-anchor="start" fill="#333" textLength="16.9" lengthAdjust="spacingAndGlyphs">6e−08</text>
<path d="M485,413H486.6M491.2,413H492.8 M485,423.6H486.6M491.2,423.6H492.8 M485,434.2H486.6M491.2,434.2H492.8" stroke="#fff" stroke-width="0.4"/>
<rect x="0.5" y="0.5" width="519" height="491" fill="none" stroke="#606060" stroke-width="1"/>
</svg></body></html>
